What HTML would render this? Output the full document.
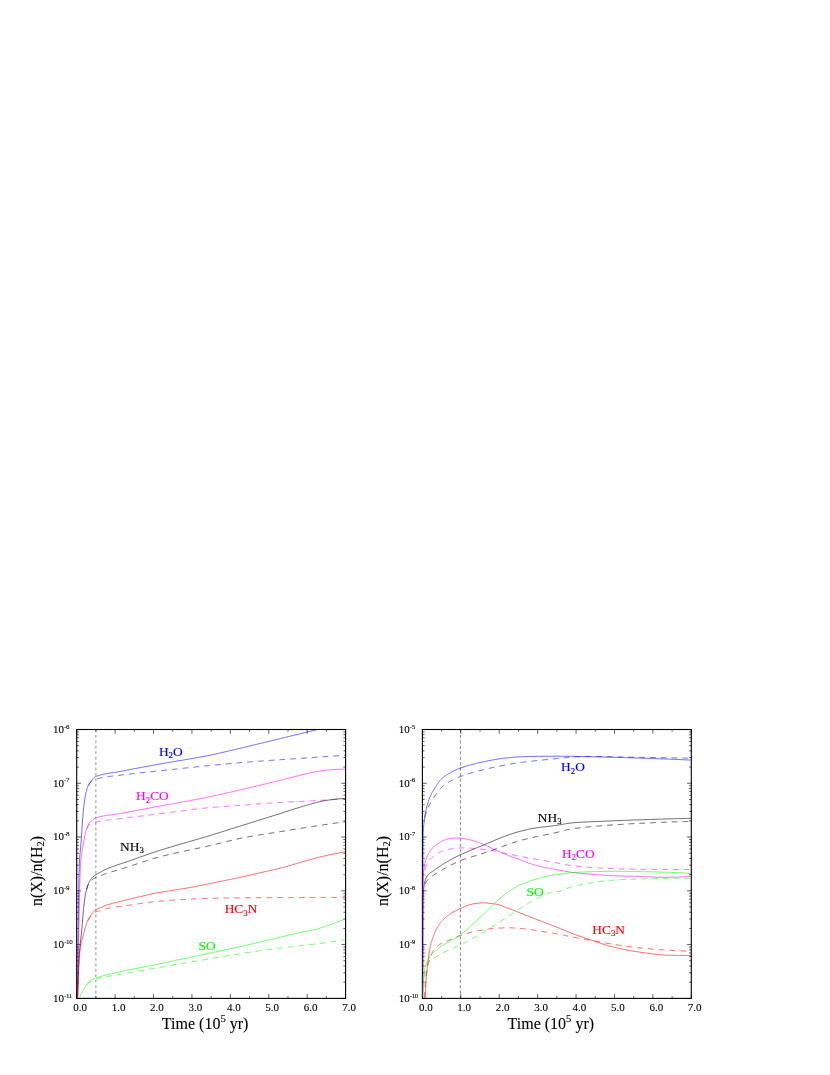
<!DOCTYPE html>
<html><head><meta charset="utf-8"><title>Figure</title>
<style>html,body{margin:0;padding:0;background:#fff}svg{display:block;will-change:transform}text{font-family:"Liberation Serif",serif}.k{stroke:#000;stroke-width:0.1}</style></head><body>
<svg width="830" height="1075" viewBox="0 0 830 1075">
<rect width="830" height="1075" fill="#fff"/>
<defs><clipPath id="c1"><rect x="76.70" y="729.50" width="268.90" height="268.90"/></clipPath><clipPath id="c2"><rect x="422.40" y="729.50" width="268.90" height="268.90"/></clipPath></defs>
<path d="M95.8,729.50 V998.40" stroke="#b8b8b8" stroke-width="1.55" stroke-dasharray="2.8,2.64" fill="none"/>
<path d="M460.4,729.50 V998.40" stroke="#222" stroke-width="0.55" stroke-dasharray="3.2,2.24" fill="none"/>
<rect x="76.70" y="729.50" width="268.90" height="268.90" fill="none" stroke="#000" stroke-width="1.1"/>
<path d="M76.70,998.40 v-4.20 M76.70,729.50 v4.20" stroke="#000" stroke-width="0.65"/>
<path d="M95.91,998.40 v-2.20 M95.91,729.50 v2.20" stroke="#000" stroke-width="0.65"/>
<path d="M115.11,998.40 v-4.20 M115.11,729.50 v4.20" stroke="#000" stroke-width="0.65"/>
<path d="M134.32,998.40 v-2.20 M134.32,729.50 v2.20" stroke="#000" stroke-width="0.65"/>
<path d="M153.53,998.40 v-4.20 M153.53,729.50 v4.20" stroke="#000" stroke-width="0.65"/>
<path d="M172.74,998.40 v-2.20 M172.74,729.50 v2.20" stroke="#000" stroke-width="0.65"/>
<path d="M191.94,998.40 v-4.20 M191.94,729.50 v4.20" stroke="#000" stroke-width="0.65"/>
<path d="M211.15,998.40 v-2.20 M211.15,729.50 v2.20" stroke="#000" stroke-width="0.65"/>
<path d="M230.36,998.40 v-4.20 M230.36,729.50 v4.20" stroke="#000" stroke-width="0.65"/>
<path d="M249.56,998.40 v-2.20 M249.56,729.50 v2.20" stroke="#000" stroke-width="0.65"/>
<path d="M268.77,998.40 v-4.20 M268.77,729.50 v4.20" stroke="#000" stroke-width="0.65"/>
<path d="M287.98,998.40 v-2.20 M287.98,729.50 v2.20" stroke="#000" stroke-width="0.65"/>
<path d="M307.19,998.40 v-4.20 M307.19,729.50 v4.20" stroke="#000" stroke-width="0.65"/>
<path d="M326.39,998.40 v-2.20 M326.39,729.50 v2.20" stroke="#000" stroke-width="0.65"/>
<path d="M345.60,998.40 v-4.20 M345.60,729.50 v4.20" stroke="#000" stroke-width="0.65"/>
<path d="M76.70,729.50 h4.20 M345.60,729.50 h-4.20" stroke="#000" stroke-width="0.65"/>
<path d="M76.70,767.09 h2.20 M345.60,767.09 h-2.20" stroke="#000" stroke-width="0.65"/>
<path d="M76.70,757.62 h2.20 M345.60,757.62 h-2.20" stroke="#000" stroke-width="0.65"/>
<path d="M76.70,750.90 h2.20 M345.60,750.90 h-2.20" stroke="#000" stroke-width="0.65"/>
<path d="M76.70,745.69 h2.20 M345.60,745.69 h-2.20" stroke="#000" stroke-width="0.65"/>
<path d="M76.70,741.43 h2.20 M345.60,741.43 h-2.20" stroke="#000" stroke-width="0.65"/>
<path d="M76.70,737.83 h2.20 M345.60,737.83 h-2.20" stroke="#000" stroke-width="0.65"/>
<path d="M76.70,734.71 h2.20 M345.60,734.71 h-2.20" stroke="#000" stroke-width="0.65"/>
<path d="M76.70,731.96 h2.20 M345.60,731.96 h-2.20" stroke="#000" stroke-width="0.65"/>
<path d="M76.70,783.28 h4.20 M345.60,783.28 h-4.20" stroke="#000" stroke-width="0.65"/>
<path d="M76.70,820.87 h2.20 M345.60,820.87 h-2.20" stroke="#000" stroke-width="0.65"/>
<path d="M76.70,811.40 h2.20 M345.60,811.40 h-2.20" stroke="#000" stroke-width="0.65"/>
<path d="M76.70,804.68 h2.20 M345.60,804.68 h-2.20" stroke="#000" stroke-width="0.65"/>
<path d="M76.70,799.47 h2.20 M345.60,799.47 h-2.20" stroke="#000" stroke-width="0.65"/>
<path d="M76.70,795.21 h2.20 M345.60,795.21 h-2.20" stroke="#000" stroke-width="0.65"/>
<path d="M76.70,791.61 h2.20 M345.60,791.61 h-2.20" stroke="#000" stroke-width="0.65"/>
<path d="M76.70,788.49 h2.20 M345.60,788.49 h-2.20" stroke="#000" stroke-width="0.65"/>
<path d="M76.70,785.74 h2.20 M345.60,785.74 h-2.20" stroke="#000" stroke-width="0.65"/>
<path d="M76.70,837.06 h4.20 M345.60,837.06 h-4.20" stroke="#000" stroke-width="0.65"/>
<path d="M76.70,874.65 h2.20 M345.60,874.65 h-2.20" stroke="#000" stroke-width="0.65"/>
<path d="M76.70,865.18 h2.20 M345.60,865.18 h-2.20" stroke="#000" stroke-width="0.65"/>
<path d="M76.70,858.46 h2.20 M345.60,858.46 h-2.20" stroke="#000" stroke-width="0.65"/>
<path d="M76.70,853.25 h2.20 M345.60,853.25 h-2.20" stroke="#000" stroke-width="0.65"/>
<path d="M76.70,848.99 h2.20 M345.60,848.99 h-2.20" stroke="#000" stroke-width="0.65"/>
<path d="M76.70,845.39 h2.20 M345.60,845.39 h-2.20" stroke="#000" stroke-width="0.65"/>
<path d="M76.70,842.27 h2.20 M345.60,842.27 h-2.20" stroke="#000" stroke-width="0.65"/>
<path d="M76.70,839.52 h2.20 M345.60,839.52 h-2.20" stroke="#000" stroke-width="0.65"/>
<path d="M76.70,890.84 h4.20 M345.60,890.84 h-4.20" stroke="#000" stroke-width="0.65"/>
<path d="M76.70,928.43 h2.20 M345.60,928.43 h-2.20" stroke="#000" stroke-width="0.65"/>
<path d="M76.70,918.96 h2.20 M345.60,918.96 h-2.20" stroke="#000" stroke-width="0.65"/>
<path d="M76.70,912.24 h2.20 M345.60,912.24 h-2.20" stroke="#000" stroke-width="0.65"/>
<path d="M76.70,907.03 h2.20 M345.60,907.03 h-2.20" stroke="#000" stroke-width="0.65"/>
<path d="M76.70,902.77 h2.20 M345.60,902.77 h-2.20" stroke="#000" stroke-width="0.65"/>
<path d="M76.70,899.17 h2.20 M345.60,899.17 h-2.20" stroke="#000" stroke-width="0.65"/>
<path d="M76.70,896.05 h2.20 M345.60,896.05 h-2.20" stroke="#000" stroke-width="0.65"/>
<path d="M76.70,893.30 h2.20 M345.60,893.30 h-2.20" stroke="#000" stroke-width="0.65"/>
<path d="M76.70,944.62 h4.20 M345.60,944.62 h-4.20" stroke="#000" stroke-width="0.65"/>
<path d="M76.70,982.21 h2.20 M345.60,982.21 h-2.20" stroke="#000" stroke-width="0.65"/>
<path d="M76.70,972.74 h2.20 M345.60,972.74 h-2.20" stroke="#000" stroke-width="0.65"/>
<path d="M76.70,966.02 h2.20 M345.60,966.02 h-2.20" stroke="#000" stroke-width="0.65"/>
<path d="M76.70,960.81 h2.20 M345.60,960.81 h-2.20" stroke="#000" stroke-width="0.65"/>
<path d="M76.70,956.55 h2.20 M345.60,956.55 h-2.20" stroke="#000" stroke-width="0.65"/>
<path d="M76.70,952.95 h2.20 M345.60,952.95 h-2.20" stroke="#000" stroke-width="0.65"/>
<path d="M76.70,949.83 h2.20 M345.60,949.83 h-2.20" stroke="#000" stroke-width="0.65"/>
<path d="M76.70,947.08 h2.20 M345.60,947.08 h-2.20" stroke="#000" stroke-width="0.65"/>
<path d="M76.70,998.40 h4.20 M345.60,998.40 h-4.20" stroke="#000" stroke-width="0.65"/>
<text class="k" x="80.10" y="1010.60" font-size="11" text-anchor="middle">0.0</text>
<text class="k" x="118.51" y="1010.60" font-size="11" text-anchor="middle">1.0</text>
<text class="k" x="156.93" y="1010.60" font-size="11" text-anchor="middle">2.0</text>
<text class="k" x="195.34" y="1010.60" font-size="11" text-anchor="middle">3.0</text>
<text class="k" x="233.76" y="1010.60" font-size="11" text-anchor="middle">4.0</text>
<text class="k" x="272.17" y="1010.60" font-size="11" text-anchor="middle">5.0</text>
<text class="k" x="310.59" y="1010.60" font-size="11" text-anchor="middle">6.0</text>
<text class="k" x="349.00" y="1010.60" font-size="11" text-anchor="middle">7.0</text>
<text class="k" x="53.00" y="732.90" font-size="11">10<tspan font-size="7" dy="-4.3" letter-spacing="-0.35">-6</tspan></text>
<text class="k" x="53.00" y="786.68" font-size="11">10<tspan font-size="7" dy="-4.3" letter-spacing="-0.35">-7</tspan></text>
<text class="k" x="53.00" y="840.46" font-size="11">10<tspan font-size="7" dy="-4.3" letter-spacing="-0.35">-8</tspan></text>
<text class="k" x="53.00" y="894.24" font-size="11">10<tspan font-size="7" dy="-4.3" letter-spacing="-0.35">-9</tspan></text>
<text class="k" x="53.00" y="948.02" font-size="11">10<tspan font-size="7" dy="-4.3" letter-spacing="-0.35">-10</tspan></text>
<text class="k" x="53.00" y="1001.80" font-size="11">10<tspan font-size="7" dy="-4.3" letter-spacing="-0.35">-11</tspan></text>
<text class="k" x="205.15" y="1028.70" font-size="16" text-anchor="middle">Time (10<tspan font-size="10.8" dy="-7.1">5</tspan><tspan dy="7.1"> yr)</tspan></text>
<text class="k" transform="translate(41.90,871.00) rotate(-90)" font-size="16" text-anchor="middle">n(X)/n(H<tspan font-size="10.5" dy="2.4">2</tspan><tspan dy="-2.4">)</tspan></text>
<rect x="422.40" y="729.50" width="268.90" height="268.90" fill="none" stroke="#000" stroke-width="1.1"/>
<path d="M422.40,998.40 v-4.20 M422.40,729.50 v4.20" stroke="#000" stroke-width="0.65"/>
<path d="M441.61,998.40 v-2.20 M441.61,729.50 v2.20" stroke="#000" stroke-width="0.65"/>
<path d="M460.81,998.40 v-4.20 M460.81,729.50 v4.20" stroke="#000" stroke-width="0.65"/>
<path d="M480.02,998.40 v-2.20 M480.02,729.50 v2.20" stroke="#000" stroke-width="0.65"/>
<path d="M499.23,998.40 v-4.20 M499.23,729.50 v4.20" stroke="#000" stroke-width="0.65"/>
<path d="M518.44,998.40 v-2.20 M518.44,729.50 v2.20" stroke="#000" stroke-width="0.65"/>
<path d="M537.64,998.40 v-4.20 M537.64,729.50 v4.20" stroke="#000" stroke-width="0.65"/>
<path d="M556.85,998.40 v-2.20 M556.85,729.50 v2.20" stroke="#000" stroke-width="0.65"/>
<path d="M576.06,998.40 v-4.20 M576.06,729.50 v4.20" stroke="#000" stroke-width="0.65"/>
<path d="M595.26,998.40 v-2.20 M595.26,729.50 v2.20" stroke="#000" stroke-width="0.65"/>
<path d="M614.47,998.40 v-4.20 M614.47,729.50 v4.20" stroke="#000" stroke-width="0.65"/>
<path d="M633.68,998.40 v-2.20 M633.68,729.50 v2.20" stroke="#000" stroke-width="0.65"/>
<path d="M652.89,998.40 v-4.20 M652.89,729.50 v4.20" stroke="#000" stroke-width="0.65"/>
<path d="M672.09,998.40 v-2.20 M672.09,729.50 v2.20" stroke="#000" stroke-width="0.65"/>
<path d="M691.30,998.40 v-4.20 M691.30,729.50 v4.20" stroke="#000" stroke-width="0.65"/>
<path d="M422.40,729.50 h4.20 M691.30,729.50 h-4.20" stroke="#000" stroke-width="0.65"/>
<path d="M422.40,767.09 h2.20 M691.30,767.09 h-2.20" stroke="#000" stroke-width="0.65"/>
<path d="M422.40,757.62 h2.20 M691.30,757.62 h-2.20" stroke="#000" stroke-width="0.65"/>
<path d="M422.40,750.90 h2.20 M691.30,750.90 h-2.20" stroke="#000" stroke-width="0.65"/>
<path d="M422.40,745.69 h2.20 M691.30,745.69 h-2.20" stroke="#000" stroke-width="0.65"/>
<path d="M422.40,741.43 h2.20 M691.30,741.43 h-2.20" stroke="#000" stroke-width="0.65"/>
<path d="M422.40,737.83 h2.20 M691.30,737.83 h-2.20" stroke="#000" stroke-width="0.65"/>
<path d="M422.40,734.71 h2.20 M691.30,734.71 h-2.20" stroke="#000" stroke-width="0.65"/>
<path d="M422.40,731.96 h2.20 M691.30,731.96 h-2.20" stroke="#000" stroke-width="0.65"/>
<path d="M422.40,783.28 h4.20 M691.30,783.28 h-4.20" stroke="#000" stroke-width="0.65"/>
<path d="M422.40,820.87 h2.20 M691.30,820.87 h-2.20" stroke="#000" stroke-width="0.65"/>
<path d="M422.40,811.40 h2.20 M691.30,811.40 h-2.20" stroke="#000" stroke-width="0.65"/>
<path d="M422.40,804.68 h2.20 M691.30,804.68 h-2.20" stroke="#000" stroke-width="0.65"/>
<path d="M422.40,799.47 h2.20 M691.30,799.47 h-2.20" stroke="#000" stroke-width="0.65"/>
<path d="M422.40,795.21 h2.20 M691.30,795.21 h-2.20" stroke="#000" stroke-width="0.65"/>
<path d="M422.40,791.61 h2.20 M691.30,791.61 h-2.20" stroke="#000" stroke-width="0.65"/>
<path d="M422.40,788.49 h2.20 M691.30,788.49 h-2.20" stroke="#000" stroke-width="0.65"/>
<path d="M422.40,785.74 h2.20 M691.30,785.74 h-2.20" stroke="#000" stroke-width="0.65"/>
<path d="M422.40,837.06 h4.20 M691.30,837.06 h-4.20" stroke="#000" stroke-width="0.65"/>
<path d="M422.40,874.65 h2.20 M691.30,874.65 h-2.20" stroke="#000" stroke-width="0.65"/>
<path d="M422.40,865.18 h2.20 M691.30,865.18 h-2.20" stroke="#000" stroke-width="0.65"/>
<path d="M422.40,858.46 h2.20 M691.30,858.46 h-2.20" stroke="#000" stroke-width="0.65"/>
<path d="M422.40,853.25 h2.20 M691.30,853.25 h-2.20" stroke="#000" stroke-width="0.65"/>
<path d="M422.40,848.99 h2.20 M691.30,848.99 h-2.20" stroke="#000" stroke-width="0.65"/>
<path d="M422.40,845.39 h2.20 M691.30,845.39 h-2.20" stroke="#000" stroke-width="0.65"/>
<path d="M422.40,842.27 h2.20 M691.30,842.27 h-2.20" stroke="#000" stroke-width="0.65"/>
<path d="M422.40,839.52 h2.20 M691.30,839.52 h-2.20" stroke="#000" stroke-width="0.65"/>
<path d="M422.40,890.84 h4.20 M691.30,890.84 h-4.20" stroke="#000" stroke-width="0.65"/>
<path d="M422.40,928.43 h2.20 M691.30,928.43 h-2.20" stroke="#000" stroke-width="0.65"/>
<path d="M422.40,918.96 h2.20 M691.30,918.96 h-2.20" stroke="#000" stroke-width="0.65"/>
<path d="M422.40,912.24 h2.20 M691.30,912.24 h-2.20" stroke="#000" stroke-width="0.65"/>
<path d="M422.40,907.03 h2.20 M691.30,907.03 h-2.20" stroke="#000" stroke-width="0.65"/>
<path d="M422.40,902.77 h2.20 M691.30,902.77 h-2.20" stroke="#000" stroke-width="0.65"/>
<path d="M422.40,899.17 h2.20 M691.30,899.17 h-2.20" stroke="#000" stroke-width="0.65"/>
<path d="M422.40,896.05 h2.20 M691.30,896.05 h-2.20" stroke="#000" stroke-width="0.65"/>
<path d="M422.40,893.30 h2.20 M691.30,893.30 h-2.20" stroke="#000" stroke-width="0.65"/>
<path d="M422.40,944.62 h4.20 M691.30,944.62 h-4.20" stroke="#000" stroke-width="0.65"/>
<path d="M422.40,982.21 h2.20 M691.30,982.21 h-2.20" stroke="#000" stroke-width="0.65"/>
<path d="M422.40,972.74 h2.20 M691.30,972.74 h-2.20" stroke="#000" stroke-width="0.65"/>
<path d="M422.40,966.02 h2.20 M691.30,966.02 h-2.20" stroke="#000" stroke-width="0.65"/>
<path d="M422.40,960.81 h2.20 M691.30,960.81 h-2.20" stroke="#000" stroke-width="0.65"/>
<path d="M422.40,956.55 h2.20 M691.30,956.55 h-2.20" stroke="#000" stroke-width="0.65"/>
<path d="M422.40,952.95 h2.20 M691.30,952.95 h-2.20" stroke="#000" stroke-width="0.65"/>
<path d="M422.40,949.83 h2.20 M691.30,949.83 h-2.20" stroke="#000" stroke-width="0.65"/>
<path d="M422.40,947.08 h2.20 M691.30,947.08 h-2.20" stroke="#000" stroke-width="0.65"/>
<path d="M422.40,998.40 h4.20 M691.30,998.40 h-4.20" stroke="#000" stroke-width="0.65"/>
<text class="k" x="425.80" y="1010.60" font-size="11" text-anchor="middle">0.0</text>
<text class="k" x="464.21" y="1010.60" font-size="11" text-anchor="middle">1.0</text>
<text class="k" x="502.63" y="1010.60" font-size="11" text-anchor="middle">2.0</text>
<text class="k" x="541.04" y="1010.60" font-size="11" text-anchor="middle">3.0</text>
<text class="k" x="579.46" y="1010.60" font-size="11" text-anchor="middle">4.0</text>
<text class="k" x="617.87" y="1010.60" font-size="11" text-anchor="middle">5.0</text>
<text class="k" x="656.29" y="1010.60" font-size="11" text-anchor="middle">6.0</text>
<text class="k" x="694.70" y="1010.60" font-size="11" text-anchor="middle">7.0</text>
<text class="k" x="398.70" y="732.90" font-size="11">10<tspan font-size="7" dy="-4.3" letter-spacing="-0.35">-5</tspan></text>
<text class="k" x="398.70" y="786.68" font-size="11">10<tspan font-size="7" dy="-4.3" letter-spacing="-0.35">-6</tspan></text>
<text class="k" x="398.70" y="840.46" font-size="11">10<tspan font-size="7" dy="-4.3" letter-spacing="-0.35">-7</tspan></text>
<text class="k" x="398.70" y="894.24" font-size="11">10<tspan font-size="7" dy="-4.3" letter-spacing="-0.35">-8</tspan></text>
<text class="k" x="398.70" y="948.02" font-size="11">10<tspan font-size="7" dy="-4.3" letter-spacing="-0.35">-9</tspan></text>
<text class="k" x="398.70" y="1001.80" font-size="11">10<tspan font-size="7" dy="-4.3" letter-spacing="-0.35">-10</tspan></text>
<text class="k" x="550.85" y="1028.70" font-size="16" text-anchor="middle">Time (10<tspan font-size="10.8" dy="-7.1">5</tspan><tspan dy="7.1"> yr)</tspan></text>
<text class="k" transform="translate(387.60,871.00) rotate(-90)" font-size="16" text-anchor="middle">n(X)/n(H<tspan font-size="10.5" dy="2.4">2</tspan><tspan dy="-2.4">)</tspan></text>
<path d="M77.40,998.00 L77.61,978.30 L77.82,959.72 L78.03,942.58 L78.21,929.55 L78.24,927.14 L78.45,911.89 L78.66,896.90 L78.87,883.34 L79.01,875.57 L79.08,872.39 L79.29,865.21 L79.50,860.95 L79.71,857.50 L79.82,855.98 L79.92,854.67 L80.13,852.27 L80.34,850.13 L80.55,848.06 L80.63,847.30 L80.76,845.86 L80.97,843.37 L81.18,840.54 L81.39,837.57 L81.43,836.99 L81.60,834.49 L81.81,831.36 L82.02,828.22 L82.23,825.10 L82.24,825.01 L82.44,822.05 L82.65,819.11 L82.86,816.34 L83.04,814.09 L83.07,813.76 L83.28,811.42 L83.49,809.37 L83.70,807.51 L83.85,806.25 L83.91,805.73 L84.12,804.02 L84.33,802.38 L84.54,800.83 L84.66,800.01 L84.75,799.35 L84.96,797.97 L85.17,796.67 L85.38,795.46 L85.46,795.03 L85.59,794.36 L85.80,793.35 L86.01,792.45 L86.22,791.61 L86.27,791.44 L86.43,790.83 L86.64,790.09 L86.85,789.39 L87.06,788.73 L87.08,788.70 L87.27,788.11 L87.48,787.53 L87.69,786.97 L87.88,786.50 L87.90,786.45 L88.11,785.95 L88.32,785.48 L88.53,785.04 L88.69,784.72 L88.74,784.61 L88.95,784.19 L89.16,783.80 L89.37,783.41 L89.50,783.19 L89.58,783.04 L89.79,782.68 L90.01,782.33 L90.22,782.00 L90.30,781.87 L90.43,781.68 L90.64,781.38 L90.85,781.09 L91.06,780.81 L91.11,780.74 L91.27,780.54 L91.48,780.28 L91.69,780.04 L91.90,779.80 L91.91,779.78 L92.11,779.58 L92.32,779.36 L92.53,779.14 L92.72,778.94 L92.74,778.92 L92.95,778.71 L93.16,778.51 L93.37,778.30 L93.53,778.15 L93.58,778.11 L93.79,777.92 L94.00,777.74 L94.21,777.56 L94.33,777.46 L94.42,777.39 L94.63,777.24 L94.84,777.09 L95.05,776.95 L95.14,776.89 L95.26,776.81 L95.47,776.69 L95.68,776.58 L95.89,776.49 L95.95,776.46 L96.10,776.40 L96.31,776.32 L96.52,776.24 L96.73,776.17 L96.75,776.16 L96.94,776.09 L97.15,776.02 L97.36,775.94 L97.56,775.88 L97.57,775.87 L97.78,775.80 L97.99,775.73 L98.20,775.66 L98.37,775.61 L98.41,775.60 L98.62,775.53 L98.83,775.46 L99.04,775.40 L99.17,775.36 L99.25,775.34 L99.46,775.27 L99.67,775.21 L99.88,775.15 L99.98,775.12 L100.09,775.09 L100.30,775.03 L100.51,774.98 L100.72,774.92 L100.78,774.90 L100.93,774.86 L101.14,774.81 L101.35,774.75 L101.56,774.70 L101.59,774.69 L101.77,774.65 L101.98,774.60 L102.19,774.55 L102.40,774.50 L102.40,774.50 L103.20,774.31 L104.01,774.14 L104.82,773.97 L105.62,773.82 L106.43,773.67 L107.24,773.53 L108.04,773.39 L108.85,773.26 L109.65,773.14 L110.46,773.01 L111.27,772.89 L112.07,772.78 L112.88,772.66 L113.69,772.54 L114.49,772.42 L115.30,772.30 L116.11,772.18 L116.91,772.05 L117.72,771.92 L118.52,771.78 L119.33,771.64 L120.14,771.49 L120.94,771.33 L121.75,771.17 L122.56,771.02 L123.36,770.86 L124.17,770.70 L124.97,770.54 L125.78,770.38 L126.59,770.23 L127.39,770.07 L128.20,769.91 L129.01,769.76 L129.81,769.60 L130.62,769.45 L131.43,769.29 L132.23,769.14 L133.04,768.98 L133.84,768.83 L134.65,768.67 L135.46,768.52 L136.26,768.37 L137.07,768.21 L137.88,768.06 L138.68,767.91 L139.49,767.76 L140.30,767.60 L141.10,767.45 L141.91,767.30 L142.71,767.15 L143.52,767.00 L144.33,766.85 L145.13,766.70 L145.94,766.54 L146.75,766.39 L147.55,766.24 L148.36,766.10 L149.17,765.95 L149.97,765.80 L150.78,765.65 L151.58,765.50 L152.39,765.35 L153.20,765.20 L154.00,765.05 L154.81,764.91 L155.62,764.76 L156.42,764.61 L157.23,764.47 L158.04,764.33 L158.84,764.18 L159.65,764.04 L160.45,763.90 L161.26,763.76 L162.07,763.62 L162.87,763.48 L163.68,763.34 L164.49,763.20 L165.29,763.06 L166.10,762.92 L166.91,762.79 L167.71,762.65 L168.52,762.51 L169.32,762.38 L170.13,762.24 L170.94,762.10 L171.74,761.97 L172.55,761.83 L173.36,761.70 L174.16,761.56 L174.97,761.43 L175.78,761.30 L176.58,761.16 L177.39,761.03 L178.19,760.89 L179.00,760.76 L179.81,760.62 L180.61,760.49 L181.42,760.35 L182.23,760.22 L183.03,760.08 L183.84,759.95 L184.65,759.81 L185.45,759.68 L186.26,759.54 L187.06,759.40 L187.87,759.27 L188.68,759.13 L189.48,758.99 L190.29,758.85 L191.10,758.71 L191.90,758.57 L192.71,758.43 L193.52,758.29 L194.32,758.15 L195.13,758.01 L195.93,757.86 L196.74,757.72 L197.55,757.57 L198.35,757.43 L199.16,757.28 L199.97,757.13 L200.77,756.98 L201.58,756.83 L202.38,756.68 L203.19,756.53 L204.00,756.38 L204.80,756.22 L205.61,756.07 L206.42,755.91 L207.22,755.75 L208.03,755.59 L208.84,755.43 L209.64,755.27 L210.45,755.11 L211.25,754.94 L212.06,754.78 L212.87,754.61 L213.67,754.44 L214.48,754.26 L215.29,754.09 L216.09,753.91 L216.90,753.74 L217.71,753.56 L218.51,753.38 L219.32,753.19 L220.12,753.01 L220.93,752.83 L221.74,752.64 L222.54,752.45 L223.35,752.27 L224.16,752.08 L224.96,751.89 L225.77,751.70 L226.58,751.51 L227.38,751.31 L228.19,751.12 L228.99,750.93 L229.80,750.73 L230.61,750.54 L231.41,750.35 L232.22,750.15 L233.03,749.96 L233.83,749.76 L234.64,749.57 L235.45,749.37 L236.25,749.18 L237.06,748.99 L237.86,748.79 L238.67,748.60 L239.48,748.40 L240.28,748.21 L241.09,748.02 L241.90,747.83 L242.70,747.64 L243.51,747.44 L244.32,747.26 L245.12,747.06 L245.93,746.87 L246.73,746.68 L247.54,746.49 L248.35,746.30 L249.15,746.11 L249.96,745.92 L250.77,745.73 L251.57,745.54 L252.38,745.34 L253.19,745.15 L253.99,744.96 L254.80,744.77 L255.60,744.57 L256.41,744.38 L257.22,744.19 L258.02,744.00 L258.83,743.80 L259.64,743.61 L260.44,743.42 L261.25,743.22 L262.06,743.03 L262.86,742.83 L263.67,742.64 L264.47,742.45 L265.28,742.25 L266.09,742.06 L266.89,741.86 L267.70,741.67 L268.51,741.47 L269.31,741.28 L270.12,741.08 L270.93,740.89 L271.73,740.69 L272.54,740.50 L273.34,740.31 L274.15,740.11 L274.96,739.92 L275.76,739.72 L276.57,739.53 L277.38,739.33 L278.18,739.13 L278.99,738.94 L279.79,738.74 L280.60,738.55 L281.41,738.35 L282.21,738.16 L283.02,737.96 L283.83,737.77 L284.63,737.57 L285.44,737.38 L286.25,737.18 L287.05,736.99 L287.86,736.79 L288.66,736.60 L289.47,736.40 L290.28,736.20 L291.08,736.01 L291.89,735.81 L292.70,735.61 L293.50,735.42 L294.31,735.22 L295.12,735.02 L295.92,734.83 L296.73,734.63 L297.53,734.43 L298.34,734.24 L299.15,734.04 L299.95,733.84 L300.76,733.64 L301.57,733.44 L302.37,733.24 L303.18,733.05 L303.99,732.85 L304.79,732.65 L305.60,732.45 L306.40,732.25 L307.21,732.05 L308.02,731.85 L308.82,731.64 L309.63,731.44 L310.44,731.24 L311.24,731.04 L312.05,730.84 L312.86,730.63 L313.66,730.43 L314.47,730.22 L315.27,730.02 L316.08,729.81 L316.89,729.61 L317.69,729.41 L318.50,729.20" fill="none" stroke="#0000ff" stroke-width="0.6" clip-path="url(#c1)"/>
<path d="M88.60,785.20 L88.81,784.88 L89.02,784.57 L89.23,784.27 L89.44,783.97 L89.46,783.94 L89.65,783.67 L89.86,783.39 L90.07,783.11 L90.28,782.84 L90.32,782.80 L90.49,782.59 L90.70,782.34 L90.91,782.11 L91.12,781.89 L91.17,781.84 L91.33,781.68 L91.54,781.49 L91.75,781.31 L91.96,781.15 L92.03,781.10 L92.17,781.00 L92.38,780.85 L92.59,780.71 L92.80,780.57 L92.89,780.51 L93.01,780.43 L93.22,780.30 L93.43,780.18 L93.64,780.05 L93.75,780.00 L93.85,779.94 L94.06,779.82 L94.27,779.72 L94.48,779.61 L94.60,779.56 L94.69,779.52 L94.90,779.42 L95.11,779.34 L95.32,779.26 L95.46,779.20 L95.53,779.18 L95.74,779.11 L95.95,779.04 L96.16,778.98 L96.32,778.94 L96.37,778.92 L96.58,778.87 L96.79,778.81 L97.00,778.75 L97.18,778.71 L97.21,778.70 L97.42,778.65 L97.63,778.59 L97.84,778.54 L98.03,778.49 L98.05,778.49 L98.26,778.43 L98.47,778.38 L98.68,778.33 L98.89,778.28 L98.89,778.28 L99.10,778.23 L99.31,778.19 L99.52,778.14 L99.73,778.09 L99.75,778.09 L99.94,778.05 L100.15,778.00 L100.36,777.95 L100.57,777.91 L100.61,777.90 L100.78,777.87 L100.99,777.82 L101.21,777.78 L101.42,777.74 L101.46,777.73 L101.63,777.70 L101.84,777.65 L102.05,777.61 L102.26,777.57 L102.32,777.56 L102.47,777.53 L102.68,777.49 L102.89,777.46 L103.10,777.42 L103.18,777.40 L103.31,777.38 L103.52,777.34 L103.73,777.31 L103.94,777.27 L104.04,777.25 L104.15,777.23 L104.36,777.20 L104.57,777.16 L104.78,777.13 L104.89,777.11 L104.99,777.09 L105.20,777.06 L105.41,777.03 L105.62,776.99 L105.75,776.97 L105.83,776.96 L106.04,776.93 L106.25,776.90 L106.46,776.87 L106.61,776.84 L106.67,776.83 L106.88,776.80 L107.09,776.77 L107.30,776.74 L107.47,776.72 L107.51,776.71 L107.72,776.68 L107.93,776.65 L108.14,776.63 L108.32,776.60 L108.35,776.60 L108.56,776.57 L108.77,776.54 L108.98,776.51 L109.18,776.49 L109.19,776.48 L109.40,776.46 L109.61,776.43 L109.82,776.40 L110.03,776.38 L110.04,776.37 L110.24,776.35 L110.45,776.32 L110.66,776.30 L110.87,776.27 L110.90,776.27 L111.08,776.24 L111.29,776.22 L111.50,776.19 L111.71,776.17 L111.75,776.16 L111.92,776.14 L112.13,776.12 L112.34,776.09 L112.55,776.07 L112.61,776.06 L112.76,776.04 L112.97,776.02 L113.18,775.99 L113.39,775.97 L113.47,775.96 L113.60,775.94 L114.33,775.86 L115.18,775.76 L116.04,775.66 L116.90,775.56 L117.76,775.46 L118.61,775.35 L119.47,775.25 L120.33,775.14 L121.19,775.02 L122.04,774.91 L122.90,774.80 L123.76,774.70 L124.62,774.59 L125.47,774.49 L126.33,774.38 L127.19,774.28 L128.05,774.18 L128.90,774.08 L129.76,773.99 L130.62,773.89 L131.48,773.79 L132.33,773.70 L133.19,773.61 L134.05,773.51 L134.91,773.42 L135.76,773.33 L136.62,773.24 L137.48,773.15 L138.34,773.06 L139.19,772.97 L140.05,772.88 L140.91,772.79 L141.77,772.70 L142.62,772.62 L143.48,772.53 L144.34,772.44 L145.20,772.35 L146.05,772.26 L146.91,772.18 L147.77,772.09 L148.63,772.00 L149.48,771.91 L150.34,771.82 L151.20,771.73 L152.06,771.64 L152.91,771.55 L153.77,771.46 L154.63,771.36 L155.49,771.27 L156.34,771.18 L157.20,771.09 L158.06,770.99 L158.92,770.90 L159.77,770.81 L160.63,770.71 L161.49,770.62 L162.35,770.53 L163.20,770.43 L164.06,770.34 L164.92,770.25 L165.78,770.15 L166.63,770.06 L167.49,769.97 L168.35,769.87 L169.21,769.78 L170.06,769.69 L170.92,769.59 L171.78,769.50 L172.64,769.41 L173.49,769.32 L174.35,769.22 L175.21,769.13 L176.07,769.04 L176.93,768.94 L177.78,768.85 L178.64,768.76 L179.50,768.67 L180.36,768.57 L181.21,768.48 L182.07,768.39 L182.93,768.30 L183.79,768.20 L184.64,768.11 L185.50,768.02 L186.36,767.93 L187.22,767.84 L188.07,767.75 L188.93,767.66 L189.79,767.57 L190.65,767.47 L191.50,767.38 L192.36,767.29 L193.22,767.20 L194.08,767.11 L194.93,767.03 L195.79,766.94 L196.65,766.85 L197.51,766.76 L198.36,766.67 L199.22,766.58 L200.08,766.49 L200.94,766.41 L201.79,766.32 L202.65,766.23 L203.51,766.15 L204.37,766.06 L205.22,765.97 L206.08,765.89 L206.94,765.80 L207.80,765.72 L208.65,765.63 L209.51,765.55 L210.37,765.46 L211.23,765.38 L212.08,765.30 L212.94,765.21 L213.80,765.13 L214.66,765.05 L215.51,764.96 L216.37,764.88 L217.23,764.80 L218.09,764.71 L218.94,764.63 L219.80,764.55 L220.66,764.47 L221.52,764.39 L222.37,764.30 L223.23,764.22 L224.09,764.14 L224.95,764.06 L225.80,763.98 L226.66,763.90 L227.52,763.82 L228.38,763.74 L229.23,763.66 L230.09,763.58 L230.95,763.51 L231.81,763.43 L232.66,763.35 L233.52,763.27 L234.38,763.20 L235.24,763.12 L236.09,763.05 L236.95,762.97 L237.81,762.90 L238.67,762.82 L239.52,762.75 L240.38,762.68 L241.24,762.60 L242.10,762.53 L242.95,762.46 L243.81,762.39 L244.67,762.32 L245.53,762.25 L246.38,762.18 L247.24,762.11 L248.10,762.05 L248.96,761.98 L249.81,761.91 L250.67,761.85 L251.53,761.78 L252.39,761.71 L253.24,761.65 L254.10,761.58 L254.96,761.52 L255.82,761.46 L256.67,761.39 L257.53,761.33 L258.39,761.26 L259.25,761.20 L260.11,761.14 L260.96,761.08 L261.82,761.02 L262.68,760.95 L263.54,760.89 L264.39,760.83 L265.25,760.77 L266.11,760.71 L266.97,760.65 L267.82,760.59 L268.68,760.52 L269.54,760.46 L270.40,760.40 L271.25,760.34 L272.11,760.28 L272.97,760.22 L273.83,760.16 L274.68,760.10 L275.54,760.04 L276.40,759.98 L277.26,759.92 L278.11,759.86 L278.97,759.80 L279.83,759.74 L280.69,759.68 L281.54,759.62 L282.40,759.56 L283.26,759.50 L284.12,759.44 L284.97,759.38 L285.83,759.32 L286.69,759.26 L287.55,759.20 L288.40,759.15 L289.26,759.09 L290.12,759.03 L290.98,758.97 L291.83,758.91 L292.69,758.86 L293.55,758.80 L294.41,758.74 L295.26,758.68 L296.12,758.63 L296.98,758.57 L297.84,758.51 L298.69,758.45 L299.55,758.39 L300.41,758.34 L301.27,758.28 L302.12,758.22 L302.98,758.16 L303.84,758.11 L304.70,758.05 L305.55,757.99 L306.41,757.93 L307.27,757.87 L308.13,757.81 L308.98,757.75 L309.84,757.69 L310.70,757.63 L311.56,757.58 L312.41,757.52 L313.27,757.46 L314.13,757.40 L314.99,757.34 L315.84,757.28 L316.70,757.22 L317.56,757.16 L318.42,757.10 L319.27,757.04 L320.13,756.97 L320.99,756.91 L321.85,756.85 L322.70,756.79 L323.56,756.73 L324.42,756.67 L325.28,756.61 L326.13,756.55 L326.99,756.49 L327.85,756.43 L328.71,756.37 L329.56,756.31 L330.42,756.25 L331.28,756.19 L332.14,756.12 L332.99,756.06 L333.85,756.00 L334.71,755.94 L335.57,755.88 L336.42,755.82 L337.28,755.76 L338.14,755.69 L339.00,755.63 L339.85,755.57 L340.71,755.51 L341.57,755.45 L342.43,755.39 L343.28,755.32 L344.14,755.26 L345.00,755.20" fill="none" stroke="#0000ff" stroke-width="0.6" stroke-dasharray="5.8,5" clip-path="url(#c1)"/>
<path d="M77.60,998.00 L77.81,984.69 L78.02,971.83 L78.23,959.55 L78.44,947.96 L78.49,945.06 L78.65,937.15 L78.86,927.19 L79.07,917.23 L79.28,907.21 L79.39,902.09 L79.49,897.47 L79.70,888.34 L79.91,880.15 L80.12,873.22 L80.28,868.91 L80.33,867.90 L80.54,864.46 L80.75,861.90 L80.96,859.60 L81.17,857.53 L81.18,857.45 L81.38,855.66 L81.59,853.99 L81.80,852.47 L82.01,851.09 L82.07,850.70 L82.22,849.82 L82.43,848.63 L82.64,847.50 L82.85,846.41 L82.97,845.80 L83.06,845.33 L83.27,844.23 L83.48,843.10 L83.69,841.93 L83.86,840.99 L83.90,840.78 L84.11,839.65 L84.32,838.53 L84.53,837.44 L84.74,836.37 L84.76,836.29 L84.95,835.34 L85.16,834.34 L85.37,833.38 L85.58,832.46 L85.65,832.16 L85.79,831.59 L86.00,830.77 L86.21,830.00 L86.42,829.28 L86.55,828.88 L86.63,828.63 L86.84,828.05 L87.05,827.51 L87.26,827.01 L87.44,826.58 L87.47,826.52 L87.68,826.05 L87.89,825.60 L88.10,825.18 L88.31,824.77 L88.34,824.72 L88.52,824.38 L88.73,824.02 L88.94,823.67 L89.15,823.34 L89.23,823.22 L89.36,823.04 L89.57,822.75 L89.78,822.48 L89.99,822.23 L90.13,822.08 L90.21,821.99 L90.42,821.77 L90.63,821.56 L90.84,821.35 L91.02,821.16 L91.05,821.14 L91.26,820.94 L91.47,820.74 L91.68,820.55 L91.89,820.37 L91.92,820.34 L92.10,820.18 L92.31,820.01 L92.52,819.84 L92.73,819.67 L92.81,819.60 L92.94,819.51 L93.15,819.36 L93.36,819.21 L93.57,819.06 L93.71,818.97 L93.78,818.93 L93.99,818.79 L94.20,818.67 L94.41,818.55 L94.60,818.44 L94.62,818.43 L94.83,818.33 L95.04,818.22 L95.25,818.13 L95.46,818.04 L95.50,818.02 L95.67,817.95 L95.88,817.88 L96.09,817.80 L96.30,817.74 L96.39,817.71 L96.51,817.67 L96.72,817.61 L96.93,817.54 L97.14,817.48 L97.29,817.43 L97.35,817.42 L97.56,817.36 L97.77,817.30 L97.98,817.24 L98.18,817.18 L98.19,817.18 L98.40,817.12 L98.61,817.07 L98.82,817.01 L99.03,816.96 L99.08,816.94 L99.24,816.90 L99.45,816.85 L99.66,816.80 L99.87,816.75 L99.97,816.72 L100.08,816.70 L100.29,816.65 L100.50,816.60 L100.71,816.55 L100.87,816.52 L100.92,816.51 L101.13,816.46 L101.34,816.41 L101.55,816.37 L101.76,816.33 L101.76,816.32 L101.97,816.28 L102.18,816.24 L102.39,816.20 L102.60,816.16 L102.66,816.14 L103.55,815.98 L104.45,815.82 L105.34,815.67 L106.24,815.53 L107.13,815.40 L108.03,815.27 L108.92,815.15 L109.82,815.03 L110.71,814.91 L111.61,814.80 L112.50,814.68 L113.40,814.57 L114.29,814.45 L115.19,814.34 L116.08,814.21 L116.98,814.09 L117.87,813.95 L118.77,813.81 L119.66,813.66 L120.56,813.51 L121.45,813.34 L122.35,813.18 L123.24,813.02 L124.14,812.85 L125.03,812.68 L125.93,812.52 L126.82,812.35 L127.72,812.18 L128.61,812.01 L129.51,811.84 L130.40,811.67 L131.30,811.50 L132.19,811.33 L133.09,811.16 L133.98,810.99 L134.88,810.82 L135.77,810.65 L136.67,810.48 L137.56,810.30 L138.46,810.13 L139.35,809.96 L140.25,809.79 L141.14,809.62 L142.04,809.44 L142.93,809.27 L143.83,809.10 L144.72,808.93 L145.62,808.75 L146.51,808.58 L147.41,808.41 L148.30,808.24 L149.20,808.07 L150.09,807.90 L150.99,807.73 L151.88,807.56 L152.78,807.39 L153.67,807.22 L154.57,807.05 L155.46,806.88 L156.36,806.71 L157.25,806.55 L158.15,806.38 L159.04,806.21 L159.94,806.05 L160.83,805.88 L161.73,805.72 L162.62,805.56 L163.52,805.39 L164.41,805.23 L165.31,805.07 L166.20,804.90 L167.10,804.74 L167.99,804.58 L168.89,804.42 L169.78,804.25 L170.68,804.09 L171.57,803.93 L172.47,803.77 L173.36,803.61 L174.26,803.45 L175.15,803.29 L176.05,803.12 L176.94,802.96 L177.84,802.80 L178.73,802.64 L179.63,802.48 L180.52,802.32 L181.42,802.15 L182.31,801.99 L183.21,801.83 L184.10,801.67 L185.00,801.50 L185.89,801.34 L186.79,801.18 L187.68,801.01 L188.58,800.85 L189.47,800.68 L190.37,800.52 L191.26,800.35 L192.16,800.18 L193.05,800.02 L193.95,799.85 L194.84,799.68 L195.74,799.51 L196.63,799.34 L197.53,799.17 L198.42,799.00 L199.32,798.83 L200.21,798.65 L201.11,798.48 L202.00,798.30 L202.90,798.13 L203.79,797.95 L204.69,797.77 L205.58,797.60 L206.48,797.42 L207.37,797.24 L208.27,797.05 L209.16,796.87 L210.06,796.69 L210.95,796.50 L211.85,796.32 L212.74,796.13 L213.64,795.94 L214.53,795.75 L215.43,795.56 L216.32,795.36 L217.22,795.17 L218.11,794.97 L219.01,794.78 L219.90,794.58 L220.80,794.38 L221.69,794.18 L222.59,793.98 L223.48,793.78 L224.38,793.57 L225.27,793.37 L226.17,793.17 L227.06,792.96 L227.96,792.76 L228.85,792.55 L229.75,792.35 L230.64,792.14 L231.54,791.93 L232.43,791.72 L233.33,791.52 L234.22,791.31 L235.12,791.10 L236.01,790.89 L236.91,790.68 L237.80,790.47 L238.70,790.27 L239.59,790.06 L240.49,789.85 L241.38,789.64 L242.28,789.43 L243.17,789.22 L244.07,789.01 L244.96,788.81 L245.86,788.60 L246.75,788.39 L247.65,788.18 L248.54,787.97 L249.44,787.76 L250.33,787.55 L251.23,787.33 L252.12,787.12 L253.02,786.91 L253.91,786.70 L254.81,786.48 L255.70,786.27 L256.60,786.06 L257.49,785.84 L258.39,785.63 L259.28,785.41 L260.18,785.20 L261.07,784.98 L261.97,784.77 L262.86,784.55 L263.76,784.33 L264.65,784.12 L265.55,783.90 L266.44,783.68 L267.34,783.47 L268.23,783.25 L269.13,783.03 L270.02,782.82 L270.92,782.60 L271.81,782.38 L272.71,782.16 L273.60,781.95 L274.50,781.73 L275.39,781.51 L276.29,781.29 L277.18,781.08 L278.08,780.86 L278.97,780.64 L279.87,780.42 L280.76,780.20 L281.66,779.97 L282.55,779.75 L283.45,779.52 L284.34,779.29 L285.24,779.06 L286.13,778.83 L287.03,778.60 L287.92,778.37 L288.82,778.14 L289.71,777.91 L290.61,777.68 L291.50,777.45 L292.40,777.22 L293.29,776.99 L294.19,776.76 L295.08,776.53 L295.98,776.30 L296.87,776.08 L297.77,775.85 L298.66,775.63 L299.56,775.40 L300.45,775.18 L301.35,774.96 L302.24,774.74 L303.14,774.53 L304.03,774.32 L304.93,774.10 L305.82,773.89 L306.72,773.69 L307.61,773.49 L308.51,773.28 L309.40,773.09 L310.30,772.89 L311.19,772.70 L312.09,772.51 L312.98,772.33 L313.88,772.14 L314.77,771.97 L315.67,771.79 L316.56,771.63 L317.46,771.47 L318.35,771.33 L319.25,771.18 L320.14,771.03 L321.04,770.89 L321.93,770.75 L322.83,770.61 L323.72,770.48 L324.62,770.36 L325.51,770.25 L326.41,770.15 L327.30,770.06 L328.20,769.99 L329.09,769.93 L329.99,769.86 L330.88,769.80 L331.78,769.74 L332.67,769.68 L333.57,769.62 L334.46,769.57 L335.36,769.52 L336.25,769.47 L337.15,769.42 L338.04,769.38 L338.94,769.34 L339.83,769.30 L340.73,769.27 L341.62,769.25 L342.52,769.23 L343.41,769.21 L344.31,769.20 L345.20,769.20" fill="none" stroke="#ff00ff" stroke-width="0.6" clip-path="url(#c1)"/>
<path d="M86.90,828.50 L87.11,828.12 L87.32,827.73 L87.53,827.35 L87.74,826.97 L87.76,826.93 L87.95,826.61 L88.16,826.25 L88.37,825.90 L88.58,825.57 L88.63,825.50 L88.79,825.26 L89.00,824.96 L89.21,824.69 L89.42,824.45 L89.49,824.37 L89.63,824.23 L89.84,824.04 L90.05,823.89 L90.26,823.77 L90.36,823.72 L90.47,823.66 L90.68,823.56 L90.89,823.46 L91.10,823.36 L91.22,823.31 L91.31,823.28 L91.52,823.19 L91.73,823.11 L91.94,823.03 L92.08,822.98 L92.15,822.96 L92.36,822.89 L92.57,822.82 L92.78,822.76 L92.95,822.71 L92.99,822.70 L93.20,822.64 L93.41,822.59 L93.62,822.53 L93.81,822.49 L93.83,822.48 L94.04,822.43 L94.25,822.39 L94.46,822.34 L94.67,822.29 L94.67,822.29 L94.88,822.25 L95.09,822.21 L95.30,822.16 L95.51,822.12 L95.54,822.11 L95.72,822.08 L95.93,822.03 L96.14,821.99 L96.35,821.95 L96.40,821.94 L96.56,821.91 L96.77,821.86 L96.98,821.82 L97.19,821.78 L97.27,821.77 L97.40,821.74 L97.61,821.70 L97.82,821.66 L98.03,821.62 L98.13,821.60 L98.24,821.58 L98.45,821.54 L98.66,821.50 L98.87,821.47 L98.99,821.44 L99.08,821.43 L99.29,821.39 L99.51,821.35 L99.72,821.32 L99.86,821.29 L99.93,821.28 L100.14,821.25 L100.35,821.21 L100.56,821.17 L100.72,821.15 L100.77,821.14 L100.98,821.11 L101.19,821.07 L101.40,821.04 L101.59,821.01 L101.61,821.00 L101.82,820.97 L102.03,820.94 L102.24,820.91 L102.45,820.87 L102.45,820.87 L102.66,820.84 L102.87,820.81 L103.08,820.78 L103.29,820.75 L103.31,820.74 L103.50,820.72 L103.71,820.69 L103.92,820.66 L104.13,820.63 L104.18,820.62 L104.34,820.60 L104.55,820.57 L104.76,820.54 L104.97,820.51 L105.04,820.50 L105.18,820.48 L105.39,820.45 L105.60,820.42 L105.81,820.40 L105.91,820.38 L106.02,820.37 L106.23,820.34 L106.44,820.31 L106.65,820.29 L106.77,820.27 L106.86,820.26 L107.07,820.23 L107.28,820.21 L107.49,820.18 L107.63,820.16 L107.70,820.15 L107.91,820.13 L108.12,820.10 L108.33,820.07 L108.50,820.05 L108.54,820.05 L108.75,820.02 L108.96,820.00 L109.17,819.97 L109.36,819.95 L109.38,819.95 L109.59,819.92 L109.80,819.89 L110.01,819.87 L110.22,819.84 L110.22,819.84 L110.43,819.82 L110.64,819.79 L110.85,819.77 L111.06,819.75 L111.09,819.74 L111.27,819.72 L111.48,819.70 L111.69,819.67 L111.90,819.65 L111.95,819.64 L112.82,819.54 L113.68,819.44 L114.54,819.34 L115.41,819.24 L116.27,819.14 L117.14,819.03 L118.00,818.93 L118.86,818.82 L119.73,818.71 L120.59,818.60 L121.46,818.49 L122.32,818.37 L123.18,818.26 L124.05,818.15 L124.91,818.04 L125.77,817.93 L126.64,817.82 L127.50,817.71 L128.37,817.60 L129.23,817.49 L130.09,817.38 L130.96,817.27 L131.82,817.16 L132.69,817.06 L133.55,816.95 L134.41,816.84 L135.28,816.73 L136.14,816.63 L137.01,816.52 L137.87,816.41 L138.73,816.31 L139.60,816.20 L140.46,816.10 L141.32,815.99 L142.19,815.88 L143.05,815.78 L143.92,815.67 L144.78,815.57 L145.64,815.46 L146.51,815.36 L147.37,815.25 L148.24,815.14 L149.10,815.04 L149.96,814.93 L150.83,814.83 L151.69,814.72 L152.55,814.62 L153.42,814.51 L154.28,814.40 L155.15,814.30 L156.01,814.19 L156.87,814.08 L157.74,813.97 L158.60,813.86 L159.47,813.75 L160.33,813.64 L161.19,813.53 L162.06,813.42 L162.92,813.30 L163.79,813.19 L164.65,813.08 L165.51,812.96 L166.38,812.85 L167.24,812.74 L168.10,812.62 L168.97,812.51 L169.83,812.39 L170.70,812.28 L171.56,812.16 L172.42,812.05 L173.29,811.94 L174.15,811.82 L175.02,811.71 L175.88,811.59 L176.74,811.48 L177.61,811.36 L178.47,811.25 L179.34,811.14 L180.20,811.02 L181.06,810.91 L181.93,810.80 L182.79,810.69 L183.65,810.58 L184.52,810.47 L185.38,810.35 L186.25,810.25 L187.11,810.14 L187.97,810.03 L188.84,809.92 L189.70,809.81 L190.57,809.71 L191.43,809.60 L192.29,809.50 L193.16,809.39 L194.02,809.29 L194.88,809.19 L195.75,809.09 L196.61,808.99 L197.48,808.89 L198.34,808.79 L199.20,808.69 L200.07,808.60 L200.93,808.50 L201.80,808.41 L202.66,808.32 L203.52,808.23 L204.39,808.14 L205.25,808.05 L206.12,807.97 L206.98,807.88 L207.84,807.80 L208.71,807.72 L209.57,807.64 L210.43,807.56 L211.30,807.48 L212.16,807.41 L213.03,807.33 L213.89,807.26 L214.75,807.19 L215.62,807.12 L216.48,807.05 L217.35,806.98 L218.21,806.91 L219.07,806.85 L219.94,806.78 L220.80,806.72 L221.67,806.65 L222.53,806.59 L223.39,806.53 L224.26,806.46 L225.12,806.40 L225.98,806.34 L226.85,806.28 L227.71,806.22 L228.58,806.16 L229.44,806.10 L230.30,806.04 L231.17,805.98 L232.03,805.92 L232.90,805.86 L233.76,805.80 L234.62,805.74 L235.49,805.68 L236.35,805.62 L237.22,805.56 L238.08,805.50 L238.94,805.44 L239.81,805.38 L240.67,805.32 L241.53,805.26 L242.40,805.20 L243.26,805.13 L244.13,805.07 L244.99,805.00 L245.85,804.94 L246.72,804.87 L247.58,804.81 L248.45,804.74 L249.31,804.67 L250.17,804.61 L251.04,804.54 L251.90,804.47 L252.76,804.40 L253.63,804.34 L254.49,804.27 L255.36,804.20 L256.22,804.13 L257.08,804.06 L257.95,804.00 L258.81,803.93 L259.68,803.86 L260.54,803.80 L261.40,803.73 L262.27,803.66 L263.13,803.60 L264.00,803.53 L264.86,803.47 L265.72,803.40 L266.59,803.34 L267.45,803.27 L268.31,803.21 L269.18,803.15 L270.04,803.09 L270.91,803.03 L271.77,802.97 L272.63,802.91 L273.50,802.85 L274.36,802.80 L275.23,802.74 L276.09,802.69 L276.95,802.63 L277.82,802.58 L278.68,802.53 L279.55,802.48 L280.41,802.43 L281.27,802.38 L282.14,802.34 L283.00,802.29 L283.86,802.25 L284.73,802.20 L285.59,802.16 L286.46,802.11 L287.32,802.07 L288.18,802.03 L289.05,801.99 L289.91,801.94 L290.78,801.90 L291.64,801.86 L292.50,801.82 L293.37,801.78 L294.23,801.74 L295.09,801.70 L295.96,801.66 L296.82,801.62 L297.69,801.58 L298.55,801.54 L299.41,801.50 L300.28,801.46 L301.14,801.42 L302.01,801.38 L302.87,801.33 L303.73,801.29 L304.60,801.25 L305.46,801.21 L306.33,801.16 L307.19,801.12 L308.05,801.07 L308.92,801.03 L309.78,800.98 L310.64,800.93 L311.51,800.88 L312.37,800.83 L313.24,800.78 L314.10,800.73 L314.96,800.68 L315.83,800.63 L316.69,800.58 L317.56,800.53 L318.42,800.48 L319.28,800.43 L320.15,800.37 L321.01,800.32 L321.88,800.27 L322.74,800.21 L323.60,800.16 L324.47,800.10 L325.33,800.05 L326.19,799.99 L327.06,799.94 L327.92,799.88 L328.79,799.83 L329.65,799.77 L330.51,799.71 L331.38,799.66 L332.24,799.60 L333.11,799.54 L333.97,799.48 L334.83,799.42 L335.70,799.37 L336.56,799.31 L337.43,799.25 L338.29,799.19 L339.15,799.13 L340.02,799.07 L340.88,799.01 L341.74,798.95 L342.61,798.88 L343.47,798.82 L344.34,798.76 L345.20,798.70" fill="none" stroke="#ff00ff" stroke-width="0.6" stroke-dasharray="5.8,5" clip-path="url(#c1)"/>
<path d="M77.60,997.00 L77.81,990.60 L78.02,984.37 L78.23,978.39 L78.44,972.75 L78.49,971.35 L78.65,967.52 L78.86,962.78 L79.07,958.61 L79.28,955.09 L79.39,953.50 L79.49,952.12 L79.70,949.47 L79.91,947.07 L80.12,944.90 L80.28,943.32 L80.33,942.89 L80.54,941.00 L80.75,939.18 L80.96,937.38 L81.17,935.56 L81.18,935.49 L81.38,933.67 L81.59,931.66 L81.80,929.48 L82.01,927.12 L82.07,926.39 L82.22,924.63 L82.43,922.06 L82.64,919.45 L82.85,916.86 L82.97,915.42 L83.06,914.32 L83.27,911.90 L83.48,909.63 L83.69,907.57 L83.86,906.00 L83.90,905.67 L84.11,903.84 L84.32,902.09 L84.53,900.44 L84.74,898.89 L84.76,898.77 L84.95,897.44 L85.16,896.12 L85.37,894.90 L85.58,893.76 L85.65,893.39 L85.79,892.69 L86.00,891.69 L86.21,890.76 L86.42,889.89 L86.55,889.39 L86.63,889.07 L86.84,888.30 L87.05,887.56 L87.26,886.84 L87.44,886.25 L87.47,886.16 L87.68,885.52 L87.89,884.91 L88.10,884.35 L88.31,883.83 L88.34,883.76 L88.52,883.35 L88.73,882.90 L88.94,882.47 L89.15,882.05 L89.23,881.90 L89.36,881.65 L89.57,881.27 L89.78,880.91 L89.99,880.56 L90.13,880.34 L90.21,880.23 L90.42,879.91 L90.63,879.60 L90.84,879.31 L91.02,879.06 L91.05,879.04 L91.26,878.77 L91.47,878.52 L91.68,878.28 L91.89,878.05 L91.92,878.01 L92.10,877.82 L92.31,877.60 L92.52,877.39 L92.73,877.18 L92.81,877.09 L92.94,876.98 L93.15,876.78 L93.36,876.59 L93.57,876.41 L93.71,876.28 L93.78,876.23 L93.99,876.05 L94.20,875.88 L94.41,875.71 L94.60,875.56 L94.62,875.55 L94.83,875.39 L95.04,875.24 L95.25,875.09 L95.46,874.94 L95.50,874.91 L95.67,874.79 L95.88,874.65 L96.09,874.51 L96.30,874.37 L96.39,874.31 L96.51,874.24 L96.72,874.11 L96.93,873.99 L97.14,873.86 L97.29,873.78 L97.35,873.74 L97.56,873.62 L97.77,873.51 L97.98,873.40 L98.18,873.29 L98.19,873.28 L98.40,873.17 L98.61,873.07 L98.82,872.96 L99.03,872.85 L99.08,872.83 L99.24,872.75 L99.45,872.64 L99.66,872.54 L99.87,872.43 L99.97,872.38 L100.08,872.32 L100.29,872.22 L100.50,872.11 L100.71,872.00 L100.87,871.92 L100.92,871.89 L101.13,871.78 L101.34,871.67 L101.55,871.56 L101.76,871.45 L101.76,871.45 L101.97,871.34 L102.18,871.23 L102.39,871.11 L102.60,871.00 L102.66,870.97 L103.55,870.49 L104.45,870.03 L105.34,869.58 L106.24,869.15 L107.13,868.76 L108.03,868.38 L108.92,868.01 L109.82,867.66 L110.71,867.32 L111.61,866.99 L112.50,866.66 L113.40,866.34 L114.29,866.03 L115.19,865.72 L116.08,865.41 L116.98,865.10 L117.87,864.78 L118.77,864.47 L119.66,864.16 L120.56,863.85 L121.45,863.55 L122.35,863.25 L123.24,862.96 L124.14,862.66 L125.03,862.36 L125.93,862.07 L126.82,861.77 L127.72,861.47 L128.61,861.17 L129.51,860.87 L130.40,860.56 L131.30,860.25 L132.19,859.93 L133.09,859.62 L133.98,859.30 L134.88,858.98 L135.77,858.66 L136.67,858.34 L137.56,858.01 L138.46,857.69 L139.35,857.37 L140.25,857.05 L141.14,856.73 L142.04,856.41 L142.93,856.10 L143.83,855.78 L144.72,855.47 L145.62,855.16 L146.51,854.84 L147.41,854.53 L148.30,854.21 L149.20,853.90 L150.09,853.59 L150.99,853.28 L151.88,852.97 L152.78,852.67 L153.67,852.37 L154.57,852.07 L155.46,851.77 L156.36,851.48 L157.25,851.20 L158.15,850.91 L159.04,850.62 L159.94,850.34 L160.83,850.06 L161.73,849.78 L162.62,849.50 L163.52,849.22 L164.41,848.94 L165.31,848.67 L166.20,848.39 L167.10,848.12 L167.99,847.85 L168.89,847.58 L169.78,847.31 L170.68,847.04 L171.57,846.77 L172.47,846.51 L173.36,846.24 L174.26,845.98 L175.15,845.71 L176.05,845.45 L176.94,845.19 L177.84,844.92 L178.73,844.66 L179.63,844.40 L180.52,844.14 L181.42,843.88 L182.31,843.62 L183.21,843.36 L184.10,843.10 L185.00,842.84 L185.89,842.58 L186.79,842.33 L187.68,842.07 L188.58,841.81 L189.47,841.55 L190.37,841.29 L191.26,841.03 L192.16,840.77 L193.05,840.51 L193.95,840.25 L194.84,839.99 L195.74,839.73 L196.63,839.47 L197.53,839.21 L198.42,838.95 L199.32,838.69 L200.21,838.43 L201.11,838.16 L202.00,837.90 L202.90,837.63 L203.79,837.37 L204.69,837.10 L205.58,836.83 L206.48,836.57 L207.37,836.30 L208.27,836.03 L209.16,835.76 L210.06,835.48 L210.95,835.21 L211.85,834.93 L212.74,834.66 L213.64,834.39 L214.53,834.11 L215.43,833.83 L216.32,833.56 L217.22,833.28 L218.11,833.00 L219.01,832.73 L219.90,832.45 L220.80,832.17 L221.69,831.89 L222.59,831.61 L223.48,831.33 L224.38,831.05 L225.27,830.77 L226.17,830.49 L227.06,830.21 L227.96,829.93 L228.85,829.65 L229.75,829.37 L230.64,829.09 L231.54,828.81 L232.43,828.53 L233.33,828.25 L234.22,827.97 L235.12,827.69 L236.01,827.41 L236.91,827.13 L237.80,826.85 L238.70,826.57 L239.59,826.29 L240.49,826.01 L241.38,825.73 L242.28,825.45 L243.17,825.17 L244.07,824.89 L244.96,824.61 L245.86,824.33 L246.75,824.05 L247.65,823.76 L248.54,823.48 L249.44,823.20 L250.33,822.92 L251.23,822.64 L252.12,822.36 L253.02,822.08 L253.91,821.80 L254.81,821.52 L255.70,821.24 L256.60,820.96 L257.49,820.68 L258.39,820.40 L259.28,820.11 L260.18,819.83 L261.07,819.55 L261.97,819.27 L262.86,818.99 L263.76,818.71 L264.65,818.43 L265.55,818.15 L266.44,817.87 L267.34,817.58 L268.23,817.30 L269.13,817.02 L270.02,816.74 L270.92,816.46 L271.81,816.18 L272.71,815.90 L273.60,815.62 L274.50,815.34 L275.39,815.06 L276.29,814.78 L277.18,814.50 L278.08,814.22 L278.97,813.94 L279.87,813.66 L280.76,813.37 L281.66,813.09 L282.55,812.80 L283.45,812.52 L284.34,812.23 L285.24,811.94 L286.13,811.65 L287.03,811.37 L287.92,811.08 L288.82,810.79 L289.71,810.50 L290.61,810.21 L291.50,809.92 L292.40,809.64 L293.29,809.35 L294.19,809.06 L295.08,808.78 L295.98,808.49 L296.87,808.21 L297.77,807.93 L298.66,807.65 L299.56,807.37 L300.45,807.09 L301.35,806.81 L302.24,806.54 L303.14,806.26 L304.03,805.99 L304.93,805.72 L305.82,805.45 L306.72,805.19 L307.61,804.93 L308.51,804.67 L309.40,804.41 L310.30,804.15 L311.19,803.90 L312.09,803.65 L312.98,803.40 L313.88,803.15 L314.77,802.90 L315.67,802.65 L316.56,802.42 L317.46,802.19 L318.35,801.98 L319.25,801.78 L320.14,801.59 L321.04,801.41 L321.93,801.23 L322.83,801.06 L323.72,800.89 L324.62,800.73 L325.51,800.57 L326.41,800.42 L327.30,800.28 L328.20,800.14 L329.09,800.01 L329.99,799.88 L330.88,799.76 L331.78,799.65 L332.67,799.55 L333.57,799.44 L334.46,799.34 L335.36,799.24 L336.25,799.14 L337.15,799.05 L338.04,798.96 L338.94,798.87 L339.83,798.79 L340.73,798.71 L341.62,798.64 L342.52,798.57 L343.41,798.51 L344.31,798.45 L345.20,798.40" fill="none" stroke="#000000" stroke-width="0.6" clip-path="url(#c1)"/>
<path d="M86.60,889.60 L86.81,888.88 L87.02,888.17 L87.23,887.49 L87.44,886.84 L87.46,886.76 L87.65,886.22 L87.86,885.64 L88.07,885.11 L88.28,884.63 L88.33,884.53 L88.49,884.22 L88.70,883.85 L88.91,883.50 L89.12,883.17 L89.19,883.06 L89.33,882.85 L89.54,882.56 L89.75,882.28 L89.96,882.02 L90.06,881.90 L90.17,881.76 L90.38,881.53 L90.59,881.30 L90.80,881.08 L90.92,880.96 L91.01,880.87 L91.22,880.67 L91.43,880.47 L91.64,880.28 L91.79,880.15 L91.85,880.09 L92.06,879.91 L92.27,879.73 L92.48,879.55 L92.65,879.41 L92.69,879.38 L92.90,879.22 L93.11,879.05 L93.32,878.90 L93.52,878.75 L93.53,878.74 L93.74,878.60 L93.95,878.45 L94.16,878.31 L94.37,878.18 L94.38,878.17 L94.58,878.05 L94.79,877.93 L95.00,877.81 L95.21,877.69 L95.25,877.67 L95.42,877.58 L95.63,877.48 L95.84,877.38 L96.05,877.29 L96.11,877.26 L96.26,877.20 L96.47,877.11 L96.68,877.03 L96.89,876.95 L96.98,876.92 L97.10,876.88 L97.31,876.80 L97.52,876.73 L97.73,876.66 L97.84,876.63 L97.94,876.60 L98.15,876.53 L98.36,876.47 L98.57,876.40 L98.71,876.36 L98.78,876.34 L98.99,876.27 L99.21,876.20 L99.42,876.14 L99.57,876.08 L99.63,876.07 L99.84,875.99 L100.05,875.92 L100.26,875.84 L100.44,875.77 L100.47,875.76 L100.68,875.68 L100.89,875.60 L101.10,875.52 L101.30,875.44 L101.31,875.44 L101.52,875.36 L101.73,875.27 L101.94,875.19 L102.15,875.11 L102.17,875.10 L102.36,875.02 L102.57,874.94 L102.78,874.85 L102.99,874.77 L103.03,874.75 L103.20,874.68 L103.41,874.59 L103.62,874.51 L103.83,874.42 L103.90,874.40 L104.04,874.34 L104.25,874.26 L104.46,874.17 L104.67,874.09 L104.76,874.05 L104.88,874.01 L105.09,873.92 L105.30,873.84 L105.51,873.76 L105.63,873.72 L105.72,873.69 L105.93,873.61 L106.14,873.53 L106.35,873.46 L106.49,873.41 L106.56,873.38 L106.77,873.31 L106.98,873.24 L107.19,873.17 L107.36,873.11 L107.40,873.10 L107.61,873.03 L107.82,872.96 L108.03,872.90 L108.22,872.84 L108.24,872.83 L108.45,872.76 L108.66,872.70 L108.87,872.63 L109.08,872.57 L109.09,872.57 L109.29,872.51 L109.50,872.44 L109.71,872.38 L109.92,872.32 L109.95,872.31 L110.13,872.26 L110.34,872.19 L110.55,872.13 L110.76,872.07 L110.82,872.06 L110.97,872.01 L111.18,871.95 L111.39,871.89 L111.60,871.83 L111.68,871.81 L112.55,871.57 L113.41,871.33 L114.28,871.09 L115.14,870.85 L116.01,870.60 L116.87,870.35 L117.74,870.10 L118.60,869.84 L119.47,869.57 L120.33,869.30 L121.20,869.03 L122.06,868.76 L122.93,868.49 L123.79,868.21 L124.65,867.93 L125.52,867.65 L126.38,867.38 L127.25,867.09 L128.11,866.81 L128.98,866.53 L129.84,866.25 L130.71,865.97 L131.57,865.68 L132.44,865.40 L133.30,865.11 L134.17,864.82 L135.03,864.52 L135.90,864.23 L136.76,863.94 L137.63,863.65 L138.49,863.36 L139.36,863.07 L140.22,862.78 L141.09,862.49 L141.95,862.20 L142.82,861.92 L143.68,861.64 L144.55,861.36 L145.41,861.08 L146.28,860.80 L147.14,860.51 L148.01,860.23 L148.87,859.95 L149.74,859.67 L150.60,859.40 L151.47,859.13 L152.33,858.86 L153.20,858.60 L154.06,858.35 L154.93,858.10 L155.79,857.86 L156.66,857.62 L157.52,857.39 L158.39,857.16 L159.25,856.94 L160.12,856.71 L160.98,856.49 L161.84,856.27 L162.71,856.05 L163.57,855.84 L164.44,855.63 L165.30,855.42 L166.17,855.21 L167.03,855.00 L167.90,854.79 L168.76,854.59 L169.63,854.39 L170.49,854.19 L171.36,853.99 L172.22,853.79 L173.09,853.60 L173.95,853.40 L174.82,853.21 L175.68,853.01 L176.55,852.82 L177.41,852.63 L178.28,852.44 L179.14,852.26 L180.01,852.07 L180.87,851.88 L181.74,851.70 L182.60,851.51 L183.47,851.33 L184.33,851.14 L185.20,850.96 L186.06,850.77 L186.93,850.59 L187.79,850.41 L188.66,850.23 L189.52,850.04 L190.39,849.86 L191.25,849.68 L192.12,849.50 L192.98,849.32 L193.85,849.13 L194.71,848.95 L195.58,848.77 L196.44,848.58 L197.31,848.40 L198.17,848.21 L199.03,848.03 L199.90,847.84 L200.76,847.66 L201.63,847.47 L202.49,847.28 L203.36,847.09 L204.22,846.90 L205.09,846.71 L205.95,846.52 L206.82,846.32 L207.68,846.13 L208.55,845.93 L209.41,845.73 L210.28,845.54 L211.14,845.33 L212.01,845.13 L212.87,844.93 L213.74,844.72 L214.60,844.51 L215.47,844.30 L216.33,844.09 L217.20,843.88 L218.06,843.67 L218.93,843.46 L219.79,843.24 L220.66,843.03 L221.52,842.81 L222.39,842.60 L223.25,842.39 L224.12,842.17 L224.98,841.96 L225.85,841.74 L226.71,841.53 L227.58,841.32 L228.44,841.11 L229.31,840.90 L230.17,840.69 L231.04,840.48 L231.90,840.28 L232.77,840.07 L233.63,839.87 L234.49,839.67 L235.36,839.47 L236.22,839.28 L237.09,839.08 L237.95,838.89 L238.82,838.70 L239.68,838.52 L240.55,838.34 L241.41,838.16 L242.28,837.98 L243.14,837.81 L244.01,837.64 L244.87,837.47 L245.74,837.31 L246.60,837.15 L247.47,836.99 L248.33,836.83 L249.20,836.68 L250.06,836.52 L250.93,836.37 L251.79,836.22 L252.66,836.07 L253.52,835.93 L254.39,835.78 L255.25,835.64 L256.12,835.49 L256.98,835.35 L257.85,835.21 L258.71,835.07 L259.58,834.93 L260.44,834.79 L261.31,834.66 L262.17,834.52 L263.04,834.38 L263.90,834.25 L264.77,834.11 L265.63,833.98 L266.50,833.84 L267.36,833.71 L268.23,833.57 L269.09,833.44 L269.96,833.30 L270.82,833.16 L271.68,833.03 L272.55,832.89 L273.41,832.76 L274.28,832.62 L275.14,832.48 L276.01,832.34 L276.87,832.20 L277.74,832.06 L278.60,831.92 L279.47,831.78 L280.33,831.64 L281.20,831.50 L282.06,831.36 L282.93,831.21 L283.79,831.07 L284.66,830.93 L285.52,830.79 L286.39,830.65 L287.25,830.51 L288.12,830.37 L288.98,830.23 L289.85,830.09 L290.71,829.95 L291.58,829.81 L292.44,829.67 L293.31,829.53 L294.17,829.39 L295.04,829.25 L295.90,829.11 L296.77,828.97 L297.63,828.83 L298.50,828.69 L299.36,828.56 L300.23,828.42 L301.09,828.28 L301.96,828.14 L302.82,828.01 L303.69,827.87 L304.55,827.73 L305.42,827.60 L306.28,827.46 L307.15,827.33 L308.01,827.19 L308.87,827.06 L309.74,826.92 L310.60,826.79 L311.47,826.66 L312.33,826.53 L313.20,826.39 L314.06,826.26 L314.93,826.13 L315.79,826.00 L316.66,825.87 L317.52,825.74 L318.39,825.61 L319.25,825.48 L320.12,825.35 L320.98,825.22 L321.85,825.09 L322.71,824.96 L323.58,824.83 L324.44,824.70 L325.31,824.57 L326.17,824.44 L327.04,824.32 L327.90,824.19 L328.77,824.06 L329.63,823.93 L330.50,823.81 L331.36,823.68 L332.23,823.56 L333.09,823.43 L333.96,823.30 L334.82,823.18 L335.69,823.05 L336.55,822.93 L337.42,822.81 L338.28,822.68 L339.15,822.56 L340.01,822.43 L340.88,822.31 L341.74,822.19 L342.61,822.07 L343.47,821.94 L344.34,821.82 L345.20,821.70" fill="none" stroke="#000000" stroke-width="0.6" stroke-dasharray="5.8,5" clip-path="url(#c1)"/>
<path d="M77.60,997.00 L77.81,989.13 L78.02,981.78 L78.23,975.51 L78.44,970.83 L78.49,969.80 L78.65,967.02 L78.86,963.56 L79.07,960.44 L79.28,957.65 L79.39,956.32 L79.49,955.18 L79.70,953.01 L79.91,951.14 L80.12,949.55 L80.28,948.45 L80.33,948.15 L80.54,946.85 L80.75,945.65 L80.96,944.54 L81.17,943.50 L81.18,943.46 L81.38,942.54 L81.59,941.63 L81.80,940.77 L82.01,939.96 L82.07,939.72 L82.22,939.17 L82.43,938.41 L82.64,937.65 L82.85,936.90 L82.97,936.48 L83.06,936.15 L83.27,935.37 L83.48,934.57 L83.69,933.75 L83.86,933.08 L83.90,932.94 L84.11,932.13 L84.32,931.34 L84.53,930.55 L84.74,929.77 L84.76,929.71 L84.95,929.01 L85.16,928.26 L85.37,927.52 L85.58,926.80 L85.65,926.56 L85.79,926.09 L86.00,925.41 L86.21,924.74 L86.42,924.09 L86.55,923.71 L86.63,923.46 L86.84,922.86 L87.05,922.28 L87.26,921.72 L87.44,921.26 L87.47,921.19 L87.68,920.69 L87.89,920.22 L88.10,919.78 L88.31,919.36 L88.34,919.30 L88.52,918.94 L88.73,918.52 L88.94,918.12 L89.15,917.73 L89.23,917.58 L89.36,917.34 L89.57,916.97 L89.78,916.61 L89.99,916.25 L90.13,916.03 L90.21,915.91 L90.42,915.58 L90.63,915.26 L90.84,914.96 L91.02,914.69 L91.05,914.67 L91.26,914.38 L91.47,914.12 L91.68,913.86 L91.89,913.60 L91.92,913.56 L92.10,913.35 L92.31,913.10 L92.52,912.86 L92.73,912.62 L92.81,912.53 L92.94,912.39 L93.15,912.17 L93.36,911.95 L93.57,911.74 L93.71,911.59 L93.78,911.53 L93.99,911.33 L94.20,911.14 L94.41,910.95 L94.60,910.78 L94.62,910.77 L94.83,910.60 L95.04,910.43 L95.25,910.27 L95.46,910.13 L95.50,910.10 L95.67,909.98 L95.88,909.85 L96.09,909.73 L96.30,909.60 L96.39,909.55 L96.51,909.49 L96.72,909.37 L96.93,909.27 L97.14,909.16 L97.29,909.09 L97.35,909.06 L97.56,908.96 L97.77,908.87 L97.98,908.77 L98.18,908.69 L98.19,908.68 L98.40,908.60 L98.61,908.51 L98.82,908.42 L99.03,908.34 L99.08,908.32 L99.24,908.26 L99.45,908.17 L99.66,908.09 L99.87,908.01 L99.97,907.97 L100.08,907.92 L100.29,907.84 L100.50,907.75 L100.71,907.67 L100.87,907.60 L100.92,907.58 L101.13,907.49 L101.34,907.39 L101.55,907.30 L101.76,907.21 L101.76,907.21 L101.97,907.12 L102.18,907.02 L102.39,906.93 L102.60,906.83 L102.66,906.81 L103.55,906.41 L104.45,906.02 L105.34,905.64 L106.24,905.30 L107.13,904.99 L108.03,904.69 L108.92,904.42 L109.82,904.15 L110.71,903.90 L111.61,903.65 L112.50,903.41 L113.40,903.18 L114.29,902.95 L115.19,902.72 L116.08,902.49 L116.98,902.27 L117.87,902.04 L118.77,901.80 L119.66,901.57 L120.56,901.34 L121.45,901.11 L122.35,900.88 L123.24,900.66 L124.14,900.43 L125.03,900.21 L125.93,899.99 L126.82,899.77 L127.72,899.55 L128.61,899.33 L129.51,899.12 L130.40,898.90 L131.30,898.69 L132.19,898.48 L133.09,898.27 L133.98,898.07 L134.88,897.86 L135.77,897.66 L136.67,897.45 L137.56,897.25 L138.46,897.05 L139.35,896.85 L140.25,896.64 L141.14,896.44 L142.04,896.24 L142.93,896.03 L143.83,895.82 L144.72,895.61 L145.62,895.40 L146.51,895.18 L147.41,894.96 L148.30,894.74 L149.20,894.52 L150.09,894.30 L150.99,894.09 L151.88,893.88 L152.78,893.67 L153.67,893.47 L154.57,893.28 L155.46,893.10 L156.36,892.93 L157.25,892.77 L158.15,892.61 L159.04,892.46 L159.94,892.31 L160.83,892.17 L161.73,892.03 L162.62,891.89 L163.52,891.76 L164.41,891.63 L165.31,891.49 L166.20,891.36 L167.10,891.23 L167.99,891.10 L168.89,890.96 L169.78,890.82 L170.68,890.68 L171.57,890.54 L172.47,890.40 L173.36,890.25 L174.26,890.11 L175.15,889.97 L176.05,889.82 L176.94,889.68 L177.84,889.54 L178.73,889.39 L179.63,889.25 L180.52,889.11 L181.42,888.96 L182.31,888.81 L183.21,888.67 L184.10,888.52 L185.00,888.37 L185.89,888.22 L186.79,888.06 L187.68,887.91 L188.58,887.75 L189.47,887.59 L190.37,887.43 L191.26,887.27 L192.16,887.11 L193.05,886.94 L193.95,886.77 L194.84,886.60 L195.74,886.43 L196.63,886.25 L197.53,886.08 L198.42,885.90 L199.32,885.72 L200.21,885.54 L201.11,885.36 L202.00,885.18 L202.90,885.00 L203.79,884.82 L204.69,884.63 L205.58,884.45 L206.48,884.26 L207.37,884.08 L208.27,883.90 L209.16,883.71 L210.06,883.53 L210.95,883.34 L211.85,883.16 L212.74,882.98 L213.64,882.79 L214.53,882.61 L215.43,882.43 L216.32,882.25 L217.22,882.07 L218.11,881.88 L219.01,881.70 L219.90,881.52 L220.80,881.34 L221.69,881.15 L222.59,880.97 L223.48,880.79 L224.38,880.60 L225.27,880.42 L226.17,880.23 L227.06,880.05 L227.96,879.86 L228.85,879.68 L229.75,879.49 L230.64,879.30 L231.54,879.12 L232.43,878.93 L233.33,878.74 L234.22,878.55 L235.12,878.36 L236.01,878.17 L236.91,877.98 L237.80,877.79 L238.70,877.59 L239.59,877.40 L240.49,877.20 L241.38,877.01 L242.28,876.81 L243.17,876.62 L244.07,876.42 L244.96,876.22 L245.86,876.02 L246.75,875.82 L247.65,875.63 L248.54,875.43 L249.44,875.22 L250.33,875.02 L251.23,874.82 L252.12,874.62 L253.02,874.42 L253.91,874.21 L254.81,874.01 L255.70,873.81 L256.60,873.60 L257.49,873.40 L258.39,873.20 L259.28,872.99 L260.18,872.79 L261.07,872.58 L261.97,872.38 L262.86,872.17 L263.76,871.97 L264.65,871.76 L265.55,871.56 L266.44,871.36 L267.34,871.16 L268.23,870.96 L269.13,870.76 L270.02,870.55 L270.92,870.35 L271.81,870.15 L272.71,869.95 L273.60,869.74 L274.50,869.54 L275.39,869.33 L276.29,869.12 L277.18,868.91 L278.08,868.70 L278.97,868.48 L279.87,868.27 L280.76,868.05 L281.66,867.83 L282.55,867.61 L283.45,867.38 L284.34,867.15 L285.24,866.92 L286.13,866.68 L287.03,866.44 L287.92,866.19 L288.82,865.93 L289.71,865.67 L290.61,865.41 L291.50,865.14 L292.40,864.87 L293.29,864.60 L294.19,864.33 L295.08,864.05 L295.98,863.78 L296.87,863.50 L297.77,863.23 L298.66,862.95 L299.56,862.68 L300.45,862.41 L301.35,862.14 L302.24,861.88 L303.14,861.62 L304.03,861.36 L304.93,861.11 L305.82,860.86 L306.72,860.61 L307.61,860.36 L308.51,860.11 L309.40,859.86 L310.30,859.61 L311.19,859.37 L312.09,859.12 L312.98,858.88 L313.88,858.63 L314.77,858.39 L315.67,858.15 L316.56,857.92 L317.46,857.68 L318.35,857.45 L319.25,857.22 L320.14,856.99 L321.04,856.77 L321.93,856.55 L322.83,856.33 L323.72,856.12 L324.62,855.91 L325.51,855.70 L326.41,855.50 L327.30,855.30 L328.20,855.11 L329.09,854.91 L329.99,854.72 L330.88,854.54 L331.78,854.35 L332.67,854.17 L333.57,853.99 L334.46,853.81 L335.36,853.63 L336.25,853.45 L337.15,853.28 L338.04,853.11 L338.94,852.94 L339.83,852.77 L340.73,852.60 L341.62,852.44 L342.52,852.27 L343.41,852.11 L344.31,851.96 L345.20,851.80" fill="none" stroke="#ff0000" stroke-width="0.6" clip-path="url(#c1)"/>
<path d="M88.00,920.60 L88.21,920.25 L88.42,919.91 L88.63,919.58 L88.84,919.25 L88.86,919.21 L89.05,918.92 L89.26,918.60 L89.47,918.29 L89.68,917.99 L89.72,917.93 L89.89,917.69 L90.10,917.40 L90.31,917.11 L90.52,916.84 L90.58,916.76 L90.73,916.57 L90.94,916.30 L91.15,916.05 L91.36,915.80 L91.44,915.71 L91.57,915.56 L91.78,915.33 L91.99,915.11 L92.20,914.89 L92.30,914.80 L92.41,914.69 L92.62,914.49 L92.83,914.29 L93.04,914.10 L93.16,913.99 L93.25,913.91 L93.46,913.73 L93.67,913.55 L93.88,913.38 L94.02,913.27 L94.09,913.21 L94.30,913.05 L94.51,912.89 L94.72,912.75 L94.88,912.64 L94.93,912.60 L95.14,912.47 L95.35,912.34 L95.56,912.22 L95.74,912.13 L95.77,912.11 L95.98,912.01 L96.19,911.91 L96.40,911.81 L96.60,911.73 L96.61,911.72 L96.82,911.63 L97.03,911.54 L97.24,911.46 L97.45,911.38 L97.46,911.38 L97.66,911.30 L97.87,911.23 L98.08,911.15 L98.29,911.08 L98.32,911.07 L98.50,911.01 L98.71,910.94 L98.92,910.87 L99.13,910.81 L99.18,910.79 L99.34,910.74 L99.55,910.67 L99.76,910.61 L99.97,910.55 L100.04,910.53 L100.18,910.48 L100.39,910.42 L100.61,910.35 L100.82,910.29 L100.90,910.26 L101.03,910.22 L101.24,910.16 L101.45,910.09 L101.66,910.03 L101.76,909.99 L101.87,909.96 L102.08,909.89 L102.29,909.83 L102.50,909.76 L102.62,909.72 L102.71,909.70 L102.92,909.63 L103.13,909.57 L103.34,909.51 L103.48,909.46 L103.55,909.45 L103.76,909.38 L103.97,909.32 L104.18,909.26 L104.34,909.21 L104.39,909.20 L104.60,909.14 L104.81,909.09 L105.02,909.03 L105.20,908.98 L105.23,908.98 L105.44,908.92 L105.65,908.87 L105.86,908.82 L106.06,908.77 L106.07,908.77 L106.28,908.72 L106.49,908.67 L106.70,908.62 L106.91,908.58 L106.92,908.57 L107.12,908.53 L107.33,908.49 L107.54,908.45 L107.75,908.40 L107.78,908.40 L107.96,908.36 L108.17,908.32 L108.38,908.28 L108.59,908.24 L108.64,908.23 L108.80,908.20 L109.01,908.16 L109.22,908.12 L109.43,908.09 L109.51,908.07 L109.64,908.05 L109.85,908.01 L110.06,907.97 L110.27,907.94 L110.37,907.92 L110.48,907.90 L110.69,907.87 L110.90,907.83 L111.11,907.80 L111.23,907.78 L111.32,907.76 L111.53,907.73 L111.74,907.69 L111.95,907.66 L112.09,907.64 L112.16,907.63 L112.37,907.59 L112.58,907.56 L112.79,907.53 L112.95,907.50 L113.00,907.50 L113.81,907.37 L114.67,907.25 L115.53,907.12 L116.39,907.00 L117.25,906.87 L118.11,906.74 L118.97,906.62 L119.83,906.49 L120.69,906.37 L121.55,906.25 L122.41,906.13 L123.27,906.01 L124.13,905.90 L124.99,905.78 L125.85,905.67 L126.71,905.55 L127.57,905.44 L128.43,905.32 L129.29,905.20 L130.15,905.08 L131.01,904.95 L131.87,904.83 L132.73,904.70 L133.59,904.57 L134.45,904.44 L135.31,904.31 L136.17,904.18 L137.03,904.05 L137.89,903.92 L138.75,903.79 L139.61,903.66 L140.47,903.53 L141.33,903.41 L142.19,903.28 L143.05,903.16 L143.91,903.04 L144.77,902.92 L145.63,902.80 L146.49,902.68 L147.35,902.57 L148.21,902.45 L149.07,902.33 L149.93,902.21 L150.79,902.10 L151.65,901.99 L152.52,901.89 L153.38,901.78 L154.24,901.69 L155.10,901.59 L155.96,901.50 L156.82,901.42 L157.68,901.34 L158.54,901.26 L159.40,901.18 L160.26,901.11 L161.12,901.04 L161.98,900.96 L162.84,900.90 L163.70,900.83 L164.56,900.76 L165.42,900.70 L166.28,900.63 L167.14,900.57 L168.00,900.51 L168.86,900.45 L169.72,900.40 L170.58,900.34 L171.44,900.28 L172.30,900.23 L173.16,900.17 L174.02,900.12 L174.88,900.06 L175.74,900.01 L176.60,899.95 L177.46,899.90 L178.32,899.84 L179.18,899.79 L180.04,899.73 L180.90,899.68 L181.76,899.62 L182.62,899.57 L183.48,899.52 L184.34,899.46 L185.20,899.41 L186.06,899.36 L186.92,899.31 L187.78,899.26 L188.64,899.21 L189.50,899.16 L190.36,899.11 L191.22,899.06 L192.08,899.02 L192.94,898.97 L193.80,898.93 L194.66,898.88 L195.53,898.84 L196.39,898.80 L197.25,898.76 L198.11,898.72 L198.97,898.68 L199.83,898.64 L200.69,898.60 L201.55,898.57 L202.41,898.53 L203.27,898.50 L204.13,898.47 L204.99,898.44 L205.85,898.41 L206.71,898.39 L207.57,898.36 L208.43,898.34 L209.29,898.32 L210.15,898.30 L211.01,898.28 L211.87,898.26 L212.73,898.24 L213.59,898.22 L214.45,898.20 L215.31,898.19 L216.17,898.17 L217.03,898.15 L217.89,898.14 L218.75,898.12 L219.61,898.10 L220.47,898.09 L221.33,898.07 L222.19,898.06 L223.05,898.04 L223.91,898.03 L224.77,898.02 L225.63,898.00 L226.49,897.99 L227.35,897.98 L228.21,897.96 L229.07,897.95 L229.93,897.94 L230.79,897.93 L231.65,897.92 L232.51,897.91 L233.37,897.90 L234.23,897.89 L235.09,897.88 L235.95,897.87 L236.81,897.86 L237.67,897.85 L238.54,897.84 L239.40,897.83 L240.26,897.83 L241.12,897.82 L241.98,897.81 L242.84,897.81 L243.70,897.80 L244.56,897.79 L245.42,897.79 L246.28,897.78 L247.14,897.78 L248.00,897.77 L248.86,897.76 L249.72,897.76 L250.58,897.75 L251.44,897.75 L252.30,897.74 L253.16,897.74 L254.02,897.73 L254.88,897.73 L255.74,897.72 L256.60,897.71 L257.46,897.71 L258.32,897.70 L259.18,897.70 L260.04,897.69 L260.90,897.69 L261.76,897.68 L262.62,897.68 L263.48,897.67 L264.34,897.67 L265.20,897.66 L266.06,897.66 L266.92,897.65 L267.78,897.65 L268.64,897.64 L269.50,897.64 L270.36,897.63 L271.22,897.63 L272.08,897.62 L272.94,897.62 L273.80,897.61 L274.66,897.61 L275.52,897.60 L276.38,897.60 L277.24,897.59 L278.10,897.59 L278.96,897.59 L279.82,897.58 L280.68,897.58 L281.55,897.57 L282.41,897.57 L283.27,897.56 L284.13,897.56 L284.99,897.56 L285.85,897.55 L286.71,897.55 L287.57,897.54 L288.43,897.54 L289.29,897.54 L290.15,897.53 L291.01,897.53 L291.87,897.52 L292.73,897.52 L293.59,897.52 L294.45,897.51 L295.31,897.51 L296.17,897.51 L297.03,897.50 L297.89,897.50 L298.75,897.50 L299.61,897.49 L300.47,897.49 L301.33,897.49 L302.19,897.48 L303.05,897.48 L303.91,897.48 L304.77,897.47 L305.63,897.47 L306.49,897.47 L307.35,897.46 L308.21,897.46 L309.07,897.46 L309.93,897.46 L310.79,897.45 L311.65,897.45 L312.51,897.45 L313.37,897.45 L314.23,897.44 L315.09,897.44 L315.95,897.44 L316.81,897.44 L317.67,897.43 L318.53,897.43 L319.39,897.43 L320.25,897.43 L321.11,897.43 L321.97,897.42 L322.83,897.42 L323.69,897.42 L324.56,897.42 L325.42,897.42 L326.28,897.42 L327.14,897.42 L328.00,897.41 L328.86,897.41 L329.72,897.41 L330.58,897.41 L331.44,897.41 L332.30,897.41 L333.16,897.41 L334.02,897.41 L334.88,897.41 L335.74,897.40 L336.60,897.40 L337.46,897.40 L338.32,897.40 L339.18,897.40 L340.04,897.40 L340.90,897.40 L341.76,897.40 L342.62,897.40 L343.48,897.40 L344.34,897.40 L345.20,897.40" fill="none" stroke="#ff0000" stroke-width="0.6" stroke-dasharray="5.8,5" clip-path="url(#c1)"/>
<path d="M79.30,997.80 L79.51,997.41 L79.72,997.02 L79.93,996.64 L80.14,996.25 L80.19,996.16 L80.35,995.87 L80.56,995.48 L80.77,995.10 L80.98,994.72 L81.08,994.54 L81.19,994.34 L81.40,993.96 L81.61,993.58 L81.82,993.20 L81.97,992.93 L82.03,992.82 L82.24,992.44 L82.45,992.07 L82.66,991.69 L82.86,991.34 L82.87,991.32 L83.08,990.94 L83.29,990.57 L83.50,990.20 L83.71,989.82 L83.75,989.76 L83.92,989.44 L84.13,989.05 L84.34,988.65 L84.55,988.26 L84.64,988.10 L84.76,987.86 L84.97,987.47 L85.18,987.08 L85.39,986.70 L85.53,986.46 L85.60,986.32 L85.81,985.96 L86.02,985.60 L86.23,985.26 L86.41,984.98 L86.44,984.94 L86.65,984.63 L86.86,984.35 L87.07,984.08 L87.28,983.81 L87.30,983.79 L87.49,983.55 L87.70,983.30 L87.91,983.06 L88.12,982.82 L88.19,982.74 L88.33,982.58 L88.54,982.36 L88.75,982.14 L88.96,981.93 L89.08,981.82 L89.17,981.73 L89.38,981.54 L89.59,981.36 L89.80,981.19 L89.97,981.06 L90.01,981.03 L90.22,980.88 L90.43,980.74 L90.64,980.60 L90.85,980.47 L90.86,980.46 L91.06,980.34 L91.27,980.21 L91.48,980.09 L91.69,979.96 L91.75,979.93 L91.91,979.85 L92.12,979.73 L92.33,979.62 L92.54,979.51 L92.64,979.46 L92.75,979.41 L92.96,979.30 L93.17,979.20 L93.38,979.10 L93.53,979.03 L93.59,979.01 L93.80,978.92 L94.01,978.82 L94.22,978.73 L94.42,978.65 L94.43,978.65 L94.64,978.56 L94.85,978.48 L95.06,978.39 L95.27,978.31 L95.31,978.30 L95.48,978.23 L95.69,978.15 L95.90,978.07 L96.11,978.00 L96.20,977.96 L96.32,977.92 L96.53,977.85 L96.74,977.77 L96.95,977.70 L97.09,977.65 L97.16,977.62 L97.37,977.55 L97.58,977.48 L97.79,977.41 L97.98,977.34 L98.00,977.33 L98.21,977.26 L98.42,977.19 L98.63,977.12 L98.84,977.05 L98.86,977.05 L99.05,976.99 L99.26,976.92 L99.47,976.85 L99.68,976.78 L99.75,976.76 L99.89,976.72 L100.10,976.65 L100.31,976.58 L100.52,976.52 L100.64,976.48 L100.73,976.45 L100.94,976.39 L101.15,976.33 L101.36,976.26 L101.53,976.21 L101.57,976.20 L101.78,976.14 L101.99,976.08 L102.20,976.02 L102.41,975.95 L102.42,975.95 L102.62,975.89 L102.83,975.83 L103.04,975.77 L103.25,975.71 L103.31,975.70 L103.46,975.66 L103.67,975.60 L103.88,975.54 L104.09,975.48 L104.20,975.45 L104.30,975.42 L105.09,975.21 L105.98,974.98 L106.87,974.75 L107.76,974.53 L108.65,974.31 L109.54,974.10 L110.43,973.89 L111.31,973.68 L112.20,973.48 L113.09,973.28 L113.98,973.08 L114.87,972.88 L115.76,972.68 L116.65,972.48 L117.54,972.29 L118.43,972.09 L119.32,971.89 L120.21,971.69 L121.10,971.49 L121.99,971.29 L122.88,971.09 L123.76,970.90 L124.65,970.71 L125.54,970.52 L126.43,970.33 L127.32,970.15 L128.21,969.96 L129.10,969.78 L129.99,969.60 L130.88,969.43 L131.77,969.25 L132.66,969.08 L133.55,968.90 L134.44,968.73 L135.33,968.56 L136.22,968.39 L137.10,968.22 L137.99,968.05 L138.88,967.88 L139.77,967.71 L140.66,967.54 L141.55,967.38 L142.44,967.21 L143.33,967.04 L144.22,966.87 L145.11,966.70 L146.00,966.53 L146.89,966.36 L147.78,966.19 L148.67,966.02 L149.55,965.85 L150.44,965.67 L151.33,965.50 L152.22,965.32 L153.11,965.14 L154.00,964.96 L154.89,964.78 L155.78,964.60 L156.67,964.41 L157.56,964.23 L158.45,964.05 L159.34,963.86 L160.23,963.68 L161.12,963.50 L162.00,963.31 L162.89,963.13 L163.78,962.94 L164.67,962.76 L165.56,962.57 L166.45,962.38 L167.34,962.20 L168.23,962.01 L169.12,961.82 L170.01,961.64 L170.90,961.45 L171.79,961.26 L172.68,961.07 L173.57,960.89 L174.45,960.70 L175.34,960.51 L176.23,960.32 L177.12,960.13 L178.01,959.94 L178.90,959.75 L179.79,959.57 L180.68,959.38 L181.57,959.19 L182.46,959.00 L183.35,958.81 L184.24,958.62 L185.13,958.43 L186.02,958.24 L186.91,958.05 L187.79,957.86 L188.68,957.68 L189.57,957.49 L190.46,957.30 L191.35,957.11 L192.24,956.92 L193.13,956.73 L194.02,956.54 L194.91,956.35 L195.80,956.16 L196.69,955.97 L197.58,955.77 L198.47,955.58 L199.36,955.39 L200.24,955.20 L201.13,955.01 L202.02,954.82 L202.91,954.63 L203.80,954.44 L204.69,954.24 L205.58,954.05 L206.47,953.86 L207.36,953.67 L208.25,953.48 L209.14,953.29 L210.03,953.09 L210.92,952.90 L211.81,952.71 L212.69,952.52 L213.58,952.33 L214.47,952.14 L215.36,951.95 L216.25,951.76 L217.14,951.57 L218.03,951.38 L218.92,951.19 L219.81,951.00 L220.70,950.81 L221.59,950.62 L222.48,950.43 L223.37,950.24 L224.26,950.05 L225.14,949.86 L226.03,949.66 L226.92,949.47 L227.81,949.28 L228.70,949.09 L229.59,948.90 L230.48,948.71 L231.37,948.51 L232.26,948.32 L233.15,948.13 L234.04,947.94 L234.93,947.74 L235.82,947.55 L236.71,947.35 L237.59,947.16 L238.48,946.96 L239.37,946.76 L240.26,946.57 L241.15,946.37 L242.04,946.17 L242.93,945.97 L243.82,945.77 L244.71,945.57 L245.60,945.37 L246.49,945.17 L247.38,944.97 L248.27,944.77 L249.16,944.56 L250.05,944.36 L250.93,944.15 L251.82,943.95 L252.71,943.74 L253.60,943.54 L254.49,943.33 L255.38,943.13 L256.27,942.92 L257.16,942.71 L258.05,942.50 L258.94,942.30 L259.83,942.09 L260.72,941.88 L261.61,941.67 L262.50,941.46 L263.38,941.25 L264.27,941.04 L265.16,940.83 L266.05,940.62 L266.94,940.41 L267.83,940.20 L268.72,939.99 L269.61,939.78 L270.50,939.56 L271.39,939.35 L272.28,939.14 L273.17,938.93 L274.06,938.72 L274.95,938.51 L275.83,938.30 L276.72,938.08 L277.61,937.87 L278.50,937.66 L279.39,937.45 L280.28,937.23 L281.17,937.01 L282.06,936.79 L282.95,936.57 L283.84,936.35 L284.73,936.13 L285.62,935.91 L286.51,935.69 L287.40,935.48 L288.28,935.26 L289.17,935.04 L290.06,934.83 L290.95,934.61 L291.84,934.40 L292.73,934.20 L293.62,933.99 L294.51,933.79 L295.40,933.59 L296.29,933.39 L297.18,933.20 L298.07,933.00 L298.96,932.81 L299.85,932.62 L300.74,932.44 L301.62,932.25 L302.51,932.07 L303.40,931.88 L304.29,931.70 L305.18,931.52 L306.07,931.34 L306.96,931.15 L307.85,930.97 L308.74,930.79 L309.63,930.61 L310.52,930.43 L311.41,930.25 L312.30,930.07 L313.19,929.89 L314.07,929.71 L314.96,929.53 L315.85,929.35 L316.74,929.16 L317.63,928.99 L318.52,928.74 L319.41,928.42 L320.30,928.12 L321.19,927.82 L322.08,927.52 L322.97,927.22 L323.86,926.93 L324.75,926.64 L325.64,926.34 L326.52,926.04 L327.41,925.75 L328.30,925.44 L329.19,925.14 L330.08,924.83 L330.97,924.52 L331.86,924.20 L332.75,923.88 L333.64,923.55 L334.53,923.21 L335.42,922.87 L336.31,922.52 L337.20,922.17 L338.09,921.81 L338.97,921.45 L339.86,921.09 L340.75,920.71 L341.64,920.34 L342.53,919.96 L343.42,919.58 L344.31,919.19 L345.20,918.80" fill="none" stroke="#00ff00" stroke-width="0.6" clip-path="url(#c1)"/>
<path d="M86.90,984.80 L87.11,984.57 L87.32,984.35 L87.53,984.13 L87.74,983.91 L87.76,983.89 L87.95,983.70 L88.16,983.49 L88.37,983.28 L88.58,983.08 L88.63,983.04 L88.79,982.89 L89.00,982.70 L89.21,982.52 L89.42,982.35 L89.49,982.29 L89.63,982.19 L89.84,982.04 L90.05,981.89 L90.26,981.76 L90.36,981.71 L90.47,981.64 L90.68,981.51 L90.89,981.39 L91.10,981.27 L91.22,981.21 L91.31,981.16 L91.52,981.05 L91.73,980.94 L91.94,980.83 L92.08,980.76 L92.15,980.73 L92.36,980.63 L92.57,980.53 L92.78,980.43 L92.95,980.36 L92.99,980.34 L93.20,980.25 L93.41,980.16 L93.62,980.07 L93.81,980.00 L93.83,979.99 L94.04,979.90 L94.25,979.82 L94.46,979.75 L94.67,979.67 L94.67,979.67 L94.88,979.60 L95.09,979.52 L95.30,979.45 L95.51,979.38 L95.54,979.38 L95.72,979.32 L95.93,979.25 L96.14,979.19 L96.35,979.12 L96.40,979.11 L96.56,979.06 L96.77,979.00 L96.98,978.94 L97.19,978.88 L97.27,978.86 L97.40,978.82 L97.61,978.76 L97.82,978.70 L98.03,978.64 L98.13,978.62 L98.24,978.59 L98.45,978.53 L98.66,978.47 L98.87,978.42 L98.99,978.39 L99.08,978.36 L99.29,978.31 L99.51,978.25 L99.72,978.20 L99.86,978.16 L99.93,978.15 L100.14,978.09 L100.35,978.04 L100.56,977.99 L100.72,977.95 L100.77,977.94 L100.98,977.89 L101.19,977.84 L101.40,977.79 L101.59,977.74 L101.61,977.74 L101.82,977.69 L102.03,977.64 L102.24,977.59 L102.45,977.55 L102.45,977.55 L102.66,977.50 L102.87,977.45 L103.08,977.41 L103.29,977.36 L103.31,977.36 L103.50,977.32 L103.71,977.27 L103.92,977.23 L104.13,977.18 L104.18,977.17 L104.34,977.14 L104.55,977.09 L104.76,977.05 L104.97,977.01 L105.04,976.99 L105.18,976.97 L105.39,976.92 L105.60,976.88 L105.81,976.84 L105.91,976.82 L106.02,976.80 L106.23,976.76 L106.44,976.72 L106.65,976.68 L106.77,976.65 L106.86,976.64 L107.07,976.60 L107.28,976.56 L107.49,976.52 L107.63,976.49 L107.70,976.48 L107.91,976.44 L108.12,976.40 L108.33,976.36 L108.50,976.33 L108.54,976.32 L108.75,976.28 L108.96,976.25 L109.17,976.21 L109.36,976.17 L109.38,976.17 L109.59,976.13 L109.80,976.09 L110.01,976.06 L110.22,976.02 L110.22,976.02 L110.43,975.98 L110.64,975.95 L110.85,975.91 L111.06,975.87 L111.09,975.87 L111.27,975.84 L111.48,975.80 L111.69,975.76 L111.90,975.73 L111.95,975.72 L112.82,975.57 L113.68,975.42 L114.54,975.28 L115.41,975.13 L116.27,974.98 L117.14,974.83 L118.00,974.68 L118.86,974.52 L119.73,974.36 L120.59,974.20 L121.46,974.04 L122.32,973.88 L123.18,973.72 L124.05,973.56 L124.91,973.40 L125.77,973.24 L126.64,973.08 L127.50,972.93 L128.37,972.77 L129.23,972.62 L130.09,972.47 L130.96,972.32 L131.82,972.16 L132.69,972.01 L133.55,971.86 L134.41,971.71 L135.28,971.56 L136.14,971.41 L137.01,971.27 L137.87,971.12 L138.73,970.97 L139.60,970.82 L140.46,970.67 L141.32,970.53 L142.19,970.38 L143.05,970.23 L143.92,970.09 L144.78,969.94 L145.64,969.79 L146.51,969.64 L147.37,969.50 L148.24,969.35 L149.10,969.20 L149.96,969.05 L150.83,968.90 L151.69,968.75 L152.55,968.60 L153.42,968.45 L154.28,968.30 L155.15,968.15 L156.01,968.00 L156.87,967.85 L157.74,967.70 L158.60,967.55 L159.47,967.39 L160.33,967.24 L161.19,967.09 L162.06,966.94 L162.92,966.78 L163.79,966.63 L164.65,966.48 L165.51,966.33 L166.38,966.18 L167.24,966.02 L168.10,965.87 L168.97,965.72 L169.83,965.57 L170.70,965.41 L171.56,965.26 L172.42,965.11 L173.29,964.96 L174.15,964.81 L175.02,964.66 L175.88,964.50 L176.74,964.35 L177.61,964.20 L178.47,964.05 L179.34,963.90 L180.20,963.75 L181.06,963.60 L181.93,963.45 L182.79,963.31 L183.65,963.16 L184.52,963.01 L185.38,962.86 L186.25,962.71 L187.11,962.57 L187.97,962.42 L188.84,962.28 L189.70,962.13 L190.57,961.99 L191.43,961.84 L192.29,961.70 L193.16,961.56 L194.02,961.41 L194.88,961.27 L195.75,961.13 L196.61,960.99 L197.48,960.85 L198.34,960.71 L199.20,960.57 L200.07,960.43 L200.93,960.29 L201.80,960.15 L202.66,960.01 L203.52,959.87 L204.39,959.72 L205.25,959.58 L206.12,959.44 L206.98,959.30 L207.84,959.16 L208.71,959.01 L209.57,958.87 L210.43,958.73 L211.30,958.58 L212.16,958.44 L213.03,958.29 L213.89,958.14 L214.75,958.00 L215.62,957.85 L216.48,957.70 L217.35,957.55 L218.21,957.40 L219.07,957.25 L219.94,957.10 L220.80,956.95 L221.67,956.80 L222.53,956.65 L223.39,956.49 L224.26,956.34 L225.12,956.19 L225.98,956.04 L226.85,955.89 L227.71,955.74 L228.58,955.59 L229.44,955.44 L230.30,955.29 L231.17,955.15 L232.03,955.00 L232.90,954.85 L233.76,954.71 L234.62,954.56 L235.49,954.42 L236.35,954.27 L237.22,954.13 L238.08,953.99 L238.94,953.85 L239.81,953.71 L240.67,953.57 L241.53,953.44 L242.40,953.30 L243.26,953.17 L244.13,953.04 L244.99,952.90 L245.85,952.77 L246.72,952.64 L247.58,952.51 L248.45,952.38 L249.31,952.26 L250.17,952.13 L251.04,952.00 L251.90,951.87 L252.76,951.75 L253.63,951.62 L254.49,951.50 L255.36,951.37 L256.22,951.25 L257.08,951.13 L257.95,951.00 L258.81,950.88 L259.68,950.76 L260.54,950.64 L261.40,950.52 L262.27,950.40 L263.13,950.28 L264.00,950.16 L264.86,950.05 L265.72,949.93 L266.59,949.81 L267.45,949.70 L268.31,949.58 L269.18,949.47 L270.04,949.35 L270.91,949.24 L271.77,949.13 L272.63,949.02 L273.50,948.91 L274.36,948.80 L275.23,948.69 L276.09,948.58 L276.95,948.47 L277.82,948.36 L278.68,948.25 L279.55,948.15 L280.41,948.05 L281.27,947.95 L282.14,947.84 L283.00,947.75 L283.86,947.65 L284.73,947.55 L285.59,947.45 L286.46,947.36 L287.32,947.26 L288.18,947.17 L289.05,947.08 L289.91,946.99 L290.78,946.89 L291.64,946.80 L292.50,946.71 L293.37,946.62 L294.23,946.53 L295.09,946.43 L295.96,946.34 L296.82,946.25 L297.69,946.16 L298.55,946.06 L299.41,945.97 L300.28,945.88 L301.14,945.78 L302.01,945.69 L302.87,945.59 L303.73,945.49 L304.60,945.40 L305.46,945.30 L306.33,945.20 L307.19,945.09 L308.05,944.99 L308.92,944.89 L309.78,944.78 L310.64,944.67 L311.51,944.56 L312.37,944.45 L313.24,944.34 L314.10,944.22 L314.96,944.11 L315.83,944.00 L316.69,943.88 L317.56,943.76 L318.42,943.65 L319.28,943.53 L320.15,943.41 L321.01,943.29 L321.88,943.17 L322.74,943.05 L323.60,942.92 L324.47,942.80 L325.33,942.67 L326.19,942.55 L327.06,942.42 L327.92,942.30 L328.79,942.17 L329.65,942.04 L330.51,941.91 L331.38,941.78 L332.24,941.65 L333.11,941.52 L333.97,941.39 L334.83,941.25 L335.70,941.12 L336.56,940.99 L337.43,940.85 L338.29,940.71 L339.15,940.58 L340.02,940.44 L340.88,940.30 L341.74,940.16 L342.61,940.02 L343.47,939.88 L344.34,939.74 L345.20,939.60" fill="none" stroke="#00ff00" stroke-width="0.6" stroke-dasharray="5.8,5" clip-path="url(#c1)"/>
<path d="M422.60,998.00 L422.81,924.61 L423.02,842.24 L423.23,832.31 L423.44,828.38 L423.50,827.64 L423.65,826.03 L423.86,824.18 L424.07,822.20 L424.28,820.45 L424.39,819.59 L424.49,818.91 L424.70,817.53 L424.91,816.26 L425.12,815.05 L425.29,814.08 L425.33,813.86 L425.54,812.72 L425.75,811.63 L425.96,810.58 L426.17,809.58 L426.19,809.50 L426.38,808.62 L426.59,807.71 L426.80,806.84 L427.01,806.01 L427.09,805.72 L427.22,805.22 L427.43,804.46 L427.64,803.72 L427.85,803.00 L427.98,802.56 L428.06,802.30 L428.27,801.62 L428.48,800.96 L428.69,800.32 L428.88,799.76 L428.90,799.70 L429.11,799.10 L429.32,798.52 L429.53,797.97 L429.74,797.43 L429.78,797.34 L429.95,796.91 L430.16,796.41 L430.37,795.94 L430.58,795.48 L430.68,795.28 L430.79,795.03 L431.00,794.60 L431.21,794.19 L431.42,793.79 L431.57,793.51 L431.63,793.39 L431.84,793.01 L432.05,792.64 L432.26,792.28 L432.47,791.93 L432.47,791.92 L432.68,791.57 L432.89,791.23 L433.10,790.88 L433.31,790.54 L433.37,790.46 L433.52,790.21 L433.73,789.87 L433.94,789.53 L434.15,789.19 L434.27,789.01 L434.36,788.84 L434.57,788.50 L434.78,788.16 L434.99,787.82 L435.16,787.54 L435.21,787.47 L435.42,787.13 L435.63,786.79 L435.84,786.45 L436.05,786.11 L436.06,786.09 L436.26,785.77 L436.47,785.44 L436.68,785.11 L436.89,784.78 L436.96,784.67 L437.10,784.45 L437.31,784.13 L437.52,783.81 L437.73,783.49 L437.85,783.30 L437.94,783.18 L438.15,782.87 L438.36,782.57 L438.57,782.27 L438.75,782.01 L438.78,781.98 L438.99,781.69 L439.20,781.41 L439.41,781.14 L439.62,780.87 L439.65,780.83 L439.83,780.61 L440.04,780.36 L440.25,780.11 L440.46,779.87 L440.55,779.77 L440.67,779.64 L440.88,779.42 L441.09,779.21 L441.30,779.00 L441.44,778.86 L441.51,778.80 L441.72,778.61 L441.93,778.42 L442.14,778.23 L442.34,778.06 L442.35,778.05 L442.56,777.87 L442.77,777.69 L442.98,777.52 L443.19,777.35 L443.24,777.31 L443.40,777.18 L443.61,777.01 L443.82,776.85 L444.03,776.69 L444.14,776.61 L444.24,776.54 L444.45,776.38 L444.66,776.23 L444.87,776.08 L445.03,775.97 L445.08,775.93 L445.29,775.79 L445.50,775.65 L445.71,775.50 L445.92,775.37 L445.93,775.36 L446.13,775.23 L446.34,775.09 L446.55,774.96 L446.76,774.83 L446.83,774.79 L446.97,774.70 L447.18,774.57 L447.39,774.44 L447.60,774.31 L447.73,774.24 L448.62,773.71 L449.52,773.20 L450.42,772.70 L451.31,772.22 L452.21,771.74 L453.11,771.29 L454.01,770.85 L454.90,770.42 L455.80,770.01 L456.70,769.61 L457.60,769.23 L458.49,768.86 L459.39,768.50 L460.29,768.15 L461.18,767.82 L462.08,767.50 L462.98,767.20 L463.88,766.90 L464.77,766.62 L465.67,766.34 L466.57,766.07 L467.47,765.81 L468.36,765.56 L469.26,765.30 L470.16,765.06 L471.06,764.81 L471.95,764.57 L472.85,764.33 L473.75,764.10 L474.64,763.87 L475.54,763.64 L476.44,763.42 L477.34,763.20 L478.23,762.98 L479.13,762.77 L480.03,762.56 L480.93,762.36 L481.82,762.16 L482.72,761.97 L483.62,761.78 L484.52,761.59 L485.41,761.40 L486.31,761.21 L487.21,761.02 L488.10,760.84 L489.00,760.65 L489.90,760.47 L490.80,760.29 L491.69,760.12 L492.59,759.95 L493.49,759.78 L494.39,759.62 L495.28,759.46 L496.18,759.31 L497.08,759.17 L497.98,759.03 L498.87,758.90 L499.77,758.77 L500.67,758.65 L501.56,758.54 L502.46,758.42 L503.36,758.31 L504.26,758.20 L505.15,758.09 L506.05,757.99 L506.95,757.88 L507.85,757.78 L508.74,757.69 L509.64,757.59 L510.54,757.51 L511.44,757.42 L512.33,757.34 L513.23,757.27 L514.13,757.20 L515.02,757.13 L515.92,757.07 L516.82,757.02 L517.72,756.97 L518.61,756.93 L519.51,756.88 L520.41,756.84 L521.31,756.80 L522.20,756.76 L523.10,756.72 L524.00,756.68 L524.89,756.65 L525.79,756.62 L526.69,756.58 L527.59,756.55 L528.48,756.53 L529.38,756.50 L530.28,756.48 L531.18,756.46 L532.07,756.44 L532.97,756.42 L533.87,756.40 L534.77,756.39 L535.66,756.38 L536.56,756.36 L537.46,756.35 L538.35,756.34 L539.25,756.33 L540.15,756.32 L541.05,756.30 L541.94,756.29 L542.84,756.28 L543.74,756.27 L544.64,756.26 L545.53,756.25 L546.43,756.25 L547.33,756.24 L548.23,756.23 L549.12,756.22 L550.02,756.22 L550.92,756.21 L551.81,756.21 L552.71,756.21 L553.61,756.20 L554.51,756.20 L555.40,756.20 L556.30,756.20 L557.20,756.20 L558.10,756.20 L558.99,756.21 L559.89,756.21 L560.79,756.22 L561.69,756.22 L562.58,756.23 L563.48,756.24 L564.38,756.25 L565.27,756.26 L566.17,756.27 L567.07,756.28 L567.97,756.29 L568.86,756.31 L569.76,756.32 L570.66,756.33 L571.56,756.35 L572.45,756.36 L573.35,756.38 L574.25,756.39 L575.15,756.41 L576.04,756.43 L576.94,756.45 L577.84,756.46 L578.73,756.48 L579.63,756.50 L580.53,756.52 L581.43,756.53 L582.32,756.55 L583.22,756.57 L584.12,756.59 L585.02,756.61 L585.91,756.63 L586.81,756.64 L587.71,756.66 L588.61,756.68 L589.50,756.70 L590.40,756.71 L591.30,756.73 L592.19,756.75 L593.09,756.77 L593.99,756.79 L594.89,756.81 L595.78,756.83 L596.68,756.85 L597.58,756.87 L598.48,756.89 L599.37,756.91 L600.27,756.94 L601.17,756.96 L602.06,756.98 L602.96,757.01 L603.86,757.03 L604.76,757.06 L605.65,757.08 L606.55,757.11 L607.45,757.13 L608.35,757.16 L609.24,757.18 L610.14,757.21 L611.04,757.23 L611.94,757.26 L612.83,757.29 L613.73,757.31 L614.63,757.34 L615.52,757.36 L616.42,757.39 L617.32,757.42 L618.22,757.44 L619.11,757.47 L620.01,757.50 L620.91,757.52 L621.81,757.55 L622.70,757.58 L623.60,757.60 L624.50,757.63 L625.40,757.66 L626.29,757.68 L627.19,757.71 L628.09,757.74 L628.98,757.76 L629.88,757.79 L630.78,757.82 L631.68,757.85 L632.57,757.87 L633.47,757.90 L634.37,757.93 L635.27,757.96 L636.16,757.99 L637.06,758.01 L637.96,758.04 L638.86,758.07 L639.75,758.10 L640.65,758.13 L641.55,758.16 L642.44,758.19 L643.34,758.22 L644.24,758.25 L645.14,758.28 L646.03,758.31 L646.93,758.34 L647.83,758.37 L648.73,758.40 L649.62,758.43 L650.52,758.46 L651.42,758.49 L652.32,758.52 L653.21,758.56 L654.11,758.59 L655.01,758.62 L655.90,758.65 L656.80,758.69 L657.70,758.72 L658.60,758.75 L659.49,758.78 L660.39,758.82 L661.29,758.85 L662.19,758.89 L663.08,758.92 L663.98,758.96 L664.88,758.99 L665.77,759.03 L666.67,759.06 L667.57,759.10 L668.47,759.13 L669.36,759.17 L670.26,759.20 L671.16,759.24 L672.06,759.28 L672.95,759.31 L673.85,759.35 L674.75,759.39 L675.65,759.43 L676.54,759.47 L677.44,759.50 L678.34,759.54 L679.23,759.58 L680.13,759.62 L681.03,759.66 L681.93,759.70 L682.82,759.74 L683.72,759.78 L684.62,759.82 L685.52,759.86 L686.41,759.90 L687.31,759.94 L688.21,759.98 L689.11,760.02 L690.00,760.06 L690.90,760.10" fill="none" stroke="#0000ff" stroke-width="0.6" clip-path="url(#c2)"/>
<path d="M424.70,817.60 L424.91,816.82 L425.12,816.05 L425.33,815.29 L425.54,814.57 L425.59,814.40 L425.75,813.87 L425.96,813.21 L426.17,812.58 L426.38,812.00 L426.48,811.73 L426.59,811.43 L426.80,810.88 L427.01,810.35 L427.22,809.83 L427.37,809.47 L427.43,809.33 L427.64,808.84 L427.85,808.36 L428.06,807.90 L428.26,807.46 L428.27,807.44 L428.48,806.99 L428.69,806.55 L428.90,806.11 L429.11,805.68 L429.15,805.60 L429.32,805.26 L429.53,804.83 L429.74,804.42 L429.95,804.01 L430.04,803.84 L430.16,803.61 L430.37,803.21 L430.58,802.82 L430.79,802.43 L430.93,802.18 L431.00,802.05 L431.21,801.67 L431.42,801.30 L431.63,800.94 L431.82,800.61 L431.84,800.58 L432.05,800.22 L432.26,799.87 L432.47,799.52 L432.68,799.18 L432.71,799.13 L432.89,798.84 L433.10,798.51 L433.31,798.18 L433.52,797.85 L433.60,797.73 L433.73,797.53 L433.94,797.21 L434.15,796.90 L434.36,796.59 L434.49,796.40 L434.57,796.28 L434.78,795.98 L434.99,795.68 L435.20,795.38 L435.38,795.13 L435.41,795.09 L435.62,794.80 L435.83,794.51 L436.04,794.22 L436.25,793.94 L436.27,793.91 L436.46,793.66 L436.67,793.38 L436.88,793.10 L437.09,792.82 L437.16,792.73 L437.31,792.55 L437.52,792.27 L437.73,792.00 L437.94,791.73 L438.05,791.57 L438.15,791.46 L438.36,791.19 L438.57,790.92 L438.78,790.64 L438.94,790.42 L438.99,790.37 L439.20,790.09 L439.41,789.82 L439.62,789.55 L439.83,789.28 L439.84,789.26 L440.04,789.01 L440.25,788.75 L440.46,788.50 L440.67,788.26 L440.73,788.19 L440.88,788.03 L441.09,787.81 L441.30,787.60 L441.51,787.41 L441.62,787.30 L441.72,787.21 L441.93,787.02 L442.14,786.83 L442.35,786.64 L442.51,786.50 L442.56,786.46 L442.77,786.28 L442.98,786.10 L443.19,785.93 L443.40,785.75 L443.40,785.75 L443.61,785.58 L443.82,785.42 L444.03,785.25 L444.24,785.09 L444.29,785.05 L444.45,784.93 L444.66,784.77 L444.87,784.61 L445.08,784.46 L445.18,784.39 L445.29,784.31 L445.50,784.16 L445.71,784.01 L445.92,783.86 L446.07,783.76 L446.13,783.72 L446.34,783.57 L446.55,783.43 L446.76,783.29 L446.96,783.17 L446.97,783.16 L447.18,783.02 L447.39,782.89 L447.60,782.76 L447.81,782.62 L447.85,782.60 L448.02,782.49 L448.23,782.37 L448.44,782.24 L448.65,782.11 L448.74,782.06 L448.86,781.99 L449.07,781.86 L449.28,781.74 L449.49,781.62 L449.63,781.54 L449.70,781.50 L450.52,781.04 L451.41,780.55 L452.30,780.09 L453.19,779.64 L454.08,779.20 L454.97,778.78 L455.86,778.37 L456.75,777.98 L457.64,777.60 L458.53,777.24 L459.42,776.88 L460.31,776.54 L461.20,776.22 L462.09,775.89 L462.98,775.58 L463.87,775.27 L464.76,774.97 L465.65,774.68 L466.54,774.39 L467.43,774.11 L468.32,773.83 L469.22,773.56 L470.11,773.29 L471.00,773.03 L471.89,772.77 L472.78,772.52 L473.67,772.27 L474.56,772.02 L475.45,771.78 L476.34,771.54 L477.23,771.30 L478.12,771.07 L479.01,770.84 L479.90,770.61 L480.79,770.38 L481.68,770.16 L482.57,769.93 L483.46,769.71 L484.35,769.49 L485.24,769.27 L486.13,769.06 L487.02,768.85 L487.91,768.64 L488.80,768.44 L489.69,768.23 L490.58,768.04 L491.47,767.84 L492.36,767.64 L493.25,767.45 L494.14,767.26 L495.03,767.08 L495.92,766.89 L496.81,766.71 L497.70,766.52 L498.59,766.34 L499.49,766.16 L500.38,765.98 L501.27,765.81 L502.16,765.63 L503.05,765.45 L503.94,765.27 L504.83,765.09 L505.72,764.92 L506.61,764.74 L507.50,764.57 L508.39,764.40 L509.28,764.23 L510.17,764.07 L511.06,763.90 L511.95,763.75 L512.84,763.59 L513.73,763.44 L514.62,763.29 L515.51,763.15 L516.40,763.02 L517.29,762.89 L518.18,762.76 L519.07,762.64 L519.96,762.52 L520.85,762.40 L521.74,762.29 L522.63,762.18 L523.52,762.07 L524.41,761.97 L525.30,761.87 L526.19,761.76 L527.08,761.66 L527.97,761.57 L528.87,761.47 L529.76,761.37 L530.65,761.27 L531.54,761.18 L532.43,761.08 L533.32,760.99 L534.21,760.89 L535.10,760.79 L535.99,760.70 L536.88,760.60 L537.77,760.51 L538.66,760.42 L539.55,760.33 L540.44,760.24 L541.33,760.15 L542.22,760.06 L543.11,759.97 L544.00,759.88 L544.89,759.79 L545.78,759.70 L546.67,759.62 L547.56,759.53 L548.45,759.44 L549.34,759.36 L550.23,759.27 L551.12,759.18 L552.01,759.10 L552.90,759.01 L553.79,758.92 L554.68,758.83 L555.57,758.74 L556.46,758.65 L557.35,758.56 L558.25,758.46 L559.14,758.36 L560.03,758.26 L560.92,758.15 L561.81,758.04 L562.70,757.94 L563.59,757.83 L564.48,757.73 L565.37,757.63 L566.26,757.53 L567.15,757.44 L568.04,757.35 L568.93,757.27 L569.82,757.20 L570.71,757.13 L571.60,757.07 L572.49,757.02 L573.38,756.98 L574.27,756.94 L575.16,756.90 L576.05,756.86 L576.94,756.82 L577.83,756.78 L578.72,756.75 L579.61,756.71 L580.50,756.68 L581.39,756.65 L582.28,756.62 L583.17,756.60 L584.06,756.57 L584.95,756.55 L585.84,756.54 L586.73,756.52 L587.63,756.51 L588.52,756.50 L589.41,756.50 L590.30,756.50 L591.19,756.50 L592.08,756.50 L592.97,756.51 L593.86,756.51 L594.75,756.52 L595.64,756.53 L596.53,756.54 L597.42,756.54 L598.31,756.55 L599.20,756.57 L600.09,756.58 L600.98,756.59 L601.87,756.60 L602.76,756.62 L603.65,756.63 L604.54,756.65 L605.43,756.66 L606.32,756.68 L607.21,756.69 L608.10,756.71 L608.99,756.73 L609.88,756.74 L610.77,756.76 L611.66,756.78 L612.55,756.80 L613.44,756.81 L614.33,756.83 L615.22,756.85 L616.11,756.87 L617.01,756.88 L617.90,756.90 L618.79,756.92 L619.68,756.93 L620.57,756.95 L621.46,756.97 L622.35,756.98 L623.24,757.00 L624.13,757.01 L625.02,757.02 L625.91,757.04 L626.80,757.05 L627.69,757.07 L628.58,757.08 L629.47,757.10 L630.36,757.11 L631.25,757.13 L632.14,757.15 L633.03,757.16 L633.92,757.18 L634.81,757.19 L635.70,757.21 L636.59,757.23 L637.48,757.24 L638.37,757.26 L639.26,757.27 L640.15,757.29 L641.04,757.31 L641.93,757.32 L642.82,757.34 L643.71,757.35 L644.60,757.37 L645.49,757.39 L646.38,757.40 L647.28,757.42 L648.17,757.44 L649.06,757.45 L649.95,757.47 L650.84,757.49 L651.73,757.50 L652.62,757.52 L653.51,757.53 L654.40,757.55 L655.29,757.57 L656.18,757.58 L657.07,757.60 L657.96,757.61 L658.85,757.63 L659.74,757.65 L660.63,757.66 L661.52,757.68 L662.41,757.69 L663.30,757.71 L664.19,757.72 L665.08,757.74 L665.97,757.76 L666.86,757.77 L667.75,757.79 L668.64,757.80 L669.53,757.82 L670.42,757.84 L671.31,757.85 L672.20,757.87 L673.09,757.88 L673.98,757.90 L674.87,757.91 L675.76,757.93 L676.66,757.95 L677.55,757.96 L678.44,757.98 L679.33,757.99 L680.22,758.01 L681.11,758.03 L682.00,758.04 L682.89,758.06 L683.78,758.07 L684.67,758.09 L685.56,758.10 L686.45,758.12 L687.34,758.14 L688.23,758.15 L689.12,758.17 L690.01,758.18 L690.90,758.20" fill="none" stroke="#0000ff" stroke-width="0.6" stroke-dasharray="5.8,5" clip-path="url(#c2)"/>
<path d="M422.50,998.00 L422.71,892.40 L422.92,885.59 L423.13,881.22 L423.34,876.20 L423.40,875.02 L423.55,872.49 L423.76,870.34 L423.97,868.67 L424.18,867.32 L424.30,866.69 L424.39,866.19 L424.60,865.17 L424.81,864.18 L425.02,863.23 L425.19,862.50 L425.23,862.34 L425.44,861.51 L425.65,860.72 L425.86,859.99 L426.07,859.30 L426.09,859.24 L426.28,858.66 L426.49,858.06 L426.70,857.50 L426.91,856.97 L426.99,856.78 L427.12,856.47 L427.33,855.99 L427.54,855.54 L427.75,855.11 L427.89,854.84 L427.96,854.70 L428.17,854.30 L428.38,853.92 L428.59,853.56 L428.78,853.23 L428.80,853.20 L429.01,852.86 L429.22,852.52 L429.43,852.19 L429.64,851.87 L429.68,851.81 L429.85,851.56 L430.06,851.25 L430.27,850.94 L430.48,850.65 L430.58,850.51 L430.69,850.36 L430.90,850.07 L431.11,849.80 L431.32,849.53 L431.48,849.34 L431.53,849.26 L431.74,849.01 L431.95,848.76 L432.16,848.51 L432.37,848.27 L432.37,848.27 L432.58,848.04 L432.79,847.82 L433.00,847.60 L433.21,847.38 L433.27,847.33 L433.42,847.18 L433.63,846.98 L433.84,846.78 L434.05,846.58 L434.17,846.48 L434.26,846.39 L434.47,846.20 L434.68,846.02 L434.89,845.84 L435.07,845.69 L435.11,845.66 L435.32,845.48 L435.53,845.31 L435.74,845.14 L435.95,844.98 L435.96,844.96 L436.16,844.82 L436.37,844.66 L436.58,844.50 L436.79,844.35 L436.86,844.29 L437.00,844.20 L437.21,844.05 L437.42,843.91 L437.63,843.76 L437.76,843.67 L437.84,843.62 L438.05,843.49 L438.26,843.35 L438.47,843.22 L438.66,843.10 L438.68,843.09 L438.89,842.96 L439.10,842.83 L439.31,842.71 L439.52,842.58 L439.56,842.56 L439.73,842.45 L439.94,842.33 L440.15,842.21 L440.36,842.09 L440.45,842.03 L440.57,841.97 L440.78,841.85 L440.99,841.73 L441.20,841.62 L441.35,841.54 L441.41,841.51 L441.62,841.40 L441.83,841.29 L442.04,841.18 L442.25,841.08 L442.25,841.08 L442.46,840.98 L442.67,840.88 L442.88,840.78 L443.09,840.69 L443.15,840.67 L443.30,840.60 L443.51,840.51 L443.72,840.43 L443.93,840.34 L444.04,840.30 L444.14,840.26 L444.35,840.19 L444.56,840.11 L444.77,840.04 L444.94,839.98 L444.98,839.97 L445.19,839.90 L445.40,839.83 L445.61,839.76 L445.82,839.69 L445.84,839.69 L446.03,839.63 L446.24,839.56 L446.45,839.49 L446.66,839.43 L446.74,839.40 L446.87,839.36 L447.08,839.30 L447.29,839.24 L447.50,839.18 L447.63,839.14 L448.53,838.90 L449.43,838.68 L450.33,838.51 L451.23,838.37 L452.12,838.27 L453.02,838.18 L453.92,838.11 L454.82,838.05 L455.71,838.01 L456.61,838.00 L457.51,838.01 L458.41,838.03 L459.30,838.05 L460.20,838.09 L461.10,838.13 L462.00,838.22 L462.89,838.35 L463.79,838.50 L464.69,838.67 L465.59,838.86 L466.49,839.05 L467.38,839.25 L468.28,839.44 L469.18,839.63 L470.08,839.84 L470.97,840.06 L471.87,840.30 L472.77,840.55 L473.67,840.81 L474.56,841.08 L475.46,841.37 L476.36,841.67 L477.26,841.99 L478.15,842.31 L479.05,842.65 L479.95,842.99 L480.85,843.34 L481.75,843.70 L482.64,844.06 L483.54,844.42 L484.44,844.79 L485.34,845.17 L486.23,845.57 L487.13,845.98 L488.03,846.39 L488.93,846.81 L489.82,847.24 L490.72,847.66 L491.62,848.09 L492.52,848.52 L493.42,848.94 L494.31,849.35 L495.21,849.76 L496.11,850.16 L497.01,850.57 L497.90,850.97 L498.80,851.38 L499.70,851.79 L500.60,852.19 L501.49,852.60 L502.39,853.00 L503.29,853.39 L504.19,853.79 L505.08,854.17 L505.98,854.55 L506.88,854.93 L507.78,855.29 L508.68,855.65 L509.57,856.00 L510.47,856.33 L511.37,856.66 L512.27,856.97 L513.16,857.28 L514.06,857.59 L514.96,857.89 L515.86,858.19 L516.75,858.50 L517.65,858.81 L518.55,859.13 L519.45,859.46 L520.34,859.80 L521.24,860.16 L522.14,860.54 L523.04,860.94 L523.94,861.33 L524.83,861.70 L525.73,862.05 L526.63,862.37 L527.53,862.69 L528.42,863.00 L529.32,863.30 L530.22,863.60 L531.12,863.88 L532.01,864.17 L532.91,864.44 L533.81,864.71 L534.71,864.96 L535.61,865.22 L536.50,865.46 L537.40,865.70 L538.30,865.93 L539.20,866.16 L540.09,866.38 L540.99,866.59 L541.89,866.80 L542.79,867.01 L543.68,867.21 L544.58,867.41 L545.48,867.60 L546.38,867.79 L547.27,867.98 L548.17,868.16 L549.07,868.34 L549.97,868.52 L550.87,868.69 L551.76,868.86 L552.66,869.02 L553.56,869.18 L554.46,869.33 L555.35,869.49 L556.25,869.64 L557.15,869.80 L558.05,869.97 L558.94,870.13 L559.84,870.30 L560.74,870.47 L561.64,870.64 L562.53,870.80 L563.43,870.97 L564.33,871.14 L565.23,871.30 L566.13,871.46 L567.02,871.62 L567.92,871.77 L568.82,871.92 L569.72,872.06 L570.61,872.19 L571.51,872.32 L572.41,872.44 L573.31,872.55 L574.20,872.66 L575.10,872.76 L576.00,872.86 L576.90,872.96 L577.79,873.05 L578.69,873.14 L579.59,873.23 L580.49,873.31 L581.39,873.40 L582.28,873.48 L583.18,873.56 L584.08,873.64 L584.98,873.71 L585.87,873.79 L586.77,873.86 L587.67,873.94 L588.57,874.01 L589.46,874.08 L590.36,874.15 L591.26,874.22 L592.16,874.30 L593.06,874.37 L593.95,874.44 L594.85,874.51 L595.75,874.58 L596.65,874.66 L597.54,874.73 L598.44,874.80 L599.34,874.86 L600.24,874.93 L601.13,875.00 L602.03,875.07 L602.93,875.13 L603.83,875.19 L604.72,875.25 L605.62,875.31 L606.52,875.37 L607.42,875.43 L608.32,875.48 L609.21,875.53 L610.11,875.58 L611.01,875.63 L611.91,875.67 L612.80,875.71 L613.70,875.75 L614.60,875.79 L615.50,875.82 L616.39,875.85 L617.29,875.88 L618.19,875.90 L619.09,875.93 L619.98,875.96 L620.88,875.98 L621.78,876.00 L622.68,876.02 L623.58,876.05 L624.47,876.07 L625.37,876.08 L626.27,876.10 L627.17,876.12 L628.06,876.14 L628.96,876.16 L629.86,876.18 L630.76,876.19 L631.65,876.21 L632.55,876.23 L633.45,876.25 L634.35,876.26 L635.25,876.28 L636.14,876.30 L637.04,876.32 L637.94,876.34 L638.84,876.36 L639.73,876.38 L640.63,876.41 L641.53,876.43 L642.43,876.46 L643.32,876.48 L644.22,876.51 L645.12,876.54 L646.02,876.58 L646.91,876.62 L647.81,876.66 L648.71,876.71 L649.61,876.76 L650.51,876.81 L651.40,876.86 L652.30,876.91 L653.20,876.96 L654.10,877.00 L654.99,877.05 L655.89,877.10 L656.79,877.14 L657.69,877.18 L658.58,877.21 L659.48,877.24 L660.38,877.26 L661.28,877.28 L662.17,877.30 L663.07,877.30 L663.97,877.30 L664.87,877.29 L665.77,877.29 L666.66,877.27 L667.56,877.26 L668.46,877.25 L669.36,877.23 L670.25,877.21 L671.15,877.18 L672.05,877.16 L672.95,877.14 L673.84,877.11 L674.74,877.09 L675.64,877.06 L676.54,877.03 L677.44,877.01 L678.33,876.98 L679.23,876.95 L680.13,876.92 L681.03,876.89 L681.92,876.85 L682.82,876.81 L683.72,876.77 L684.62,876.73 L685.51,876.69 L686.41,876.64 L687.31,876.60 L688.21,876.55 L689.10,876.50 L690.00,876.45 L690.90,876.40" fill="none" stroke="#ff00ff" stroke-width="0.6" clip-path="url(#c2)"/>
<path d="M424.70,869.80 L424.91,869.15 L425.12,868.52 L425.33,867.91 L425.54,867.32 L425.59,867.18 L425.75,866.76 L425.96,866.24 L426.17,865.76 L426.38,865.32 L426.48,865.12 L426.59,864.90 L426.80,864.49 L427.01,864.10 L427.22,863.72 L427.37,863.46 L427.43,863.35 L427.64,863.00 L427.85,862.66 L428.06,862.33 L428.26,862.03 L428.27,862.01 L428.48,861.71 L428.69,861.41 L428.90,861.12 L429.11,860.84 L429.15,860.79 L429.32,860.57 L429.53,860.31 L429.74,860.05 L429.95,859.80 L430.04,859.69 L430.16,859.55 L430.37,859.30 L430.58,859.06 L430.79,858.83 L430.93,858.67 L431.00,858.60 L431.21,858.37 L431.42,858.15 L431.63,857.93 L431.82,857.74 L431.84,857.72 L432.05,857.51 L432.26,857.31 L432.47,857.11 L432.68,856.92 L432.71,856.89 L432.89,856.73 L433.10,856.55 L433.31,856.36 L433.52,856.19 L433.60,856.12 L433.73,856.02 L433.94,855.85 L434.15,855.69 L434.36,855.53 L434.49,855.43 L434.57,855.37 L434.78,855.22 L434.99,855.06 L435.20,854.91 L435.38,854.79 L435.41,854.76 L435.62,854.62 L435.83,854.47 L436.04,854.33 L436.25,854.18 L436.27,854.17 L436.46,854.04 L436.67,853.90 L436.88,853.77 L437.09,853.63 L437.16,853.59 L437.31,853.50 L437.52,853.37 L437.73,853.24 L437.94,853.12 L438.05,853.05 L438.15,853.00 L438.36,852.88 L438.57,852.76 L438.78,852.64 L438.94,852.55 L438.99,852.53 L439.20,852.42 L439.41,852.31 L439.62,852.21 L439.83,852.10 L439.84,852.10 L440.04,852.01 L440.25,851.91 L440.46,851.82 L440.67,851.73 L440.73,851.70 L440.88,851.64 L441.09,851.56 L441.30,851.47 L441.51,851.40 L441.62,851.36 L441.72,851.32 L441.93,851.25 L442.14,851.17 L442.35,851.10 L442.51,851.05 L442.56,851.03 L442.77,850.96 L442.98,850.89 L443.19,850.82 L443.40,850.75 L443.40,850.75 L443.61,850.68 L443.82,850.62 L444.03,850.55 L444.24,850.49 L444.29,850.47 L444.45,850.42 L444.66,850.36 L444.87,850.30 L445.08,850.23 L445.18,850.21 L445.29,850.17 L445.50,850.11 L445.71,850.06 L445.92,850.00 L446.07,849.96 L446.13,849.94 L446.34,849.89 L446.55,849.83 L446.76,849.78 L446.96,849.73 L446.97,849.72 L447.18,849.67 L447.39,849.62 L447.60,849.57 L447.81,849.52 L447.85,849.51 L448.02,849.48 L448.23,849.43 L448.44,849.38 L448.65,849.34 L448.74,849.32 L448.86,849.30 L449.07,849.25 L449.28,849.21 L449.49,849.17 L449.63,849.15 L449.70,849.13 L450.52,848.99 L451.41,848.85 L452.30,848.74 L453.19,848.62 L454.08,848.52 L454.97,848.42 L455.86,848.33 L456.75,848.25 L457.64,848.17 L458.53,848.11 L459.42,848.06 L460.31,848.01 L461.20,847.98 L462.09,847.95 L462.98,847.93 L463.87,847.91 L464.76,847.90 L465.65,847.90 L466.54,847.92 L467.43,847.95 L468.32,847.99 L469.22,848.04 L470.11,848.10 L471.00,848.17 L471.89,848.24 L472.78,848.32 L473.67,848.39 L474.56,848.46 L475.45,848.54 L476.34,848.61 L477.23,848.70 L478.12,848.79 L479.01,848.89 L479.90,848.99 L480.79,849.09 L481.68,849.21 L482.57,849.32 L483.46,849.44 L484.35,849.56 L485.24,849.69 L486.13,849.82 L487.02,849.95 L487.91,850.08 L488.80,850.22 L489.69,850.36 L490.58,850.49 L491.47,850.63 L492.36,850.77 L493.25,850.92 L494.14,851.07 L495.03,851.23 L495.92,851.39 L496.81,851.56 L497.70,851.73 L498.59,851.91 L499.49,852.08 L500.38,852.27 L501.27,852.45 L502.16,852.63 L503.05,852.82 L503.94,853.00 L504.83,853.19 L505.72,853.37 L506.61,853.56 L507.50,853.74 L508.39,853.92 L509.28,854.10 L510.17,854.27 L511.06,854.45 L511.95,854.64 L512.84,854.82 L513.73,855.00 L514.62,855.19 L515.51,855.37 L516.40,855.56 L517.29,855.74 L518.18,855.93 L519.07,856.11 L519.96,856.29 L520.85,856.47 L521.74,856.65 L522.63,856.83 L523.52,857.00 L524.41,857.17 L525.30,857.34 L526.19,857.51 L527.08,857.68 L527.97,857.84 L528.87,858.00 L529.76,858.16 L530.65,858.31 L531.54,858.47 L532.43,858.62 L533.32,858.77 L534.21,858.92 L535.10,859.08 L535.99,859.23 L536.88,859.37 L537.77,859.52 L538.66,859.67 L539.55,859.82 L540.44,859.97 L541.33,860.12 L542.22,860.27 L543.11,860.42 L544.00,860.57 L544.89,860.73 L545.78,860.88 L546.67,861.04 L547.56,861.19 L548.45,861.35 L549.34,861.51 L550.23,861.68 L551.12,861.84 L552.01,862.01 L552.90,862.19 L553.79,862.37 L554.68,862.55 L555.57,862.72 L556.46,862.89 L557.35,863.05 L558.25,863.22 L559.14,863.39 L560.03,863.56 L560.92,863.74 L561.81,863.91 L562.70,864.07 L563.59,864.24 L564.48,864.41 L565.37,864.57 L566.26,864.72 L567.15,864.88 L568.04,865.02 L568.93,865.16 L569.82,865.30 L570.71,865.42 L571.60,865.54 L572.49,865.65 L573.38,865.75 L574.27,865.85 L575.16,865.95 L576.05,866.05 L576.94,866.15 L577.83,866.24 L578.72,866.33 L579.61,866.43 L580.50,866.52 L581.39,866.60 L582.28,866.69 L583.17,866.78 L584.06,866.86 L584.95,866.94 L585.84,867.03 L586.73,867.10 L587.63,867.18 L588.52,867.26 L589.41,867.33 L590.30,867.40 L591.19,867.48 L592.08,867.54 L592.97,867.61 L593.86,867.68 L594.75,867.74 L595.64,867.80 L596.53,867.86 L597.42,867.92 L598.31,867.98 L599.20,868.03 L600.09,868.08 L600.98,868.13 L601.87,868.18 L602.76,868.23 L603.65,868.27 L604.54,868.31 L605.43,868.35 L606.32,868.39 L607.21,868.42 L608.10,868.46 L608.99,868.49 L609.88,868.53 L610.77,868.56 L611.66,868.59 L612.55,868.63 L613.44,868.66 L614.33,868.69 L615.22,868.72 L616.11,868.75 L617.01,868.78 L617.90,868.81 L618.79,868.84 L619.68,868.87 L620.57,868.89 L621.46,868.92 L622.35,868.95 L623.24,868.97 L624.13,868.99 L625.02,869.02 L625.91,869.04 L626.80,869.06 L627.69,869.08 L628.58,869.11 L629.47,869.12 L630.36,869.14 L631.25,869.16 L632.14,869.18 L633.03,869.20 L633.92,869.21 L634.81,869.23 L635.70,869.24 L636.59,869.25 L637.48,869.27 L638.37,869.28 L639.26,869.29 L640.15,869.30 L641.04,869.31 L641.93,869.32 L642.82,869.33 L643.71,869.33 L644.60,869.34 L645.49,869.35 L646.38,869.36 L647.28,869.37 L648.17,869.38 L649.06,869.38 L649.95,869.39 L650.84,869.40 L651.73,869.41 L652.62,869.42 L653.51,869.42 L654.40,869.43 L655.29,869.44 L656.18,869.45 L657.07,869.45 L657.96,869.46 L658.85,869.47 L659.74,869.47 L660.63,869.48 L661.52,869.49 L662.41,869.49 L663.30,869.50 L664.19,869.50 L665.08,869.51 L665.97,869.52 L666.86,869.52 L667.75,869.53 L668.64,869.53 L669.53,869.54 L670.42,869.54 L671.31,869.55 L672.20,869.55 L673.09,869.56 L673.98,869.56 L674.87,869.56 L675.76,869.57 L676.66,869.57 L677.55,869.57 L678.44,869.58 L679.33,869.58 L680.22,869.58 L681.11,869.59 L682.00,869.59 L682.89,869.59 L683.78,869.59 L684.67,869.59 L685.56,869.60 L686.45,869.60 L687.34,869.60 L688.23,869.60 L689.12,869.60 L690.01,869.60 L690.90,869.60" fill="none" stroke="#ff00ff" stroke-width="0.6" stroke-dasharray="5.8,5" clip-path="url(#c2)"/>
<path d="M422.70,998.00 L422.91,899.68 L423.12,894.86 L423.33,892.53 L423.54,890.89 L423.60,890.33 L423.75,888.70 L423.96,886.63 L424.17,884.91 L424.38,883.67 L424.49,883.11 L424.59,882.66 L424.80,881.76 L425.01,880.97 L425.22,880.29 L425.39,879.79 L425.43,879.68 L425.64,879.14 L425.85,878.65 L426.06,878.20 L426.27,877.77 L426.29,877.74 L426.48,877.37 L426.69,877.00 L426.90,876.65 L427.11,876.32 L427.18,876.21 L427.32,876.01 L427.53,875.72 L427.74,875.44 L427.95,875.19 L428.08,875.03 L428.16,874.94 L428.37,874.71 L428.58,874.49 L428.79,874.27 L428.98,874.09 L429.00,874.07 L429.21,873.87 L429.42,873.68 L429.63,873.49 L429.84,873.32 L429.88,873.29 L430.05,873.14 L430.26,872.98 L430.47,872.82 L430.68,872.66 L430.77,872.59 L430.89,872.50 L431.10,872.35 L431.31,872.20 L431.52,872.05 L431.67,871.95 L431.73,871.91 L431.94,871.76 L432.15,871.62 L432.36,871.47 L432.57,871.33 L432.57,871.32 L432.78,871.17 L432.99,871.02 L433.20,870.87 L433.41,870.72 L433.46,870.68 L433.62,870.56 L433.83,870.41 L434.04,870.25 L434.25,870.10 L434.36,870.02 L434.46,869.95 L434.67,869.79 L434.88,869.64 L435.09,869.49 L435.26,869.38 L435.31,869.34 L435.52,869.20 L435.73,869.05 L435.94,868.90 L436.15,868.75 L436.15,868.75 L436.36,868.61 L436.57,868.46 L436.78,868.32 L436.99,868.17 L437.05,868.13 L437.20,868.03 L437.41,867.89 L437.62,867.74 L437.83,867.60 L437.95,867.52 L438.04,867.46 L438.25,867.32 L438.46,867.18 L438.67,867.04 L438.85,866.92 L438.88,866.90 L439.09,866.76 L439.30,866.62 L439.51,866.49 L439.72,866.35 L439.74,866.33 L439.93,866.21 L440.14,866.08 L440.35,865.94 L440.56,865.80 L440.64,865.75 L440.77,865.67 L440.98,865.53 L441.19,865.40 L441.40,865.27 L441.54,865.18 L441.61,865.13 L441.82,865.00 L442.03,864.87 L442.24,864.73 L442.43,864.61 L442.45,864.60 L442.66,864.47 L442.87,864.34 L443.08,864.21 L443.29,864.08 L443.33,864.05 L443.50,863.94 L443.71,863.81 L443.92,863.68 L444.13,863.56 L444.23,863.49 L444.34,863.43 L444.55,863.30 L444.76,863.17 L444.97,863.04 L445.12,862.95 L445.18,862.91 L445.39,862.79 L445.60,862.66 L445.81,862.53 L446.02,862.41 L446.02,862.41 L446.23,862.28 L446.44,862.16 L446.65,862.03 L446.86,861.91 L446.92,861.87 L447.07,861.78 L447.28,861.66 L447.49,861.54 L447.70,861.41 L447.82,861.35 L448.71,860.83 L449.61,860.32 L450.51,859.81 L451.40,859.32 L452.30,858.83 L453.20,858.35 L454.09,857.87 L454.99,857.41 L455.89,856.95 L456.79,856.50 L457.68,856.05 L458.58,855.61 L459.48,855.18 L460.37,854.76 L461.27,854.34 L462.17,853.94 L463.06,853.54 L463.96,853.15 L464.86,852.77 L465.76,852.39 L466.65,852.01 L467.55,851.63 L468.45,851.25 L469.34,850.88 L470.24,850.50 L471.14,850.13 L472.03,849.77 L472.93,849.40 L473.83,849.03 L474.73,848.67 L475.62,848.31 L476.52,847.95 L477.42,847.58 L478.31,847.22 L479.21,846.86 L480.11,846.49 L481.00,846.13 L481.90,845.76 L482.80,845.39 L483.70,845.02 L484.59,844.64 L485.49,844.26 L486.39,843.88 L487.28,843.49 L488.18,843.10 L489.08,842.71 L489.97,842.32 L490.87,841.93 L491.77,841.54 L492.67,841.15 L493.56,840.76 L494.46,840.38 L495.36,840.00 L496.25,839.62 L497.15,839.25 L498.05,838.89 L498.94,838.53 L499.84,838.18 L500.74,837.83 L501.64,837.49 L502.53,837.15 L503.43,836.80 L504.33,836.46 L505.22,836.13 L506.12,835.79 L507.02,835.46 L507.91,835.13 L508.81,834.81 L509.71,834.49 L510.61,834.18 L511.50,833.87 L512.40,833.57 L513.30,833.28 L514.19,832.99 L515.09,832.71 L515.99,832.45 L516.88,832.19 L517.78,831.94 L518.68,831.69 L519.57,831.45 L520.47,831.21 L521.37,830.98 L522.27,830.75 L523.16,830.52 L524.06,830.30 L524.96,830.08 L525.85,829.87 L526.75,829.66 L527.65,829.46 L528.54,829.26 L529.44,829.07 L530.34,828.89 L531.24,828.72 L532.13,828.55 L533.03,828.38 L533.93,828.23 L534.82,828.08 L535.72,827.94 L536.62,827.80 L537.51,827.67 L538.41,827.55 L539.31,827.43 L540.21,827.31 L541.10,827.20 L542.00,827.09 L542.90,826.98 L543.79,826.87 L544.69,826.77 L545.59,826.67 L546.48,826.56 L547.38,826.46 L548.28,826.36 L549.18,826.26 L550.07,826.15 L550.97,826.05 L551.87,825.94 L552.76,825.83 L553.66,825.71 L554.56,825.60 L555.45,825.48 L556.35,825.35 L557.25,825.22 L558.15,825.07 L559.04,824.93 L559.94,824.77 L560.84,824.62 L561.73,824.46 L562.63,824.30 L563.53,824.14 L564.42,823.98 L565.32,823.82 L566.22,823.67 L567.12,823.52 L568.01,823.38 L568.91,823.25 L569.81,823.13 L570.70,823.02 L571.60,822.92 L572.50,822.83 L573.39,822.76 L574.29,822.69 L575.19,822.62 L576.09,822.56 L576.98,822.50 L577.88,822.44 L578.78,822.38 L579.67,822.32 L580.57,822.27 L581.47,822.21 L582.36,822.16 L583.26,822.11 L584.16,822.07 L585.06,822.02 L585.95,821.97 L586.85,821.93 L587.75,821.89 L588.64,821.85 L589.54,821.80 L590.44,821.76 L591.33,821.73 L592.23,821.69 L593.13,821.65 L594.03,821.61 L594.92,821.58 L595.82,821.54 L596.72,821.50 L597.61,821.47 L598.51,821.43 L599.41,821.40 L600.30,821.36 L601.20,821.32 L602.10,821.29 L602.99,821.25 L603.89,821.22 L604.79,821.18 L605.69,821.14 L606.58,821.10 L607.48,821.06 L608.38,821.02 L609.27,820.98 L610.17,820.95 L611.07,820.91 L611.96,820.87 L612.86,820.83 L613.76,820.80 L614.66,820.76 L615.55,820.72 L616.45,820.68 L617.35,820.65 L618.24,820.61 L619.14,820.58 L620.04,820.54 L620.93,820.51 L621.83,820.47 L622.73,820.44 L623.63,820.40 L624.52,820.37 L625.42,820.33 L626.32,820.30 L627.21,820.27 L628.11,820.23 L629.01,820.20 L629.90,820.17 L630.80,820.13 L631.70,820.10 L632.60,820.07 L633.49,820.04 L634.39,820.00 L635.29,819.97 L636.18,819.94 L637.08,819.91 L637.98,819.88 L638.87,819.85 L639.77,819.82 L640.67,819.79 L641.57,819.76 L642.46,819.73 L643.36,819.70 L644.26,819.67 L645.15,819.64 L646.05,819.61 L646.95,819.58 L647.84,819.55 L648.74,819.52 L649.64,819.49 L650.54,819.46 L651.43,819.43 L652.33,819.40 L653.23,819.37 L654.12,819.34 L655.02,819.32 L655.92,819.29 L656.81,819.26 L657.71,819.23 L658.61,819.20 L659.51,819.18 L660.40,819.15 L661.30,819.12 L662.20,819.09 L663.09,819.07 L663.99,819.04 L664.89,819.01 L665.78,818.98 L666.68,818.96 L667.58,818.93 L668.48,818.90 L669.37,818.88 L670.27,818.85 L671.17,818.83 L672.06,818.80 L672.96,818.77 L673.86,818.75 L674.75,818.72 L675.65,818.70 L676.55,818.67 L677.45,818.65 L678.34,818.62 L679.24,818.60 L680.14,818.58 L681.03,818.55 L681.93,818.53 L682.83,818.50 L683.72,818.48 L684.62,818.46 L685.52,818.43 L686.42,818.41 L687.31,818.39 L688.21,818.37 L689.11,818.34 L690.00,818.32 L690.90,818.30" fill="none" stroke="#000000" stroke-width="0.6" clip-path="url(#c2)"/>
<path d="M425.20,884.00 L425.41,883.41 L425.62,882.84 L425.83,882.32 L426.04,881.88 L426.09,881.79 L426.25,881.52 L426.46,881.23 L426.67,880.96 L426.88,880.73 L426.98,880.62 L427.09,880.51 L427.30,880.30 L427.51,880.11 L427.72,879.93 L427.87,879.80 L427.93,879.74 L428.14,879.55 L428.35,879.36 L428.56,879.17 L428.75,878.99 L428.77,878.98 L428.98,878.79 L429.19,878.61 L429.40,878.43 L429.61,878.25 L429.64,878.22 L429.82,878.07 L430.03,877.89 L430.24,877.72 L430.45,877.55 L430.53,877.48 L430.66,877.38 L430.87,877.21 L431.08,877.05 L431.29,876.88 L431.42,876.78 L431.50,876.72 L431.71,876.56 L431.92,876.40 L432.13,876.25 L432.31,876.12 L432.34,876.09 L432.55,875.94 L432.76,875.78 L432.97,875.63 L433.18,875.48 L433.20,875.47 L433.39,875.33 L433.60,875.19 L433.81,875.04 L434.02,874.90 L434.09,874.85 L434.23,874.75 L434.44,874.61 L434.65,874.47 L434.86,874.33 L434.97,874.26 L435.07,874.19 L435.28,874.05 L435.49,873.92 L435.70,873.78 L435.86,873.68 L435.91,873.65 L436.12,873.51 L436.33,873.38 L436.54,873.25 L436.75,873.12 L436.75,873.12 L436.96,872.99 L437.17,872.86 L437.38,872.73 L437.59,872.60 L437.64,872.57 L437.81,872.47 L438.02,872.35 L438.23,872.22 L438.44,872.10 L438.53,872.04 L438.65,871.97 L438.86,871.85 L439.07,871.72 L439.28,871.60 L439.42,871.51 L439.49,871.47 L439.70,871.35 L439.91,871.23 L440.12,871.11 L440.31,870.99 L440.33,870.98 L440.54,870.86 L440.75,870.74 L440.96,870.62 L441.17,870.49 L441.20,870.48 L441.38,870.37 L441.59,870.25 L441.80,870.13 L442.01,870.01 L442.08,869.96 L442.22,869.88 L442.43,869.76 L442.64,869.64 L442.85,869.52 L442.97,869.45 L443.06,869.40 L443.27,869.28 L443.48,869.16 L443.69,869.04 L443.86,868.95 L443.90,868.93 L444.11,868.81 L444.32,868.69 L444.53,868.57 L444.74,868.45 L444.75,868.45 L444.95,868.34 L445.16,868.22 L445.37,868.10 L445.58,867.99 L445.64,867.95 L445.79,867.87 L446.00,867.76 L446.21,867.64 L446.42,867.53 L446.53,867.47 L446.63,867.41 L446.84,867.30 L447.05,867.18 L447.26,867.07 L447.42,866.99 L447.47,866.96 L447.68,866.84 L447.89,866.73 L448.10,866.62 L448.30,866.51 L448.31,866.51 L448.52,866.40 L448.73,866.28 L448.94,866.17 L449.15,866.06 L449.19,866.04 L449.36,865.95 L449.57,865.84 L449.78,865.73 L449.99,865.63 L450.08,865.58 L450.20,865.52 L450.97,865.12 L451.86,864.67 L452.75,864.22 L453.64,863.77 L454.52,863.33 L455.41,862.89 L456.30,862.46 L457.19,862.04 L458.08,861.63 L458.97,861.24 L459.86,860.86 L460.75,860.50 L461.63,860.17 L462.52,859.84 L463.41,859.54 L464.30,859.24 L465.19,858.94 L466.08,858.66 L466.97,858.37 L467.85,858.08 L468.74,857.79 L469.63,857.51 L470.52,857.22 L471.41,856.95 L472.30,856.67 L473.19,856.40 L474.07,856.13 L474.96,855.86 L475.85,855.59 L476.74,855.32 L477.63,855.05 L478.52,854.78 L479.41,854.50 L480.29,854.23 L481.18,853.95 L482.07,853.66 L482.96,853.38 L483.85,853.08 L484.74,852.79 L485.63,852.49 L486.52,852.18 L487.40,851.88 L488.29,851.57 L489.18,851.26 L490.07,850.94 L490.96,850.63 L491.85,850.31 L492.74,849.99 L493.62,849.68 L494.51,849.36 L495.40,849.04 L496.29,848.72 L497.18,848.40 L498.07,848.09 L498.96,847.77 L499.84,847.46 L500.73,847.15 L501.62,846.83 L502.51,846.51 L503.40,846.19 L504.29,845.86 L505.18,845.54 L506.07,845.21 L506.95,844.88 L507.84,844.55 L508.73,844.23 L509.62,843.91 L510.51,843.59 L511.40,843.28 L512.29,842.97 L513.17,842.67 L514.06,842.37 L514.95,842.09 L515.84,841.81 L516.73,841.54 L517.62,841.28 L518.51,841.03 L519.39,840.78 L520.28,840.54 L521.17,840.30 L522.06,840.07 L522.95,839.84 L523.84,839.62 L524.73,839.40 L525.62,839.18 L526.50,838.96 L527.39,838.75 L528.28,838.54 L529.17,838.33 L530.06,838.13 L530.95,837.92 L531.84,837.72 L532.72,837.51 L533.61,837.31 L534.50,837.11 L535.39,836.91 L536.28,836.71 L537.17,836.52 L538.06,836.33 L538.94,836.14 L539.83,835.95 L540.72,835.76 L541.61,835.58 L542.50,835.40 L543.39,835.22 L544.28,835.03 L545.16,834.85 L546.05,834.67 L546.94,834.49 L547.83,834.31 L548.72,834.13 L549.61,833.95 L550.50,833.77 L551.39,833.58 L552.27,833.40 L553.16,833.21 L554.05,833.02 L554.94,832.83 L555.83,832.64 L556.72,832.44 L557.61,832.23 L558.49,832.02 L559.38,831.79 L560.27,831.57 L561.16,831.34 L562.05,831.11 L562.94,830.88 L563.83,830.65 L564.71,830.42 L565.60,830.20 L566.49,829.98 L567.38,829.77 L568.27,829.57 L569.16,829.37 L570.05,829.19 L570.94,829.02 L571.82,828.87 L572.71,828.73 L573.60,828.60 L574.49,828.48 L575.38,828.36 L576.27,828.24 L577.16,828.12 L578.04,828.01 L578.93,827.90 L579.82,827.80 L580.71,827.69 L581.60,827.59 L582.49,827.49 L583.38,827.40 L584.26,827.30 L585.15,827.21 L586.04,827.12 L586.93,827.03 L587.82,826.95 L588.71,826.86 L589.60,826.78 L590.48,826.70 L591.37,826.62 L592.26,826.54 L593.15,826.46 L594.04,826.39 L594.93,826.31 L595.82,826.24 L596.71,826.17 L597.59,826.10 L598.48,826.02 L599.37,825.95 L600.26,825.89 L601.15,825.82 L602.04,825.75 L602.93,825.68 L603.81,825.61 L604.70,825.54 L605.59,825.48 L606.48,825.41 L607.37,825.34 L608.26,825.27 L609.15,825.21 L610.03,825.14 L610.92,825.08 L611.81,825.01 L612.70,824.95 L613.59,824.89 L614.48,824.82 L615.37,824.76 L616.26,824.70 L617.14,824.64 L618.03,824.58 L618.92,824.52 L619.81,824.46 L620.70,824.41 L621.59,824.35 L622.48,824.29 L623.36,824.24 L624.25,824.18 L625.14,824.13 L626.03,824.07 L626.92,824.02 L627.81,823.97 L628.70,823.91 L629.58,823.86 L630.47,823.81 L631.36,823.76 L632.25,823.71 L633.14,823.66 L634.03,823.62 L634.92,823.57 L635.81,823.52 L636.69,823.48 L637.58,823.43 L638.47,823.39 L639.36,823.35 L640.25,823.30 L641.14,823.26 L642.03,823.22 L642.91,823.18 L643.80,823.13 L644.69,823.09 L645.58,823.05 L646.47,823.01 L647.36,822.97 L648.25,822.93 L649.13,822.89 L650.02,822.85 L650.91,822.81 L651.80,822.77 L652.69,822.73 L653.58,822.69 L654.47,822.65 L655.35,822.61 L656.24,822.57 L657.13,822.54 L658.02,822.50 L658.91,822.46 L659.80,822.42 L660.69,822.39 L661.58,822.35 L662.46,822.32 L663.35,822.28 L664.24,822.25 L665.13,822.21 L666.02,822.18 L666.91,822.14 L667.80,822.11 L668.68,822.08 L669.57,822.04 L670.46,822.01 L671.35,821.98 L672.24,821.95 L673.13,821.92 L674.02,821.88 L674.90,821.85 L675.79,821.82 L676.68,821.80 L677.57,821.77 L678.46,821.74 L679.35,821.71 L680.24,821.68 L681.13,821.66 L682.01,821.63 L682.90,821.61 L683.79,821.58 L684.68,821.56 L685.57,821.53 L686.46,821.51 L687.35,821.49 L688.23,821.46 L689.12,821.44 L690.01,821.42 L690.90,821.40" fill="none" stroke="#000000" stroke-width="0.6" stroke-dasharray="5.8,5" clip-path="url(#c2)"/>
<path d="M425.30,997.80 L425.51,992.39 L425.72,987.32 L425.93,982.93 L426.14,979.53 L426.19,978.86 L426.35,976.75 L426.56,974.27 L426.77,972.06 L426.98,970.04 L427.08,969.18 L427.19,968.19 L427.40,966.43 L427.61,964.73 L427.82,963.03 L427.96,961.86 L428.03,961.33 L428.24,959.65 L428.45,958.01 L428.66,956.40 L428.85,954.98 L428.87,954.85 L429.08,953.35 L429.29,951.93 L429.50,950.58 L429.71,949.31 L429.74,949.14 L429.92,948.14 L430.13,947.07 L430.34,946.12 L430.55,945.24 L430.63,944.93 L430.76,944.42 L430.97,943.65 L431.18,942.93 L431.39,942.25 L431.52,941.86 L431.60,941.60 L431.81,940.97 L432.02,940.37 L432.23,939.77 L432.41,939.29 L432.44,939.19 L432.65,938.60 L432.86,938.01 L433.07,937.40 L433.28,936.81 L433.29,936.77 L433.49,936.21 L433.70,935.62 L433.91,935.03 L434.12,934.45 L434.18,934.29 L434.33,933.88 L434.54,933.33 L434.75,932.78 L434.96,932.25 L435.07,931.99 L435.17,931.74 L435.38,931.24 L435.59,930.76 L435.80,930.30 L435.96,929.98 L436.01,929.87 L436.22,929.45 L436.43,929.06 L436.64,928.67 L436.85,928.30 L436.85,928.29 L437.06,927.92 L437.27,927.55 L437.48,927.20 L437.69,926.85 L437.74,926.78 L437.91,926.51 L438.12,926.18 L438.33,925.85 L438.54,925.53 L438.62,925.40 L438.75,925.22 L438.96,924.91 L439.17,924.61 L439.38,924.32 L439.51,924.13 L439.59,924.03 L439.80,923.75 L440.01,923.48 L440.22,923.21 L440.40,922.98 L440.43,922.94 L440.64,922.69 L440.85,922.43 L441.06,922.18 L441.27,921.94 L441.29,921.91 L441.48,921.70 L441.69,921.46 L441.90,921.23 L442.11,920.99 L442.18,920.92 L442.32,920.76 L442.53,920.54 L442.74,920.31 L442.95,920.09 L443.07,919.97 L443.16,919.87 L443.37,919.66 L443.58,919.44 L443.79,919.23 L443.95,919.07 L444.00,919.02 L444.21,918.82 L444.42,918.62 L444.63,918.42 L444.84,918.22 L444.84,918.21 L445.05,918.02 L445.26,917.83 L445.47,917.64 L445.68,917.45 L445.73,917.40 L445.89,917.26 L446.10,917.08 L446.31,916.90 L446.52,916.72 L446.62,916.64 L446.73,916.55 L446.94,916.37 L447.15,916.20 L447.36,916.03 L447.51,915.91 L447.57,915.86 L447.78,915.70 L447.99,915.54 L448.20,915.38 L448.40,915.23 L448.41,915.22 L448.62,915.06 L448.83,914.91 L449.04,914.76 L449.25,914.61 L449.28,914.59 L449.46,914.47 L449.67,914.32 L449.88,914.18 L450.09,914.04 L450.17,913.98 L450.30,913.90 L451.06,913.41 L451.95,912.85 L452.84,912.33 L453.73,911.82 L454.61,911.34 L455.50,910.87 L456.39,910.42 L457.28,909.98 L458.17,909.56 L459.06,909.14 L459.94,908.74 L460.83,908.34 L461.72,907.94 L462.61,907.53 L463.50,907.13 L464.38,906.72 L465.27,906.33 L466.16,905.95 L467.05,905.59 L467.94,905.26 L468.83,904.95 L469.71,904.67 L470.60,904.44 L471.49,904.24 L472.38,904.08 L473.27,903.92 L474.16,903.76 L475.04,903.61 L475.93,903.47 L476.82,903.34 L477.71,903.22 L478.60,903.11 L479.49,903.01 L480.37,902.93 L481.26,902.87 L482.15,902.83 L483.04,902.80 L483.93,902.80 L484.82,902.83 L485.70,902.87 L486.59,902.94 L487.48,903.02 L488.37,903.12 L489.26,903.23 L490.15,903.34 L491.03,903.47 L491.92,903.60 L492.81,903.73 L493.70,903.87 L494.59,904.00 L495.48,904.12 L496.36,904.24 L497.25,904.35 L498.14,904.44 L499.03,904.63 L499.92,905.02 L500.81,905.37 L501.69,905.71 L502.58,906.06 L503.47,906.41 L504.36,906.76 L505.25,907.11 L506.13,907.45 L507.02,907.80 L507.91,908.15 L508.80,908.50 L509.69,908.85 L510.58,909.20 L511.46,909.54 L512.35,909.89 L513.24,910.24 L514.13,910.59 L515.02,910.94 L515.91,911.29 L516.79,911.64 L517.68,911.99 L518.57,912.34 L519.46,912.69 L520.35,913.05 L521.24,913.40 L522.12,913.75 L523.01,914.11 L523.90,914.46 L524.79,914.82 L525.68,915.17 L526.57,915.52 L527.45,915.88 L528.34,916.23 L529.23,916.58 L530.12,916.93 L531.01,917.29 L531.90,917.64 L532.78,917.98 L533.67,918.33 L534.56,918.68 L535.45,919.02 L536.34,919.37 L537.23,919.71 L538.11,920.05 L539.00,920.39 L539.89,920.73 L540.78,921.07 L541.67,921.41 L542.55,921.74 L543.44,922.08 L544.33,922.42 L545.22,922.76 L546.11,923.09 L547.00,923.43 L547.88,923.77 L548.77,924.11 L549.66,924.45 L550.55,924.79 L551.44,925.13 L552.33,925.47 L553.21,925.81 L554.10,926.16 L554.99,926.50 L555.88,926.85 L556.77,927.20 L557.66,927.56 L558.54,927.92 L559.43,928.28 L560.32,928.64 L561.21,929.00 L562.10,929.37 L562.99,929.73 L563.87,930.10 L564.76,930.47 L565.65,930.83 L566.54,931.19 L567.43,931.56 L568.32,931.91 L569.20,932.27 L570.09,932.62 L570.98,932.97 L571.87,933.31 L572.76,933.65 L573.65,933.98 L574.53,934.31 L575.42,934.64 L576.31,934.96 L577.20,935.28 L578.09,935.60 L578.97,935.92 L579.86,936.23 L580.75,936.55 L581.64,936.86 L582.53,937.17 L583.42,937.48 L584.30,937.78 L585.19,938.08 L586.08,938.39 L586.97,938.69 L587.86,938.99 L588.75,939.28 L589.63,939.58 L590.52,939.87 L591.41,940.17 L592.30,940.47 L593.19,940.77 L594.08,941.07 L594.96,941.38 L595.85,941.68 L596.74,941.98 L597.63,942.28 L598.52,942.59 L599.41,942.89 L600.29,943.18 L601.18,943.48 L602.07,943.77 L602.96,944.06 L603.85,944.35 L604.74,944.63 L605.62,944.91 L606.51,945.18 L607.40,945.45 L608.29,945.72 L609.18,945.98 L610.07,946.23 L610.95,946.47 L611.84,946.71 L612.73,946.94 L613.62,947.17 L614.51,947.38 L615.39,947.59 L616.28,947.79 L617.17,947.99 L618.06,948.19 L618.95,948.38 L619.84,948.57 L620.72,948.76 L621.61,948.94 L622.50,949.12 L623.39,949.30 L624.28,949.47 L625.17,949.64 L626.05,949.81 L626.94,949.97 L627.83,950.13 L628.72,950.29 L629.61,950.45 L630.50,950.61 L631.38,950.76 L632.27,950.91 L633.16,951.06 L634.05,951.21 L634.94,951.35 L635.83,951.50 L636.71,951.64 L637.60,951.78 L638.49,951.92 L639.38,952.06 L640.27,952.19 L641.16,952.33 L642.04,952.46 L642.93,952.59 L643.82,952.72 L644.71,952.84 L645.60,952.96 L646.49,953.08 L647.37,953.20 L648.26,953.31 L649.15,953.43 L650.04,953.54 L650.93,953.66 L651.82,953.77 L652.70,953.88 L653.59,953.99 L654.48,954.10 L655.37,954.21 L656.26,954.32 L657.14,954.43 L658.03,954.55 L658.92,954.66 L659.81,954.77 L660.70,954.89 L661.59,955.02 L662.47,955.10 L663.36,955.12 L664.25,955.13 L665.14,955.15 L666.03,955.17 L666.92,955.18 L667.80,955.20 L668.69,955.21 L669.58,955.23 L670.47,955.24 L671.36,955.26 L672.25,955.27 L673.13,955.29 L674.02,955.30 L674.91,955.32 L675.80,955.34 L676.69,955.35 L677.58,955.37 L678.46,955.38 L679.35,955.40 L680.24,955.41 L681.13,955.43 L682.02,955.44 L682.91,955.46 L683.79,955.48 L684.68,955.49 L685.57,955.51 L686.46,955.52 L687.35,955.54 L688.24,955.55 L689.12,955.57 L690.01,955.58 L690.90,955.60" fill="none" stroke="#ff0000" stroke-width="0.6" clip-path="url(#c2)"/>
<path d="M424.40,997.80 L424.61,994.63 L424.82,991.54 L425.03,988.58 L425.24,985.77 L425.29,985.12 L425.45,983.16 L425.66,980.78 L425.87,978.67 L426.08,976.85 L426.18,976.07 L426.29,975.27 L426.50,973.79 L426.71,972.41 L426.92,971.11 L427.07,970.22 L427.13,969.89 L427.34,968.76 L427.55,967.69 L427.76,966.68 L427.97,965.76 L427.97,965.74 L428.18,964.85 L428.39,964.00 L428.60,963.19 L428.81,962.42 L428.86,962.25 L429.02,961.66 L429.23,960.92 L429.44,960.20 L429.65,959.50 L429.75,959.19 L429.86,958.83 L430.07,958.17 L430.28,957.53 L430.49,956.92 L430.64,956.50 L430.70,956.32 L430.91,955.75 L431.12,955.19 L431.33,954.66 L431.53,954.18 L431.54,954.15 L431.75,953.67 L431.96,953.20 L432.17,952.76 L432.38,952.34 L432.42,952.26 L432.59,951.94 L432.80,951.56 L433.01,951.21 L433.22,950.87 L433.31,950.73 L433.43,950.54 L433.64,950.21 L433.85,949.90 L434.06,949.60 L434.20,949.40 L434.27,949.31 L434.48,949.02 L434.69,948.75 L434.90,948.49 L435.10,948.26 L435.11,948.23 L435.32,947.99 L435.53,947.76 L435.74,947.53 L435.95,947.31 L435.99,947.28 L436.16,947.11 L436.37,946.91 L436.58,946.72 L436.79,946.54 L436.88,946.48 L437.01,946.37 L437.22,946.21 L437.43,946.05 L437.64,945.90 L437.77,945.80 L437.85,945.75 L438.06,945.60 L438.27,945.45 L438.48,945.31 L438.66,945.19 L438.69,945.17 L438.90,945.03 L439.11,944.90 L439.32,944.76 L439.53,944.63 L439.55,944.62 L439.74,944.51 L439.95,944.38 L440.16,944.26 L440.37,944.14 L440.44,944.09 L440.58,944.02 L440.79,943.90 L441.00,943.79 L441.21,943.68 L441.33,943.61 L441.42,943.57 L441.63,943.46 L441.84,943.35 L442.05,943.25 L442.23,943.16 L442.26,943.14 L442.47,943.04 L442.68,942.94 L442.89,942.84 L443.10,942.74 L443.12,942.73 L443.31,942.64 L443.52,942.55 L443.73,942.45 L443.94,942.36 L444.01,942.33 L444.15,942.27 L444.36,942.17 L444.57,942.08 L444.78,941.99 L444.90,941.94 L444.99,941.90 L445.20,941.81 L445.41,941.72 L445.62,941.64 L445.79,941.56 L445.83,941.55 L446.04,941.46 L446.25,941.37 L446.46,941.28 L446.67,941.20 L446.68,941.19 L446.88,941.11 L447.09,941.02 L447.30,940.94 L447.51,940.85 L447.57,940.82 L447.72,940.76 L447.93,940.67 L448.14,940.58 L448.35,940.49 L448.47,940.44 L448.56,940.40 L448.77,940.31 L448.98,940.22 L449.19,940.13 L449.36,940.05 L449.40,940.03 L450.25,939.65 L451.14,939.25 L452.03,938.85 L452.92,938.46 L453.81,938.07 L454.70,937.69 L455.60,937.32 L456.49,936.95 L457.38,936.60 L458.27,936.26 L459.16,935.93 L460.05,935.62 L460.94,935.32 L461.83,935.03 L462.73,934.75 L463.62,934.47 L464.51,934.20 L465.40,933.93 L466.29,933.68 L467.18,933.42 L468.07,933.18 L468.97,932.94 L469.86,932.71 L470.75,932.48 L471.64,932.26 L472.53,932.05 L473.42,931.85 L474.31,931.65 L475.20,931.46 L476.10,931.27 L476.99,931.08 L477.88,930.89 L478.77,930.70 L479.66,930.51 L480.55,930.33 L481.44,930.15 L482.33,929.97 L483.23,929.80 L484.12,929.64 L485.01,929.48 L485.90,929.33 L486.79,929.19 L487.68,929.06 L488.57,928.94 L489.47,928.83 L490.36,928.74 L491.25,928.65 L492.14,928.58 L493.03,928.52 L493.92,928.45 L494.81,928.39 L495.70,928.33 L496.60,928.27 L497.49,928.21 L498.38,928.15 L499.27,928.10 L500.16,928.05 L501.05,928.01 L501.94,927.97 L502.83,927.93 L503.73,927.89 L504.62,927.86 L505.51,927.84 L506.40,927.82 L507.29,927.81 L508.18,927.80 L509.07,927.80 L509.97,927.81 L510.86,927.83 L511.75,927.86 L512.64,927.89 L513.53,927.94 L514.42,927.99 L515.31,928.05 L516.20,928.12 L517.10,928.19 L517.99,928.26 L518.88,928.34 L519.77,928.43 L520.66,928.51 L521.55,928.60 L522.44,928.69 L523.33,928.78 L524.23,928.87 L525.12,928.95 L526.01,929.04 L526.90,929.13 L527.79,929.24 L528.68,929.35 L529.57,929.46 L530.47,929.58 L531.36,929.71 L532.25,929.85 L533.14,929.98 L534.03,930.12 L534.92,930.27 L535.81,930.41 L536.70,930.56 L537.60,930.70 L538.49,930.85 L539.38,931.00 L540.27,931.14 L541.16,931.29 L542.05,931.43 L542.94,931.57 L543.83,931.71 L544.73,931.85 L545.62,931.98 L546.51,932.12 L547.40,932.26 L548.29,932.41 L549.18,932.55 L550.07,932.69 L550.97,932.84 L551.86,932.99 L552.75,933.13 L553.64,933.29 L554.53,933.44 L555.42,933.60 L556.31,933.76 L557.20,933.92 L558.10,934.09 L558.99,934.26 L559.88,934.44 L560.77,934.62 L561.66,934.80 L562.55,934.98 L563.44,935.17 L564.33,935.36 L565.23,935.54 L566.12,935.73 L567.01,935.92 L567.90,936.10 L568.79,936.29 L569.68,936.47 L570.57,936.65 L571.47,936.82 L572.36,937.00 L573.25,937.17 L574.14,937.33 L575.03,937.50 L575.92,937.66 L576.81,937.82 L577.70,937.98 L578.60,938.14 L579.49,938.30 L580.38,938.46 L581.27,938.62 L582.16,938.77 L583.05,938.93 L583.94,939.09 L584.83,939.24 L585.73,939.40 L586.62,939.56 L587.51,939.71 L588.40,939.87 L589.29,940.03 L590.18,940.19 L591.07,940.35 L591.97,940.51 L592.86,940.67 L593.75,940.83 L594.64,941.00 L595.53,941.16 L596.42,941.33 L597.31,941.50 L598.20,941.66 L599.10,941.83 L599.99,941.99 L600.88,942.16 L601.77,942.32 L602.66,942.49 L603.55,942.65 L604.44,942.81 L605.33,942.97 L606.23,943.13 L607.12,943.29 L608.01,943.45 L608.90,943.60 L609.79,943.76 L610.68,943.91 L611.57,944.05 L612.47,944.20 L613.36,944.34 L614.25,944.48 L615.14,944.62 L616.03,944.76 L616.92,944.89 L617.81,945.03 L618.70,945.16 L619.60,945.30 L620.49,945.43 L621.38,945.57 L622.27,945.70 L623.16,945.83 L624.05,945.96 L624.94,946.09 L625.83,946.21 L626.73,946.34 L627.62,946.46 L628.51,946.59 L629.40,946.71 L630.29,946.83 L631.18,946.94 L632.07,947.06 L632.97,947.17 L633.86,947.28 L634.75,947.39 L635.64,947.49 L636.53,947.60 L637.42,947.70 L638.31,947.79 L639.20,947.89 L640.10,947.98 L640.99,948.07 L641.88,948.15 L642.77,948.24 L643.66,948.32 L644.55,948.41 L645.44,948.49 L646.33,948.57 L647.23,948.65 L648.12,948.72 L649.01,948.80 L649.90,948.87 L650.79,948.95 L651.68,949.02 L652.57,949.09 L653.47,949.16 L654.36,949.23 L655.25,949.29 L656.14,949.36 L657.03,949.42 L657.92,949.49 L658.81,949.55 L659.70,949.61 L660.60,949.67 L661.49,949.73 L662.38,949.79 L663.27,949.85 L664.16,949.91 L665.05,949.97 L665.94,950.02 L666.83,950.08 L667.73,950.13 L668.62,950.18 L669.51,950.24 L670.40,950.29 L671.29,950.34 L672.18,950.40 L673.07,950.45 L673.97,950.50 L674.86,950.55 L675.75,950.59 L676.64,950.64 L677.53,950.69 L678.42,950.74 L679.31,950.78 L680.20,950.83 L681.10,950.87 L681.99,950.92 L682.88,950.96 L683.77,951.00 L684.66,951.04 L685.55,951.08 L686.44,951.12 L687.33,951.16 L688.23,951.19 L689.12,951.23 L690.01,951.27 L690.90,951.30" fill="none" stroke="#ff0000" stroke-width="0.6" stroke-dasharray="5.8,5" clip-path="url(#c2)"/>
<path d="M422.70,996.90 L422.91,992.30 L423.12,988.02 L423.33,984.18 L423.54,980.91 L423.60,980.14 L423.75,978.16 L423.96,975.60 L424.17,973.26 L424.38,971.22 L424.49,970.26 L424.59,969.54 L424.80,968.30 L425.01,967.33 L425.22,966.45 L425.39,965.79 L425.43,965.64 L425.64,964.90 L425.85,964.23 L426.06,963.60 L426.27,963.03 L426.29,962.99 L426.48,962.50 L426.69,962.01 L426.90,961.55 L427.11,961.11 L427.18,960.97 L427.32,960.70 L427.53,960.30 L427.74,959.91 L427.95,959.52 L428.08,959.29 L428.16,959.15 L428.37,958.79 L428.58,958.44 L428.79,958.10 L428.98,957.81 L429.00,957.78 L429.21,957.46 L429.42,957.16 L429.63,956.86 L429.84,956.58 L429.88,956.53 L430.05,956.30 L430.26,956.03 L430.47,955.77 L430.68,955.51 L430.77,955.40 L430.89,955.26 L431.10,955.02 L431.31,954.78 L431.52,954.55 L431.67,954.39 L431.73,954.32 L431.94,954.09 L432.15,953.87 L432.36,953.65 L432.57,953.44 L432.57,953.43 L432.78,953.22 L432.99,953.00 L433.20,952.79 L433.41,952.58 L433.46,952.54 L433.62,952.38 L433.83,952.18 L434.04,951.98 L434.25,951.78 L434.36,951.68 L434.46,951.58 L434.67,951.39 L434.88,951.20 L435.09,951.02 L435.26,950.87 L435.31,950.83 L435.52,950.65 L435.73,950.47 L435.94,950.29 L436.15,950.12 L436.15,950.11 L436.36,949.95 L436.57,949.77 L436.78,949.61 L436.99,949.44 L437.05,949.39 L437.20,949.27 L437.41,949.11 L437.62,948.95 L437.83,948.79 L437.95,948.69 L438.04,948.63 L438.25,948.47 L438.46,948.31 L438.67,948.16 L438.85,948.03 L438.88,948.00 L439.09,947.85 L439.30,947.70 L439.51,947.55 L439.72,947.40 L439.74,947.38 L439.93,947.25 L440.14,947.11 L440.35,946.96 L440.56,946.81 L440.64,946.76 L440.77,946.67 L440.98,946.52 L441.19,946.38 L441.40,946.23 L441.54,946.14 L441.61,946.09 L441.82,945.95 L442.03,945.81 L442.24,945.67 L442.43,945.55 L442.45,945.54 L442.66,945.40 L442.87,945.27 L443.08,945.14 L443.29,945.01 L443.33,944.98 L443.50,944.88 L443.71,944.75 L443.92,944.63 L444.13,944.50 L444.23,944.44 L444.34,944.37 L444.55,944.25 L444.76,944.13 L444.97,944.00 L445.12,943.91 L445.18,943.88 L445.39,943.76 L445.60,943.64 L445.81,943.52 L446.02,943.40 L446.02,943.40 L446.23,943.28 L446.44,943.16 L446.65,943.04 L446.86,942.92 L446.92,942.89 L447.07,942.81 L447.28,942.69 L447.49,942.57 L447.70,942.45 L447.82,942.38 L448.71,941.87 L449.61,941.35 L450.51,940.83 L451.40,940.30 L452.30,939.78 L453.20,939.26 L454.09,938.73 L454.99,938.21 L455.89,937.69 L456.79,937.17 L457.68,936.65 L458.58,936.13 L459.48,935.61 L460.37,935.11 L461.27,934.43 L462.17,933.61 L463.06,932.82 L463.96,932.03 L464.86,931.25 L465.76,930.46 L466.65,929.67 L467.55,928.89 L468.45,928.10 L469.34,927.30 L470.24,926.51 L471.14,925.71 L472.03,924.90 L472.93,924.09 L473.83,923.28 L474.73,922.46 L475.62,921.65 L476.52,920.83 L477.42,920.01 L478.31,919.18 L479.21,918.35 L480.11,917.51 L481.00,916.67 L481.90,915.82 L482.80,914.97 L483.70,914.11 L484.59,913.24 L485.49,912.34 L486.39,911.43 L487.28,910.51 L488.18,909.59 L489.08,908.66 L489.97,907.74 L490.87,906.82 L491.77,905.91 L492.67,905.01 L493.56,904.14 L494.46,903.28 L495.36,902.45 L496.25,901.63 L497.15,900.83 L498.05,900.03 L498.94,899.24 L499.84,898.46 L500.74,897.70 L501.64,896.95 L502.53,896.21 L503.43,895.50 L504.33,894.80 L505.22,894.13 L506.12,893.48 L507.02,892.85 L507.91,892.24 L508.81,891.64 L509.71,891.06 L510.61,890.49 L511.50,889.93 L512.40,889.37 L513.30,888.82 L514.19,888.27 L515.09,887.72 L515.99,887.16 L516.88,886.59 L517.78,886.02 L518.68,885.42 L519.57,885.04 L520.47,884.72 L521.37,884.39 L522.27,884.05 L523.16,883.71 L524.06,883.36 L524.96,883.02 L525.85,882.67 L526.75,882.33 L527.65,881.99 L528.54,881.65 L529.44,881.32 L530.34,880.99 L531.24,880.67 L532.13,880.36 L533.03,880.05 L533.93,879.76 L534.82,879.47 L535.72,879.18 L536.62,878.89 L537.51,878.60 L538.41,878.32 L539.31,878.04 L540.21,877.77 L541.10,877.51 L542.00,877.26 L542.90,877.02 L543.79,876.79 L544.69,876.57 L545.59,876.37 L546.48,876.18 L547.38,876.00 L548.28,875.83 L549.18,875.67 L550.07,875.51 L550.97,875.36 L551.87,875.21 L552.76,875.07 L553.66,874.94 L554.56,874.81 L555.45,874.68 L556.35,874.55 L557.25,874.42 L558.15,874.30 L559.04,874.17 L559.94,874.05 L560.84,873.92 L561.73,873.80 L562.63,873.68 L563.53,873.56 L564.42,873.45 L565.32,873.34 L566.22,873.23 L567.12,873.13 L568.01,873.03 L568.91,872.94 L569.81,872.85 L570.70,872.77 L571.60,872.70 L572.50,872.63 L573.39,872.57 L574.29,872.51 L575.19,872.45 L576.09,872.40 L576.98,872.34 L577.88,872.29 L578.78,872.24 L579.67,872.20 L580.57,872.15 L581.47,872.11 L582.36,872.07 L583.26,872.03 L584.16,871.99 L585.06,871.96 L585.95,871.92 L586.85,871.89 L587.75,871.86 L588.64,871.83 L589.54,871.80 L590.44,871.78 L591.33,871.75 L592.23,871.73 L593.13,871.70 L594.03,871.68 L594.92,871.65 L595.82,871.63 L596.72,871.60 L597.61,871.58 L598.51,871.55 L599.41,871.53 L600.30,871.51 L601.20,871.49 L602.10,871.46 L602.99,871.44 L603.89,871.43 L604.79,871.41 L605.69,871.39 L606.58,871.38 L607.48,871.36 L608.38,871.35 L609.27,871.34 L610.17,871.33 L611.07,871.32 L611.96,871.31 L612.86,871.31 L613.76,871.30 L614.66,871.30 L615.55,871.30 L616.45,871.30 L617.35,871.30 L618.24,871.31 L619.14,871.31 L620.04,871.32 L620.93,871.32 L621.83,871.33 L622.73,871.34 L623.63,871.35 L624.52,871.36 L625.42,871.37 L626.32,871.38 L627.21,871.39 L628.11,871.41 L629.01,871.42 L629.90,871.43 L630.80,871.45 L631.70,871.46 L632.60,871.47 L633.49,871.49 L634.39,871.50 L635.29,871.52 L636.18,871.53 L637.08,871.55 L637.98,871.56 L638.87,871.58 L639.77,871.59 L640.67,871.61 L641.57,871.62 L642.46,871.64 L643.36,871.65 L644.26,871.67 L645.15,871.68 L646.05,871.70 L646.95,871.72 L647.84,871.74 L648.74,871.76 L649.64,871.78 L650.54,871.79 L651.43,871.81 L652.33,871.84 L653.23,871.86 L654.12,871.88 L655.02,871.90 L655.92,871.92 L656.81,871.95 L657.71,871.97 L658.61,871.99 L659.51,872.02 L660.40,872.04 L661.30,872.07 L662.20,872.10 L663.09,872.12 L663.99,872.15 L664.89,872.18 L665.78,872.21 L666.68,872.24 L667.58,872.27 L668.48,872.30 L669.37,872.33 L670.27,872.36 L671.17,872.39 L672.06,872.42 L672.96,872.46 L673.86,872.49 L674.75,872.53 L675.65,872.56 L676.55,872.60 L677.45,872.65 L678.34,872.69 L679.24,872.74 L680.14,872.79 L681.03,872.84 L681.93,872.90 L682.83,872.95 L683.72,873.01 L684.62,873.07 L685.52,873.13 L686.42,873.19 L687.31,873.25 L688.21,873.31 L689.11,873.37 L690.00,873.44 L690.90,873.50" fill="none" stroke="#00ff00" stroke-width="0.6" clip-path="url(#c2)"/>
<path d="M424.40,976.70 L424.61,975.21 L424.82,973.68 L425.03,972.16 L425.24,970.71 L425.29,970.37 L425.45,969.38 L425.66,968.22 L425.87,967.29 L426.08,966.64 L426.18,966.42 L426.29,966.19 L426.50,965.77 L426.71,965.36 L426.92,964.98 L427.07,964.71 L427.13,964.62 L427.34,964.27 L427.55,963.95 L427.76,963.64 L427.97,963.35 L427.97,963.34 L428.18,963.07 L428.39,962.80 L428.60,962.56 L428.81,962.32 L428.86,962.27 L429.02,962.09 L429.23,961.88 L429.44,961.68 L429.65,961.48 L429.75,961.40 L429.86,961.30 L430.07,961.12 L430.28,960.95 L430.49,960.78 L430.64,960.67 L430.70,960.62 L430.91,960.46 L431.12,960.31 L431.33,960.16 L431.53,960.02 L431.54,960.01 L431.75,959.86 L431.96,959.70 L432.17,959.55 L432.38,959.40 L432.42,959.37 L432.59,959.24 L432.80,959.08 L433.01,958.91 L433.22,958.75 L433.31,958.68 L433.43,958.59 L433.64,958.43 L433.85,958.27 L434.06,958.12 L434.20,958.02 L434.27,957.97 L434.48,957.83 L434.69,957.68 L434.90,957.54 L435.10,957.42 L435.11,957.40 L435.32,957.27 L435.53,957.13 L435.74,957.00 L435.95,956.87 L435.99,956.85 L436.16,956.74 L436.37,956.62 L436.58,956.49 L436.79,956.37 L436.88,956.32 L437.01,956.25 L437.22,956.12 L437.43,956.01 L437.64,955.89 L437.77,955.81 L437.85,955.77 L438.06,955.65 L438.27,955.54 L438.48,955.42 L438.66,955.32 L438.69,955.31 L438.90,955.20 L439.11,955.08 L439.32,954.97 L439.53,954.86 L439.55,954.84 L439.74,954.74 L439.95,954.63 L440.16,954.52 L440.37,954.41 L440.44,954.36 L440.58,954.29 L440.79,954.18 L441.00,954.07 L441.21,953.95 L441.33,953.88 L441.42,953.84 L441.63,953.72 L441.84,953.61 L442.05,953.50 L442.23,953.40 L442.26,953.38 L442.47,953.27 L442.68,953.16 L442.89,953.05 L443.10,952.94 L443.12,952.93 L443.31,952.83 L443.52,952.73 L443.73,952.62 L443.94,952.51 L444.01,952.47 L444.15,952.40 L444.36,952.30 L444.57,952.19 L444.78,952.09 L444.90,952.03 L444.99,951.98 L445.20,951.88 L445.41,951.78 L445.62,951.67 L445.79,951.59 L445.83,951.57 L446.04,951.47 L446.25,951.36 L446.46,951.26 L446.67,951.16 L446.68,951.15 L446.88,951.06 L447.09,950.96 L447.30,950.85 L447.51,950.75 L447.57,950.72 L447.72,950.65 L447.93,950.55 L448.14,950.45 L448.35,950.35 L448.47,950.29 L448.56,950.25 L448.77,950.15 L448.98,950.05 L449.19,949.95 L449.36,949.87 L449.40,949.84 L450.25,949.44 L451.14,949.02 L452.03,948.60 L452.92,948.19 L453.81,947.79 L454.70,947.39 L455.60,946.98 L456.49,946.58 L457.38,946.17 L458.27,945.76 L459.16,945.34 L460.05,944.92 L460.94,944.48 L461.83,944.04 L462.73,943.60 L463.62,943.15 L464.51,942.70 L465.40,942.24 L466.29,941.78 L467.18,941.32 L468.07,940.86 L468.97,940.39 L469.86,939.91 L470.75,939.43 L471.64,938.95 L472.53,938.47 L473.42,937.98 L474.31,937.48 L475.20,936.99 L476.10,936.48 L476.99,935.97 L477.88,935.46 L478.77,934.94 L479.66,934.41 L480.55,933.88 L481.44,933.35 L482.33,932.81 L483.23,932.27 L484.12,931.73 L485.01,931.18 L485.90,930.63 L486.79,930.08 L487.68,929.53 L488.57,928.97 L489.47,928.42 L490.36,927.86 L491.25,927.31 L492.14,926.75 L493.03,926.19 L493.92,925.63 L494.81,925.07 L495.70,924.50 L496.60,923.93 L497.49,923.36 L498.38,922.78 L499.27,922.21 L500.16,921.63 L501.05,921.05 L501.94,920.47 L502.83,919.89 L503.73,919.31 L504.62,918.73 L505.51,918.14 L506.40,917.56 L507.29,916.98 L508.18,916.40 L509.07,915.82 L509.97,915.24 L510.86,914.65 L511.75,914.06 L512.64,913.46 L513.53,912.86 L514.42,912.26 L515.31,911.66 L516.20,911.06 L517.10,910.46 L517.99,909.87 L518.88,909.27 L519.77,908.68 L520.66,908.10 L521.55,907.52 L522.44,906.95 L523.33,906.39 L524.23,905.83 L525.12,905.29 L526.01,904.76 L526.90,904.22 L527.79,903.69 L528.68,903.15 L529.57,902.62 L530.47,902.10 L531.36,901.57 L532.25,901.06 L533.14,900.55 L534.03,900.04 L534.92,899.55 L535.81,899.07 L536.70,898.60 L537.60,898.14 L538.49,897.69 L539.38,897.26 L540.27,896.84 L541.16,896.44 L542.05,896.03 L542.94,895.61 L543.83,895.19 L544.73,894.78 L545.62,894.37 L546.51,893.99 L547.40,893.63 L548.29,893.30 L549.18,893.00 L550.07,892.75 L550.97,892.54 L551.86,892.39 L552.75,892.29 L553.64,892.22 L554.53,892.15 L555.42,892.07 L556.31,891.96 L557.20,891.80 L558.10,891.61 L558.99,891.38 L559.88,891.13 L560.77,890.85 L561.66,890.54 L562.55,890.22 L563.44,889.89 L564.33,889.54 L565.23,889.19 L566.12,888.84 L567.01,888.49 L567.90,888.14 L568.79,887.80 L569.68,887.48 L570.57,887.18 L571.47,886.90 L572.36,886.64 L573.25,886.41 L574.14,886.20 L575.03,885.98 L575.92,885.77 L576.81,885.57 L577.70,885.37 L578.60,885.17 L579.49,884.98 L580.38,884.79 L581.27,884.61 L582.16,884.43 L583.05,884.26 L583.94,884.09 L584.83,883.92 L585.73,883.76 L586.62,883.61 L587.51,883.45 L588.40,883.31 L589.29,883.16 L590.18,883.03 L591.07,882.89 L591.97,882.75 L592.86,882.61 L593.75,882.48 L594.64,882.34 L595.53,882.21 L596.42,882.08 L597.31,881.95 L598.20,881.82 L599.10,881.70 L599.99,881.58 L600.88,881.46 L601.77,881.34 L602.66,881.22 L603.55,881.11 L604.44,881.00 L605.33,880.89 L606.23,880.79 L607.12,880.69 L608.01,880.60 L608.90,880.51 L609.79,880.42 L610.68,880.34 L611.57,880.26 L612.47,880.18 L613.36,880.11 L614.25,880.05 L615.14,879.99 L616.03,879.93 L616.92,879.88 L617.81,879.83 L618.70,879.78 L619.60,879.73 L620.49,879.68 L621.38,879.63 L622.27,879.58 L623.16,879.54 L624.05,879.50 L624.94,879.45 L625.83,879.41 L626.73,879.37 L627.62,879.33 L628.51,879.30 L629.40,879.26 L630.29,879.23 L631.18,879.19 L632.07,879.16 L632.97,879.13 L633.86,879.10 L634.75,879.07 L635.64,879.04 L636.53,879.01 L637.42,878.98 L638.31,878.96 L639.20,878.93 L640.10,878.91 L640.99,878.88 L641.88,878.86 L642.77,878.83 L643.66,878.81 L644.55,878.78 L645.44,878.76 L646.33,878.73 L647.23,878.71 L648.12,878.68 L649.01,878.66 L649.90,878.64 L650.79,878.62 L651.68,878.59 L652.57,878.57 L653.47,878.55 L654.36,878.53 L655.25,878.51 L656.14,878.50 L657.03,878.48 L657.92,878.47 L658.81,878.45 L659.70,878.44 L660.60,878.43 L661.49,878.42 L662.38,878.41 L663.27,878.41 L664.16,878.40 L665.05,878.40 L665.94,878.40 L666.83,878.40 L667.73,878.40 L668.62,878.40 L669.51,878.40 L670.40,878.40 L671.29,878.40 L672.18,878.40 L673.07,878.40 L673.97,878.40 L674.86,878.40 L675.75,878.40 L676.64,878.40 L677.53,878.40 L678.42,878.40 L679.31,878.40 L680.20,878.40 L681.10,878.40 L681.99,878.40 L682.88,878.40 L683.77,878.40 L684.66,878.40 L685.55,878.40 L686.44,878.40 L687.33,878.40 L688.23,878.40 L689.12,878.40 L690.01,878.40 L690.90,878.40" fill="none" stroke="#00ff00" stroke-width="0.6" stroke-dasharray="5.8,5" clip-path="url(#c2)"/>
<text x="158.90" y="755.90" font-size="13.4" fill="#0000ff" stroke="#0000ff" stroke-width="0.15">H<tspan font-size="8.8" dy="2.5">2</tspan><tspan dy="-2.5">O</tspan></text>
<text x="136.10" y="800.40" font-size="13.4" fill="#ff00ff" stroke="#ff00ff" stroke-width="0.15">H<tspan font-size="8.8" dy="2.5">2</tspan><tspan dy="-2.5">CO</tspan></text>
<text x="120.10" y="850.70" font-size="13.4" fill="#000000" stroke="#000000" stroke-width="0.15">NH<tspan font-size="8.8" dy="2.5">3</tspan><tspan dy="-2.5"></tspan></text>
<text x="224.70" y="913.10" font-size="13.4" fill="#ff0000" stroke="#ff0000" stroke-width="0.15">HC<tspan font-size="8.8" dy="2.5">3</tspan><tspan dy="-2.5">N</tspan></text>
<text x="198.5" y="949.7" font-size="13.4" fill="#00ff00" stroke="#00ff00" stroke-width="0.15">SO</text>
<text x="561.10" y="771.40" font-size="13.4" fill="#0000ff" stroke="#0000ff" stroke-width="0.15">H<tspan font-size="8.8" dy="2.5">2</tspan><tspan dy="-2.5">O</tspan></text>
<text x="561.90" y="857.70" font-size="13.4" fill="#ff00ff" stroke="#ff00ff" stroke-width="0.15">H<tspan font-size="8.8" dy="2.5">2</tspan><tspan dy="-2.5">CO</tspan></text>
<text x="537.80" y="821.50" font-size="13.4" fill="#000000" stroke="#000000" stroke-width="0.15">NH<tspan font-size="8.8" dy="2.5">3</tspan><tspan dy="-2.5"></tspan></text>
<text x="592.30" y="933.70" font-size="13.4" fill="#ff0000" stroke="#ff0000" stroke-width="0.15">HC<tspan font-size="8.8" dy="2.5">3</tspan><tspan dy="-2.5">N</tspan></text>
<text x="526.5" y="896.2" font-size="13.4" fill="#00ff00" stroke="#00ff00" stroke-width="0.15">SO</text>
</svg></body></html>
